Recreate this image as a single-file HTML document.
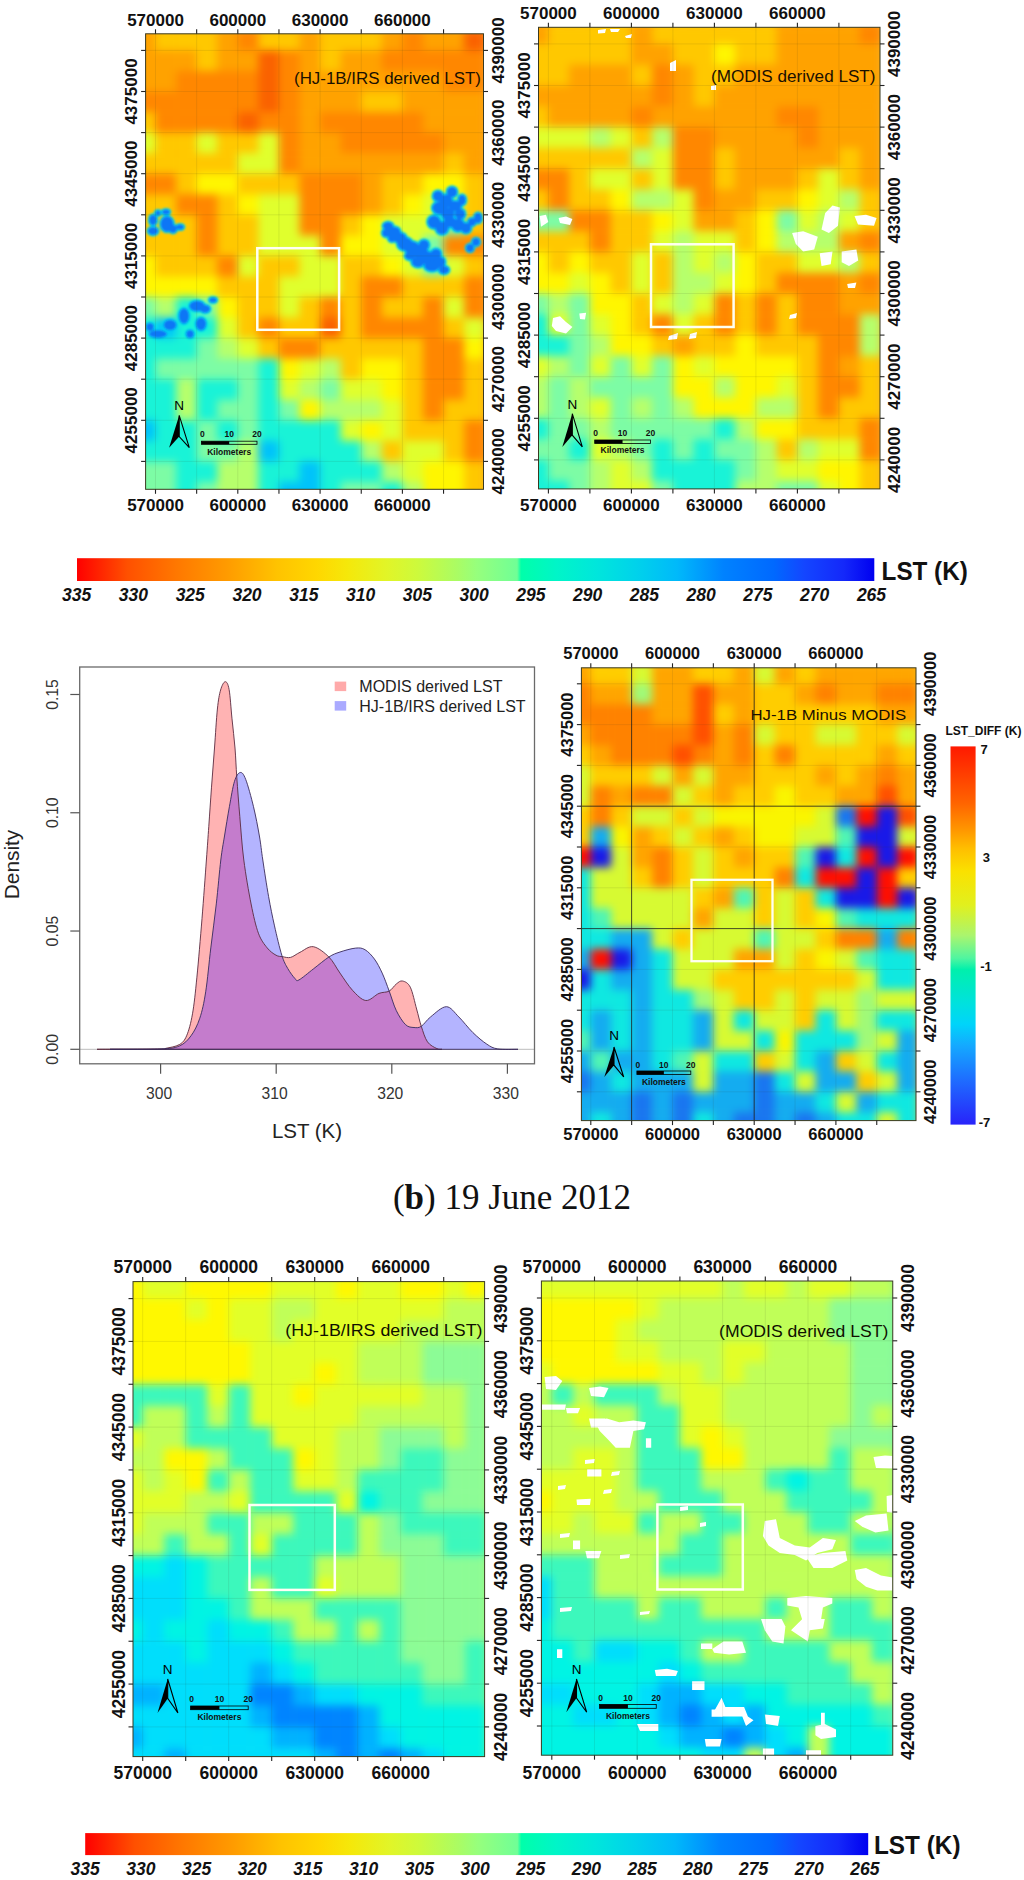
<!DOCTYPE html><html><head><meta charset="utf-8"><style>html,body{margin:0;padding:0;background:#fff;}svg{display:block;}</style></head><body>
<svg width="1024" height="1880" viewBox="0 0 1024 1880">
<rect width="1024" height="1880" fill="#fff"/>
<defs><filter id="blobblur" x="-10%" y="-10%" width="120%" height="120%"><feGaussianBlur stdDeviation="0.8"/></filter><filter id="blur_m1" x="-5%" y="-5%" width="110%" height="110%" color-interpolation-filters="sRGB"><feGaussianBlur stdDeviation="4.5" edgeMode="duplicate"/></filter><filter id="blur_m2" x="-5%" y="-5%" width="110%" height="110%" color-interpolation-filters="sRGB"><feGaussianBlur stdDeviation="4.5" edgeMode="duplicate"/></filter><filter id="blur_m3" x="-5%" y="-5%" width="110%" height="110%" color-interpolation-filters="sRGB"><feGaussianBlur stdDeviation="4.5" edgeMode="duplicate"/></filter><filter id="blur_m4" x="-5%" y="-5%" width="110%" height="110%" color-interpolation-filters="sRGB"><feGaussianBlur stdDeviation="4.5" edgeMode="duplicate"/></filter><filter id="blur_m5" x="-5%" y="-5%" width="110%" height="110%" color-interpolation-filters="sRGB"><feGaussianBlur stdDeviation="4.5" edgeMode="duplicate"/></filter></defs>
<clipPath id="clip_m1"><rect x="145.6" y="33.8" width="337.90" height="455.50"/></clipPath>
<g clip-path="url(#clip_m1)">
<rect x="145.6" y="33.8" width="337.9" height="455.5" fill="#f5a030"/>
<g filter="url(#blur_m1)"><rect x="134.9" y="29.8" width="21.2" height="21.2" fill="rgb(255, 162, 0)"/><rect x="155.5" y="29.8" width="21.2" height="21.2" fill="rgb(255, 200, 0)"/><rect x="176.1" y="29.8" width="21.2" height="21.2" fill="rgb(255, 200, 0)"/><rect x="196.7" y="29.8" width="21.2" height="21.2" fill="rgb(255, 200, 0)"/><rect x="217.2" y="29.8" width="21.2" height="21.2" fill="rgb(255, 162, 0)"/><rect x="237.8" y="29.8" width="21.2" height="21.2" fill="rgb(255, 135, 0)"/><rect x="258.4" y="29.8" width="21.2" height="21.2" fill="rgb(255, 200, 0)"/><rect x="278.9" y="29.8" width="21.2" height="21.2" fill="rgb(255, 200, 0)"/><rect x="299.5" y="29.8" width="21.2" height="21.2" fill="rgb(255, 162, 0)"/><rect x="320.1" y="29.8" width="21.2" height="21.2" fill="rgb(255, 200, 0)"/><rect x="340.7" y="29.8" width="21.2" height="21.2" fill="rgb(255, 200, 0)"/><rect x="361.2" y="29.8" width="21.2" height="21.2" fill="rgb(255, 200, 0)"/><rect x="381.8" y="29.8" width="21.2" height="21.2" fill="rgb(255, 162, 0)"/><rect x="402.4" y="29.8" width="21.2" height="21.2" fill="rgb(255, 135, 0)"/><rect x="423.0" y="29.8" width="21.2" height="21.2" fill="rgb(255, 162, 0)"/><rect x="443.6" y="29.8" width="21.2" height="21.2" fill="rgb(255, 162, 0)"/><rect x="464.1" y="29.8" width="21.2" height="21.2" fill="rgb(250, 98, 0)"/><rect x="134.9" y="50.4" width="21.2" height="21.2" fill="rgb(255, 162, 0)"/><rect x="155.5" y="50.4" width="21.2" height="21.2" fill="rgb(255, 162, 0)"/><rect x="176.1" y="50.4" width="21.2" height="21.2" fill="rgb(255, 162, 0)"/><rect x="196.7" y="50.4" width="21.2" height="21.2" fill="rgb(255, 200, 0)"/><rect x="217.2" y="50.4" width="21.2" height="21.2" fill="rgb(255, 162, 0)"/><rect x="237.8" y="50.4" width="21.2" height="21.2" fill="rgb(255, 162, 0)"/><rect x="258.4" y="50.4" width="21.2" height="21.2" fill="rgb(250, 98, 0)"/><rect x="278.9" y="50.4" width="21.2" height="21.2" fill="rgb(255, 135, 0)"/><rect x="299.5" y="50.4" width="21.2" height="21.2" fill="rgb(255, 162, 0)"/><rect x="320.1" y="50.4" width="21.2" height="21.2" fill="rgb(255, 200, 0)"/><rect x="340.7" y="50.4" width="21.2" height="21.2" fill="rgb(255, 162, 0)"/><rect x="361.2" y="50.4" width="21.2" height="21.2" fill="rgb(255, 162, 0)"/><rect x="381.8" y="50.4" width="21.2" height="21.2" fill="rgb(255, 135, 0)"/><rect x="402.4" y="50.4" width="21.2" height="21.2" fill="rgb(255, 135, 0)"/><rect x="423.0" y="50.4" width="21.2" height="21.2" fill="rgb(255, 135, 0)"/><rect x="443.6" y="50.4" width="21.2" height="21.2" fill="rgb(255, 135, 0)"/><rect x="464.1" y="50.4" width="21.2" height="21.2" fill="rgb(255, 135, 0)"/><rect x="134.9" y="71.0" width="21.2" height="21.2" fill="rgb(255, 162, 0)"/><rect x="155.5" y="71.0" width="21.2" height="21.2" fill="rgb(255, 162, 0)"/><rect x="176.1" y="71.0" width="21.2" height="21.2" fill="rgb(255, 135, 0)"/><rect x="196.7" y="71.0" width="21.2" height="21.2" fill="rgb(255, 135, 0)"/><rect x="217.2" y="71.0" width="21.2" height="21.2" fill="rgb(255, 135, 0)"/><rect x="237.8" y="71.0" width="21.2" height="21.2" fill="rgb(255, 135, 0)"/><rect x="258.4" y="71.0" width="21.2" height="21.2" fill="rgb(250, 98, 0)"/><rect x="278.9" y="71.0" width="21.2" height="21.2" fill="rgb(255, 135, 0)"/><rect x="299.5" y="71.0" width="21.2" height="21.2" fill="rgb(255, 162, 0)"/><rect x="320.1" y="71.0" width="21.2" height="21.2" fill="rgb(255, 162, 0)"/><rect x="340.7" y="71.0" width="21.2" height="21.2" fill="rgb(255, 162, 0)"/><rect x="361.2" y="71.0" width="21.2" height="21.2" fill="rgb(255, 162, 0)"/><rect x="381.8" y="71.0" width="21.2" height="21.2" fill="rgb(255, 162, 0)"/><rect x="402.4" y="71.0" width="21.2" height="21.2" fill="rgb(255, 162, 0)"/><rect x="423.0" y="71.0" width="21.2" height="21.2" fill="rgb(255, 162, 0)"/><rect x="443.6" y="71.0" width="21.2" height="21.2" fill="rgb(255, 135, 0)"/><rect x="464.1" y="71.0" width="21.2" height="21.2" fill="rgb(255, 135, 0)"/><rect x="134.9" y="91.5" width="21.2" height="21.2" fill="rgb(255, 135, 0)"/><rect x="155.5" y="91.5" width="21.2" height="21.2" fill="rgb(255, 135, 0)"/><rect x="176.1" y="91.5" width="21.2" height="21.2" fill="rgb(255, 135, 0)"/><rect x="196.7" y="91.5" width="21.2" height="21.2" fill="rgb(255, 135, 0)"/><rect x="217.2" y="91.5" width="21.2" height="21.2" fill="rgb(255, 135, 0)"/><rect x="237.8" y="91.5" width="21.2" height="21.2" fill="rgb(255, 135, 0)"/><rect x="258.4" y="91.5" width="21.2" height="21.2" fill="rgb(250, 98, 0)"/><rect x="278.9" y="91.5" width="21.2" height="21.2" fill="rgb(255, 135, 0)"/><rect x="299.5" y="91.5" width="21.2" height="21.2" fill="rgb(255, 162, 0)"/><rect x="320.1" y="91.5" width="21.2" height="21.2" fill="rgb(255, 162, 0)"/><rect x="340.7" y="91.5" width="21.2" height="21.2" fill="rgb(255, 162, 0)"/><rect x="361.2" y="91.5" width="21.2" height="21.2" fill="rgb(255, 200, 0)"/><rect x="381.8" y="91.5" width="21.2" height="21.2" fill="rgb(255, 200, 0)"/><rect x="402.4" y="91.5" width="21.2" height="21.2" fill="rgb(255, 162, 0)"/><rect x="423.0" y="91.5" width="21.2" height="21.2" fill="rgb(255, 162, 0)"/><rect x="443.6" y="91.5" width="21.2" height="21.2" fill="rgb(255, 162, 0)"/><rect x="464.1" y="91.5" width="21.2" height="21.2" fill="rgb(255, 162, 0)"/><rect x="134.9" y="112.1" width="21.2" height="21.2" fill="rgb(255, 200, 0)"/><rect x="155.5" y="112.1" width="21.2" height="21.2" fill="rgb(255, 135, 0)"/><rect x="176.1" y="112.1" width="21.2" height="21.2" fill="rgb(255, 135, 0)"/><rect x="196.7" y="112.1" width="21.2" height="21.2" fill="rgb(255, 135, 0)"/><rect x="217.2" y="112.1" width="21.2" height="21.2" fill="rgb(255, 135, 0)"/><rect x="237.8" y="112.1" width="21.2" height="21.2" fill="rgb(250, 98, 0)"/><rect x="258.4" y="112.1" width="21.2" height="21.2" fill="rgb(255, 135, 0)"/><rect x="278.9" y="112.1" width="21.2" height="21.2" fill="rgb(255, 135, 0)"/><rect x="299.5" y="112.1" width="21.2" height="21.2" fill="rgb(255, 162, 0)"/><rect x="320.1" y="112.1" width="21.2" height="21.2" fill="rgb(255, 135, 0)"/><rect x="340.7" y="112.1" width="21.2" height="21.2" fill="rgb(255, 135, 0)"/><rect x="361.2" y="112.1" width="21.2" height="21.2" fill="rgb(255, 135, 0)"/><rect x="381.8" y="112.1" width="21.2" height="21.2" fill="rgb(255, 135, 0)"/><rect x="402.4" y="112.1" width="21.2" height="21.2" fill="rgb(255, 135, 0)"/><rect x="423.0" y="112.1" width="21.2" height="21.2" fill="rgb(255, 162, 0)"/><rect x="443.6" y="112.1" width="21.2" height="21.2" fill="rgb(255, 162, 0)"/><rect x="464.1" y="112.1" width="21.2" height="21.2" fill="rgb(255, 162, 0)"/><rect x="134.9" y="132.6" width="21.2" height="21.2" fill="rgb(224, 255, 45)"/><rect x="155.5" y="132.6" width="21.2" height="21.2" fill="rgb(255, 200, 0)"/><rect x="176.1" y="132.6" width="21.2" height="21.2" fill="rgb(255, 200, 0)"/><rect x="196.7" y="132.6" width="21.2" height="21.2" fill="rgb(224, 255, 45)"/><rect x="217.2" y="132.6" width="21.2" height="21.2" fill="rgb(255, 200, 0)"/><rect x="237.8" y="132.6" width="21.2" height="21.2" fill="rgb(255, 200, 0)"/><rect x="258.4" y="132.6" width="21.2" height="21.2" fill="rgb(224, 255, 45)"/><rect x="278.9" y="132.6" width="21.2" height="21.2" fill="rgb(255, 135, 0)"/><rect x="299.5" y="132.6" width="21.2" height="21.2" fill="rgb(255, 162, 0)"/><rect x="320.1" y="132.6" width="21.2" height="21.2" fill="rgb(255, 162, 0)"/><rect x="340.7" y="132.6" width="21.2" height="21.2" fill="rgb(255, 135, 0)"/><rect x="361.2" y="132.6" width="21.2" height="21.2" fill="rgb(255, 135, 0)"/><rect x="381.8" y="132.6" width="21.2" height="21.2" fill="rgb(255, 135, 0)"/><rect x="402.4" y="132.6" width="21.2" height="21.2" fill="rgb(255, 135, 0)"/><rect x="423.0" y="132.6" width="21.2" height="21.2" fill="rgb(255, 135, 0)"/><rect x="443.6" y="132.6" width="21.2" height="21.2" fill="rgb(255, 162, 0)"/><rect x="464.1" y="132.6" width="21.2" height="21.2" fill="rgb(255, 162, 0)"/><rect x="134.9" y="153.2" width="21.2" height="21.2" fill="rgb(255, 200, 0)"/><rect x="155.5" y="153.2" width="21.2" height="21.2" fill="rgb(255, 200, 0)"/><rect x="176.1" y="153.2" width="21.2" height="21.2" fill="rgb(255, 200, 0)"/><rect x="196.7" y="153.2" width="21.2" height="21.2" fill="rgb(255, 200, 0)"/><rect x="217.2" y="153.2" width="21.2" height="21.2" fill="rgb(255, 200, 0)"/><rect x="237.8" y="153.2" width="21.2" height="21.2" fill="rgb(224, 255, 45)"/><rect x="258.4" y="153.2" width="21.2" height="21.2" fill="rgb(224, 255, 45)"/><rect x="278.9" y="153.2" width="21.2" height="21.2" fill="rgb(255, 135, 0)"/><rect x="299.5" y="153.2" width="21.2" height="21.2" fill="rgb(255, 162, 0)"/><rect x="320.1" y="153.2" width="21.2" height="21.2" fill="rgb(255, 162, 0)"/><rect x="340.7" y="153.2" width="21.2" height="21.2" fill="rgb(255, 162, 0)"/><rect x="361.2" y="153.2" width="21.2" height="21.2" fill="rgb(255, 162, 0)"/><rect x="381.8" y="153.2" width="21.2" height="21.2" fill="rgb(255, 162, 0)"/><rect x="402.4" y="153.2" width="21.2" height="21.2" fill="rgb(255, 162, 0)"/><rect x="423.0" y="153.2" width="21.2" height="21.2" fill="rgb(255, 162, 0)"/><rect x="443.6" y="153.2" width="21.2" height="21.2" fill="rgb(255, 200, 0)"/><rect x="464.1" y="153.2" width="21.2" height="21.2" fill="rgb(255, 162, 0)"/><rect x="134.9" y="173.7" width="21.2" height="21.2" fill="rgb(255, 135, 0)"/><rect x="155.5" y="173.7" width="21.2" height="21.2" fill="rgb(255, 135, 0)"/><rect x="176.1" y="173.7" width="21.2" height="21.2" fill="rgb(255, 200, 0)"/><rect x="196.7" y="173.7" width="21.2" height="21.2" fill="rgb(255, 246, 0)"/><rect x="217.2" y="173.7" width="21.2" height="21.2" fill="rgb(255, 246, 0)"/><rect x="237.8" y="173.7" width="21.2" height="21.2" fill="rgb(255, 200, 0)"/><rect x="258.4" y="173.7" width="21.2" height="21.2" fill="rgb(255, 200, 0)"/><rect x="278.9" y="173.7" width="21.2" height="21.2" fill="rgb(255, 200, 0)"/><rect x="299.5" y="173.7" width="21.2" height="21.2" fill="rgb(255, 135, 0)"/><rect x="320.1" y="173.7" width="21.2" height="21.2" fill="rgb(255, 135, 0)"/><rect x="340.7" y="173.7" width="21.2" height="21.2" fill="rgb(255, 135, 0)"/><rect x="361.2" y="173.7" width="21.2" height="21.2" fill="rgb(255, 162, 0)"/><rect x="381.8" y="173.7" width="21.2" height="21.2" fill="rgb(255, 200, 0)"/><rect x="402.4" y="173.7" width="21.2" height="21.2" fill="rgb(255, 200, 0)"/><rect x="423.0" y="173.7" width="21.2" height="21.2" fill="rgb(255, 246, 0)"/><rect x="443.6" y="173.7" width="21.2" height="21.2" fill="rgb(255, 246, 0)"/><rect x="464.1" y="173.7" width="21.2" height="21.2" fill="rgb(255, 200, 0)"/><rect x="134.9" y="194.2" width="21.2" height="21.2" fill="rgb(255, 200, 0)"/><rect x="155.5" y="194.2" width="21.2" height="21.2" fill="rgb(255, 200, 0)"/><rect x="176.1" y="194.2" width="21.2" height="21.2" fill="rgb(255, 135, 0)"/><rect x="196.7" y="194.2" width="21.2" height="21.2" fill="rgb(255, 135, 0)"/><rect x="217.2" y="194.2" width="21.2" height="21.2" fill="rgb(255, 200, 0)"/><rect x="237.8" y="194.2" width="21.2" height="21.2" fill="rgb(255, 246, 0)"/><rect x="258.4" y="194.2" width="21.2" height="21.2" fill="rgb(224, 255, 45)"/><rect x="278.9" y="194.2" width="21.2" height="21.2" fill="rgb(224, 255, 45)"/><rect x="299.5" y="194.2" width="21.2" height="21.2" fill="rgb(255, 135, 0)"/><rect x="320.1" y="194.2" width="21.2" height="21.2" fill="rgb(255, 135, 0)"/><rect x="340.7" y="194.2" width="21.2" height="21.2" fill="rgb(255, 135, 0)"/><rect x="361.2" y="194.2" width="21.2" height="21.2" fill="rgb(255, 162, 0)"/><rect x="381.8" y="194.2" width="21.2" height="21.2" fill="rgb(255, 200, 0)"/><rect x="402.4" y="194.2" width="21.2" height="21.2" fill="rgb(255, 246, 0)"/><rect x="423.0" y="194.2" width="21.2" height="21.2" fill="rgb(224, 255, 45)"/><rect x="443.6" y="194.2" width="21.2" height="21.2" fill="rgb(224, 255, 45)"/><rect x="464.1" y="194.2" width="21.2" height="21.2" fill="rgb(255, 200, 0)"/><rect x="134.9" y="214.8" width="21.2" height="21.2" fill="rgb(255, 200, 0)"/><rect x="155.5" y="214.8" width="21.2" height="21.2" fill="rgb(255, 200, 0)"/><rect x="176.1" y="214.8" width="21.2" height="21.2" fill="rgb(255, 200, 0)"/><rect x="196.7" y="214.8" width="21.2" height="21.2" fill="rgb(255, 135, 0)"/><rect x="217.2" y="214.8" width="21.2" height="21.2" fill="rgb(255, 200, 0)"/><rect x="237.8" y="214.8" width="21.2" height="21.2" fill="rgb(255, 200, 0)"/><rect x="258.4" y="214.8" width="21.2" height="21.2" fill="rgb(224, 255, 45)"/><rect x="278.9" y="214.8" width="21.2" height="21.2" fill="rgb(224, 255, 45)"/><rect x="299.5" y="214.8" width="21.2" height="21.2" fill="rgb(255, 135, 0)"/><rect x="320.1" y="214.8" width="21.2" height="21.2" fill="rgb(255, 135, 0)"/><rect x="340.7" y="214.8" width="21.2" height="21.2" fill="rgb(255, 200, 0)"/><rect x="361.2" y="214.8" width="21.2" height="21.2" fill="rgb(255, 246, 0)"/><rect x="381.8" y="214.8" width="21.2" height="21.2" fill="rgb(224, 255, 45)"/><rect x="402.4" y="214.8" width="21.2" height="21.2" fill="rgb(224, 255, 45)"/><rect x="423.0" y="214.8" width="21.2" height="21.2" fill="rgb(224, 255, 45)"/><rect x="443.6" y="214.8" width="21.2" height="21.2" fill="rgb(125, 252, 165)"/><rect x="464.1" y="214.8" width="21.2" height="21.2" fill="rgb(255, 200, 0)"/><rect x="134.9" y="235.4" width="21.2" height="21.2" fill="rgb(255, 200, 0)"/><rect x="155.5" y="235.4" width="21.2" height="21.2" fill="rgb(255, 200, 0)"/><rect x="176.1" y="235.4" width="21.2" height="21.2" fill="rgb(255, 200, 0)"/><rect x="196.7" y="235.4" width="21.2" height="21.2" fill="rgb(255, 135, 0)"/><rect x="217.2" y="235.4" width="21.2" height="21.2" fill="rgb(255, 200, 0)"/><rect x="237.8" y="235.4" width="21.2" height="21.2" fill="rgb(255, 200, 0)"/><rect x="258.4" y="235.4" width="21.2" height="21.2" fill="rgb(224, 255, 45)"/><rect x="278.9" y="235.4" width="21.2" height="21.2" fill="rgb(224, 255, 45)"/><rect x="299.5" y="235.4" width="21.2" height="21.2" fill="rgb(224, 255, 45)"/><rect x="320.1" y="235.4" width="21.2" height="21.2" fill="rgb(255, 135, 0)"/><rect x="340.7" y="235.4" width="21.2" height="21.2" fill="rgb(255, 246, 0)"/><rect x="361.2" y="235.4" width="21.2" height="21.2" fill="rgb(255, 246, 0)"/><rect x="381.8" y="235.4" width="21.2" height="21.2" fill="rgb(224, 255, 45)"/><rect x="402.4" y="235.4" width="21.2" height="21.2" fill="rgb(224, 255, 45)"/><rect x="423.0" y="235.4" width="21.2" height="21.2" fill="rgb(125, 252, 165)"/><rect x="443.6" y="235.4" width="21.2" height="21.2" fill="rgb(255, 135, 0)"/><rect x="464.1" y="235.4" width="21.2" height="21.2" fill="rgb(255, 135, 0)"/><rect x="134.9" y="255.9" width="21.2" height="21.2" fill="rgb(255, 246, 0)"/><rect x="155.5" y="255.9" width="21.2" height="21.2" fill="rgb(255, 200, 0)"/><rect x="176.1" y="255.9" width="21.2" height="21.2" fill="rgb(255, 200, 0)"/><rect x="196.7" y="255.9" width="21.2" height="21.2" fill="rgb(255, 200, 0)"/><rect x="217.2" y="255.9" width="21.2" height="21.2" fill="rgb(255, 135, 0)"/><rect x="237.8" y="255.9" width="21.2" height="21.2" fill="rgb(224, 255, 45)"/><rect x="258.4" y="255.9" width="21.2" height="21.2" fill="rgb(255, 200, 0)"/><rect x="278.9" y="255.9" width="21.2" height="21.2" fill="rgb(255, 200, 0)"/><rect x="299.5" y="255.9" width="21.2" height="21.2" fill="rgb(224, 255, 45)"/><rect x="320.1" y="255.9" width="21.2" height="21.2" fill="rgb(224, 255, 45)"/><rect x="340.7" y="255.9" width="21.2" height="21.2" fill="rgb(255, 200, 0)"/><rect x="361.2" y="255.9" width="21.2" height="21.2" fill="rgb(255, 200, 0)"/><rect x="381.8" y="255.9" width="21.2" height="21.2" fill="rgb(255, 246, 0)"/><rect x="402.4" y="255.9" width="21.2" height="21.2" fill="rgb(224, 255, 45)"/><rect x="423.0" y="255.9" width="21.2" height="21.2" fill="rgb(125, 252, 165)"/><rect x="443.6" y="255.9" width="21.2" height="21.2" fill="rgb(224, 255, 45)"/><rect x="464.1" y="255.9" width="21.2" height="21.2" fill="rgb(255, 200, 0)"/><rect x="134.9" y="276.4" width="21.2" height="21.2" fill="rgb(255, 246, 0)"/><rect x="155.5" y="276.4" width="21.2" height="21.2" fill="rgb(255, 246, 0)"/><rect x="176.1" y="276.4" width="21.2" height="21.2" fill="rgb(255, 246, 0)"/><rect x="196.7" y="276.4" width="21.2" height="21.2" fill="rgb(255, 246, 0)"/><rect x="217.2" y="276.4" width="21.2" height="21.2" fill="rgb(255, 200, 0)"/><rect x="237.8" y="276.4" width="21.2" height="21.2" fill="rgb(255, 200, 0)"/><rect x="258.4" y="276.4" width="21.2" height="21.2" fill="rgb(255, 200, 0)"/><rect x="278.9" y="276.4" width="21.2" height="21.2" fill="rgb(224, 255, 45)"/><rect x="299.5" y="276.4" width="21.2" height="21.2" fill="rgb(224, 255, 45)"/><rect x="320.1" y="276.4" width="21.2" height="21.2" fill="rgb(224, 255, 45)"/><rect x="340.7" y="276.4" width="21.2" height="21.2" fill="rgb(255, 200, 0)"/><rect x="361.2" y="276.4" width="21.2" height="21.2" fill="rgb(255, 135, 0)"/><rect x="381.8" y="276.4" width="21.2" height="21.2" fill="rgb(255, 135, 0)"/><rect x="402.4" y="276.4" width="21.2" height="21.2" fill="rgb(255, 200, 0)"/><rect x="423.0" y="276.4" width="21.2" height="21.2" fill="rgb(255, 200, 0)"/><rect x="443.6" y="276.4" width="21.2" height="21.2" fill="rgb(255, 200, 0)"/><rect x="464.1" y="276.4" width="21.2" height="21.2" fill="rgb(255, 135, 0)"/><rect x="134.9" y="297.0" width="21.2" height="21.2" fill="rgb(125, 252, 165)"/><rect x="155.5" y="297.0" width="21.2" height="21.2" fill="rgb(182, 255, 108)"/><rect x="176.1" y="297.0" width="21.2" height="21.2" fill="rgb(25, 243, 215)"/><rect x="196.7" y="297.0" width="21.2" height="21.2" fill="rgb(125, 252, 165)"/><rect x="217.2" y="297.0" width="21.2" height="21.2" fill="rgb(255, 246, 0)"/><rect x="237.8" y="297.0" width="21.2" height="21.2" fill="rgb(255, 200, 0)"/><rect x="258.4" y="297.0" width="21.2" height="21.2" fill="rgb(255, 200, 0)"/><rect x="278.9" y="297.0" width="21.2" height="21.2" fill="rgb(224, 255, 45)"/><rect x="299.5" y="297.0" width="21.2" height="21.2" fill="rgb(255, 200, 0)"/><rect x="320.1" y="297.0" width="21.2" height="21.2" fill="rgb(255, 135, 0)"/><rect x="340.7" y="297.0" width="21.2" height="21.2" fill="rgb(255, 200, 0)"/><rect x="361.2" y="297.0" width="21.2" height="21.2" fill="rgb(255, 135, 0)"/><rect x="381.8" y="297.0" width="21.2" height="21.2" fill="rgb(255, 200, 0)"/><rect x="402.4" y="297.0" width="21.2" height="21.2" fill="rgb(255, 200, 0)"/><rect x="423.0" y="297.0" width="21.2" height="21.2" fill="rgb(255, 135, 0)"/><rect x="443.6" y="297.0" width="21.2" height="21.2" fill="rgb(224, 255, 45)"/><rect x="464.1" y="297.0" width="21.2" height="21.2" fill="rgb(255, 135, 0)"/><rect x="134.9" y="317.6" width="21.2" height="21.2" fill="rgb(25, 243, 215)"/><rect x="155.5" y="317.6" width="21.2" height="21.2" fill="rgb(0, 195, 250)"/><rect x="176.1" y="317.6" width="21.2" height="21.2" fill="rgb(25, 243, 215)"/><rect x="196.7" y="317.6" width="21.2" height="21.2" fill="rgb(25, 243, 215)"/><rect x="217.2" y="317.6" width="21.2" height="21.2" fill="rgb(224, 255, 45)"/><rect x="237.8" y="317.6" width="21.2" height="21.2" fill="rgb(255, 200, 0)"/><rect x="258.4" y="317.6" width="21.2" height="21.2" fill="rgb(255, 135, 0)"/><rect x="278.9" y="317.6" width="21.2" height="21.2" fill="rgb(255, 200, 0)"/><rect x="299.5" y="317.6" width="21.2" height="21.2" fill="rgb(255, 200, 0)"/><rect x="320.1" y="317.6" width="21.2" height="21.2" fill="rgb(250, 98, 0)"/><rect x="340.7" y="317.6" width="21.2" height="21.2" fill="rgb(255, 200, 0)"/><rect x="361.2" y="317.6" width="21.2" height="21.2" fill="rgb(255, 135, 0)"/><rect x="381.8" y="317.6" width="21.2" height="21.2" fill="rgb(255, 135, 0)"/><rect x="402.4" y="317.6" width="21.2" height="21.2" fill="rgb(255, 135, 0)"/><rect x="423.0" y="317.6" width="21.2" height="21.2" fill="rgb(255, 135, 0)"/><rect x="443.6" y="317.6" width="21.2" height="21.2" fill="rgb(255, 200, 0)"/><rect x="464.1" y="317.6" width="21.2" height="21.2" fill="rgb(224, 255, 45)"/><rect x="134.9" y="338.1" width="21.2" height="21.2" fill="rgb(25, 243, 215)"/><rect x="155.5" y="338.1" width="21.2" height="21.2" fill="rgb(25, 243, 215)"/><rect x="176.1" y="338.1" width="21.2" height="21.2" fill="rgb(25, 243, 215)"/><rect x="196.7" y="338.1" width="21.2" height="21.2" fill="rgb(125, 252, 165)"/><rect x="217.2" y="338.1" width="21.2" height="21.2" fill="rgb(182, 255, 108)"/><rect x="237.8" y="338.1" width="21.2" height="21.2" fill="rgb(224, 255, 45)"/><rect x="258.4" y="338.1" width="21.2" height="21.2" fill="rgb(255, 200, 0)"/><rect x="278.9" y="338.1" width="21.2" height="21.2" fill="rgb(255, 135, 0)"/><rect x="299.5" y="338.1" width="21.2" height="21.2" fill="rgb(255, 135, 0)"/><rect x="320.1" y="338.1" width="21.2" height="21.2" fill="rgb(255, 200, 0)"/><rect x="340.7" y="338.1" width="21.2" height="21.2" fill="rgb(255, 200, 0)"/><rect x="361.2" y="338.1" width="21.2" height="21.2" fill="rgb(255, 200, 0)"/><rect x="381.8" y="338.1" width="21.2" height="21.2" fill="rgb(255, 200, 0)"/><rect x="402.4" y="338.1" width="21.2" height="21.2" fill="rgb(255, 200, 0)"/><rect x="423.0" y="338.1" width="21.2" height="21.2" fill="rgb(255, 135, 0)"/><rect x="443.6" y="338.1" width="21.2" height="21.2" fill="rgb(255, 135, 0)"/><rect x="464.1" y="338.1" width="21.2" height="21.2" fill="rgb(255, 246, 0)"/><rect x="134.9" y="358.6" width="21.2" height="21.2" fill="rgb(25, 243, 215)"/><rect x="155.5" y="358.6" width="21.2" height="21.2" fill="rgb(125, 252, 165)"/><rect x="176.1" y="358.6" width="21.2" height="21.2" fill="rgb(125, 252, 165)"/><rect x="196.7" y="358.6" width="21.2" height="21.2" fill="rgb(125, 252, 165)"/><rect x="217.2" y="358.6" width="21.2" height="21.2" fill="rgb(125, 252, 165)"/><rect x="237.8" y="358.6" width="21.2" height="21.2" fill="rgb(125, 252, 165)"/><rect x="258.4" y="358.6" width="21.2" height="21.2" fill="rgb(25, 243, 215)"/><rect x="278.9" y="358.6" width="21.2" height="21.2" fill="rgb(255, 246, 0)"/><rect x="299.5" y="358.6" width="21.2" height="21.2" fill="rgb(224, 255, 45)"/><rect x="320.1" y="358.6" width="21.2" height="21.2" fill="rgb(182, 255, 108)"/><rect x="340.7" y="358.6" width="21.2" height="21.2" fill="rgb(255, 200, 0)"/><rect x="361.2" y="358.6" width="21.2" height="21.2" fill="rgb(255, 246, 0)"/><rect x="381.8" y="358.6" width="21.2" height="21.2" fill="rgb(255, 246, 0)"/><rect x="402.4" y="358.6" width="21.2" height="21.2" fill="rgb(255, 200, 0)"/><rect x="423.0" y="358.6" width="21.2" height="21.2" fill="rgb(255, 135, 0)"/><rect x="443.6" y="358.6" width="21.2" height="21.2" fill="rgb(255, 135, 0)"/><rect x="464.1" y="358.6" width="21.2" height="21.2" fill="rgb(255, 200, 0)"/><rect x="134.9" y="379.2" width="21.2" height="21.2" fill="rgb(25, 243, 215)"/><rect x="155.5" y="379.2" width="21.2" height="21.2" fill="rgb(25, 243, 215)"/><rect x="176.1" y="379.2" width="21.2" height="21.2" fill="rgb(182, 255, 108)"/><rect x="196.7" y="379.2" width="21.2" height="21.2" fill="rgb(25, 243, 215)"/><rect x="217.2" y="379.2" width="21.2" height="21.2" fill="rgb(25, 243, 215)"/><rect x="237.8" y="379.2" width="21.2" height="21.2" fill="rgb(125, 252, 165)"/><rect x="258.4" y="379.2" width="21.2" height="21.2" fill="rgb(25, 243, 215)"/><rect x="278.9" y="379.2" width="21.2" height="21.2" fill="rgb(224, 255, 45)"/><rect x="299.5" y="379.2" width="21.2" height="21.2" fill="rgb(182, 255, 108)"/><rect x="320.1" y="379.2" width="21.2" height="21.2" fill="rgb(125, 252, 165)"/><rect x="340.7" y="379.2" width="21.2" height="21.2" fill="rgb(224, 255, 45)"/><rect x="361.2" y="379.2" width="21.2" height="21.2" fill="rgb(224, 255, 45)"/><rect x="381.8" y="379.2" width="21.2" height="21.2" fill="rgb(255, 246, 0)"/><rect x="402.4" y="379.2" width="21.2" height="21.2" fill="rgb(255, 200, 0)"/><rect x="423.0" y="379.2" width="21.2" height="21.2" fill="rgb(255, 135, 0)"/><rect x="443.6" y="379.2" width="21.2" height="21.2" fill="rgb(255, 135, 0)"/><rect x="464.1" y="379.2" width="21.2" height="21.2" fill="rgb(255, 200, 0)"/><rect x="134.9" y="399.8" width="21.2" height="21.2" fill="rgb(25, 243, 215)"/><rect x="155.5" y="399.8" width="21.2" height="21.2" fill="rgb(25, 243, 215)"/><rect x="176.1" y="399.8" width="21.2" height="21.2" fill="rgb(182, 255, 108)"/><rect x="196.7" y="399.8" width="21.2" height="21.2" fill="rgb(25, 243, 215)"/><rect x="217.2" y="399.8" width="21.2" height="21.2" fill="rgb(125, 252, 165)"/><rect x="237.8" y="399.8" width="21.2" height="21.2" fill="rgb(125, 252, 165)"/><rect x="258.4" y="399.8" width="21.2" height="21.2" fill="rgb(25, 243, 215)"/><rect x="278.9" y="399.8" width="21.2" height="21.2" fill="rgb(125, 252, 165)"/><rect x="299.5" y="399.8" width="21.2" height="21.2" fill="rgb(255, 246, 0)"/><rect x="320.1" y="399.8" width="21.2" height="21.2" fill="rgb(182, 255, 108)"/><rect x="340.7" y="399.8" width="21.2" height="21.2" fill="rgb(182, 255, 108)"/><rect x="361.2" y="399.8" width="21.2" height="21.2" fill="rgb(182, 255, 108)"/><rect x="381.8" y="399.8" width="21.2" height="21.2" fill="rgb(224, 255, 45)"/><rect x="402.4" y="399.8" width="21.2" height="21.2" fill="rgb(255, 200, 0)"/><rect x="423.0" y="399.8" width="21.2" height="21.2" fill="rgb(255, 135, 0)"/><rect x="443.6" y="399.8" width="21.2" height="21.2" fill="rgb(255, 200, 0)"/><rect x="464.1" y="399.8" width="21.2" height="21.2" fill="rgb(255, 200, 0)"/><rect x="134.9" y="420.3" width="21.2" height="21.2" fill="rgb(0, 195, 250)"/><rect x="155.5" y="420.3" width="21.2" height="21.2" fill="rgb(25, 243, 215)"/><rect x="176.1" y="420.3" width="21.2" height="21.2" fill="rgb(25, 243, 215)"/><rect x="196.7" y="420.3" width="21.2" height="21.2" fill="rgb(125, 252, 165)"/><rect x="217.2" y="420.3" width="21.2" height="21.2" fill="rgb(25, 243, 215)"/><rect x="237.8" y="420.3" width="21.2" height="21.2" fill="rgb(125, 252, 165)"/><rect x="258.4" y="420.3" width="21.2" height="21.2" fill="rgb(25, 243, 215)"/><rect x="278.9" y="420.3" width="21.2" height="21.2" fill="rgb(25, 243, 215)"/><rect x="299.5" y="420.3" width="21.2" height="21.2" fill="rgb(25, 243, 215)"/><rect x="320.1" y="420.3" width="21.2" height="21.2" fill="rgb(25, 243, 215)"/><rect x="340.7" y="420.3" width="21.2" height="21.2" fill="rgb(224, 255, 45)"/><rect x="361.2" y="420.3" width="21.2" height="21.2" fill="rgb(255, 246, 0)"/><rect x="381.8" y="420.3" width="21.2" height="21.2" fill="rgb(224, 255, 45)"/><rect x="402.4" y="420.3" width="21.2" height="21.2" fill="rgb(255, 200, 0)"/><rect x="423.0" y="420.3" width="21.2" height="21.2" fill="rgb(255, 200, 0)"/><rect x="443.6" y="420.3" width="21.2" height="21.2" fill="rgb(255, 200, 0)"/><rect x="464.1" y="420.3" width="21.2" height="21.2" fill="rgb(255, 135, 0)"/><rect x="134.9" y="440.8" width="21.2" height="21.2" fill="rgb(25, 243, 215)"/><rect x="155.5" y="440.8" width="21.2" height="21.2" fill="rgb(25, 243, 215)"/><rect x="176.1" y="440.8" width="21.2" height="21.2" fill="rgb(25, 243, 215)"/><rect x="196.7" y="440.8" width="21.2" height="21.2" fill="rgb(125, 252, 165)"/><rect x="217.2" y="440.8" width="21.2" height="21.2" fill="rgb(125, 252, 165)"/><rect x="237.8" y="440.8" width="21.2" height="21.2" fill="rgb(182, 255, 108)"/><rect x="258.4" y="440.8" width="21.2" height="21.2" fill="rgb(0, 195, 250)"/><rect x="278.9" y="440.8" width="21.2" height="21.2" fill="rgb(25, 243, 215)"/><rect x="299.5" y="440.8" width="21.2" height="21.2" fill="rgb(25, 243, 215)"/><rect x="320.1" y="440.8" width="21.2" height="21.2" fill="rgb(25, 243, 215)"/><rect x="340.7" y="440.8" width="21.2" height="21.2" fill="rgb(25, 243, 215)"/><rect x="361.2" y="440.8" width="21.2" height="21.2" fill="rgb(182, 255, 108)"/><rect x="381.8" y="440.8" width="21.2" height="21.2" fill="rgb(255, 200, 0)"/><rect x="402.4" y="440.8" width="21.2" height="21.2" fill="rgb(224, 255, 45)"/><rect x="423.0" y="440.8" width="21.2" height="21.2" fill="rgb(224, 255, 45)"/><rect x="443.6" y="440.8" width="21.2" height="21.2" fill="rgb(255, 200, 0)"/><rect x="464.1" y="440.8" width="21.2" height="21.2" fill="rgb(255, 135, 0)"/><rect x="134.9" y="461.4" width="21.2" height="21.2" fill="rgb(125, 252, 165)"/><rect x="155.5" y="461.4" width="21.2" height="21.2" fill="rgb(125, 252, 165)"/><rect x="176.1" y="461.4" width="21.2" height="21.2" fill="rgb(25, 243, 215)"/><rect x="196.7" y="461.4" width="21.2" height="21.2" fill="rgb(25, 243, 215)"/><rect x="217.2" y="461.4" width="21.2" height="21.2" fill="rgb(182, 255, 108)"/><rect x="237.8" y="461.4" width="21.2" height="21.2" fill="rgb(182, 255, 108)"/><rect x="258.4" y="461.4" width="21.2" height="21.2" fill="rgb(25, 243, 215)"/><rect x="278.9" y="461.4" width="21.2" height="21.2" fill="rgb(25, 243, 215)"/><rect x="299.5" y="461.4" width="21.2" height="21.2" fill="rgb(0, 195, 250)"/><rect x="320.1" y="461.4" width="21.2" height="21.2" fill="rgb(25, 243, 215)"/><rect x="340.7" y="461.4" width="21.2" height="21.2" fill="rgb(25, 243, 215)"/><rect x="361.2" y="461.4" width="21.2" height="21.2" fill="rgb(25, 243, 215)"/><rect x="381.8" y="461.4" width="21.2" height="21.2" fill="rgb(182, 255, 108)"/><rect x="402.4" y="461.4" width="21.2" height="21.2" fill="rgb(224, 255, 45)"/><rect x="423.0" y="461.4" width="21.2" height="21.2" fill="rgb(255, 246, 0)"/><rect x="443.6" y="461.4" width="21.2" height="21.2" fill="rgb(255, 246, 0)"/><rect x="464.1" y="461.4" width="21.2" height="21.2" fill="rgb(255, 200, 0)"/><rect x="134.9" y="481.9" width="21.2" height="21.2" fill="rgb(125, 252, 165)"/><rect x="155.5" y="481.9" width="21.2" height="21.2" fill="rgb(125, 252, 165)"/><rect x="176.1" y="481.9" width="21.2" height="21.2" fill="rgb(25, 243, 215)"/><rect x="196.7" y="481.9" width="21.2" height="21.2" fill="rgb(125, 252, 165)"/><rect x="217.2" y="481.9" width="21.2" height="21.2" fill="rgb(182, 255, 108)"/><rect x="237.8" y="481.9" width="21.2" height="21.2" fill="rgb(182, 255, 108)"/><rect x="258.4" y="481.9" width="21.2" height="21.2" fill="rgb(25, 243, 215)"/><rect x="278.9" y="481.9" width="21.2" height="21.2" fill="rgb(0, 195, 250)"/><rect x="299.5" y="481.9" width="21.2" height="21.2" fill="rgb(0, 195, 250)"/><rect x="320.1" y="481.9" width="21.2" height="21.2" fill="rgb(25, 243, 215)"/><rect x="340.7" y="481.9" width="21.2" height="21.2" fill="rgb(125, 252, 165)"/><rect x="361.2" y="481.9" width="21.2" height="21.2" fill="rgb(125, 252, 165)"/><rect x="381.8" y="481.9" width="21.2" height="21.2" fill="rgb(25, 243, 215)"/><rect x="402.4" y="481.9" width="21.2" height="21.2" fill="rgb(182, 255, 108)"/><rect x="423.0" y="481.9" width="21.2" height="21.2" fill="rgb(255, 246, 0)"/><rect x="443.6" y="481.9" width="21.2" height="21.2" fill="rgb(255, 246, 0)"/><rect x="464.1" y="481.9" width="21.2" height="21.2" fill="rgb(255, 200, 0)"/></g>
<g filter="url(#blobblur)">
<ellipse cx="388" cy="226" rx="6.7" ry="5.4" fill="rgb(0,215,240)"/>
<ellipse cx="394" cy="232" rx="8.0" ry="6.7" fill="rgb(0,215,240)"/>
<ellipse cx="400" cy="238" rx="8.0" ry="6.7" fill="rgb(0,215,240)"/>
<ellipse cx="392" cy="238" rx="5.4" ry="5.4" fill="rgb(0,215,240)"/>
<ellipse cx="386" cy="233" rx="5.4" ry="5.4" fill="rgb(0,215,240)"/>
<ellipse cx="405" cy="244" rx="9.3" ry="8.0" fill="rgb(0,215,240)"/>
<ellipse cx="412" cy="248" rx="9.3" ry="8.0" fill="rgb(0,215,240)"/>
<ellipse cx="420" cy="252" rx="9.3" ry="8.0" fill="rgb(0,215,240)"/>
<ellipse cx="428" cy="258" rx="10.6" ry="8.0" fill="rgb(0,215,240)"/>
<ellipse cx="418" cy="262" rx="8.0" ry="6.7" fill="rgb(0,215,240)"/>
<ellipse cx="432" cy="266" rx="9.3" ry="6.7" fill="rgb(0,215,240)"/>
<ellipse cx="440" cy="262" rx="6.7" ry="6.7" fill="rgb(0,215,240)"/>
<ellipse cx="410" cy="256" rx="6.7" ry="5.4" fill="rgb(0,215,240)"/>
<ellipse cx="424" cy="245" rx="6.7" ry="6.7" fill="rgb(0,215,240)"/>
<ellipse cx="436" cy="254" rx="6.7" ry="6.7" fill="rgb(0,215,240)"/>
<ellipse cx="444" cy="270" rx="6.7" ry="5.4" fill="rgb(0,215,240)"/>
<ellipse cx="438" cy="196" rx="6.7" ry="6.7" fill="rgb(0,215,240)"/>
<ellipse cx="446" cy="201" rx="8.0" ry="8.0" fill="rgb(0,215,240)"/>
<ellipse cx="452" cy="192" rx="6.7" ry="6.7" fill="rgb(0,215,240)"/>
<ellipse cx="440" cy="208" rx="9.3" ry="8.0" fill="rgb(0,215,240)"/>
<ellipse cx="448" cy="214" rx="8.0" ry="8.0" fill="rgb(0,215,240)"/>
<ellipse cx="455" cy="206" rx="8.0" ry="6.7" fill="rgb(0,215,240)"/>
<ellipse cx="462" cy="200" rx="5.4" ry="6.7" fill="rgb(0,215,240)"/>
<ellipse cx="460" cy="214" rx="6.7" ry="6.7" fill="rgb(0,215,240)"/>
<ellipse cx="434" cy="222" rx="8.0" ry="8.0" fill="rgb(0,215,240)"/>
<ellipse cx="442" cy="228" rx="8.0" ry="8.0" fill="rgb(0,215,240)"/>
<ellipse cx="450" cy="222" rx="8.0" ry="6.7" fill="rgb(0,215,240)"/>
<ellipse cx="458" cy="225" rx="8.0" ry="8.0" fill="rgb(0,215,240)"/>
<ellipse cx="466" cy="228" rx="6.7" ry="6.7" fill="rgb(0,215,240)"/>
<ellipse cx="472" cy="222" rx="5.4" ry="5.4" fill="rgb(0,215,240)"/>
<ellipse cx="478" cy="218" rx="5.4" ry="6.7" fill="rgb(0,215,240)"/>
<ellipse cx="470" cy="248" rx="5.4" ry="5.4" fill="rgb(0,215,240)"/>
<ellipse cx="476" cy="242" rx="5.4" ry="5.4" fill="rgb(0,215,240)"/>
<ellipse cx="153" cy="220" rx="5.4" ry="6.7" fill="rgb(0,215,240)"/>
<ellipse cx="158" cy="213" rx="4.1" ry="4.1" fill="rgb(0,215,240)"/>
<ellipse cx="166" cy="212" rx="5.4" ry="4.1" fill="rgb(0,215,240)"/>
<ellipse cx="167" cy="224" rx="8.0" ry="9.3" fill="rgb(0,215,240)"/>
<ellipse cx="173" cy="229" rx="5.4" ry="5.4" fill="rgb(0,215,240)"/>
<ellipse cx="153" cy="231" rx="6.7" ry="5.4" fill="rgb(0,215,240)"/>
<ellipse cx="180" cy="227" rx="5.4" ry="4.1" fill="rgb(0,215,240)"/>
<ellipse cx="197" cy="306" rx="9.3" ry="6.7" fill="rgb(0,215,240)"/>
<ellipse cx="205" cy="309" rx="6.7" ry="5.4" fill="rgb(0,215,240)"/>
<ellipse cx="184" cy="316" rx="6.7" ry="9.3" fill="rgb(0,215,240)"/>
<ellipse cx="170" cy="325" rx="8.0" ry="6.7" fill="rgb(0,215,240)"/>
<ellipse cx="158" cy="334" rx="10.6" ry="5.4" fill="rgb(0,215,240)"/>
<ellipse cx="201" cy="324" rx="6.7" ry="8.0" fill="rgb(0,215,240)"/>
<ellipse cx="190" cy="334" rx="5.4" ry="5.4" fill="rgb(0,215,240)"/>
<ellipse cx="213" cy="300" rx="5.4" ry="4.1" fill="rgb(0,215,240)"/>
<ellipse cx="150" cy="327" rx="5.4" ry="5.4" fill="rgb(0,215,240)"/>
<ellipse cx="388" cy="226" rx="5.2" ry="3.9000000000000004" fill="rgb(10,118,246)"/>
<ellipse cx="394" cy="232" rx="6.5" ry="5.2" fill="rgb(10,118,246)"/>
<ellipse cx="400" cy="238" rx="6.5" ry="5.2" fill="rgb(10,118,246)"/>
<ellipse cx="392" cy="238" rx="3.9000000000000004" ry="3.9000000000000004" fill="rgb(10,118,246)"/>
<ellipse cx="386" cy="233" rx="3.9000000000000004" ry="3.9000000000000004" fill="rgb(10,118,246)"/>
<ellipse cx="405" cy="244" rx="7.800000000000001" ry="6.5" fill="rgb(10,118,246)"/>
<ellipse cx="412" cy="248" rx="7.800000000000001" ry="6.5" fill="rgb(10,118,246)"/>
<ellipse cx="420" cy="252" rx="7.800000000000001" ry="6.5" fill="rgb(10,118,246)"/>
<ellipse cx="428" cy="258" rx="9.1" ry="6.5" fill="rgb(10,118,246)"/>
<ellipse cx="418" cy="262" rx="6.5" ry="5.2" fill="rgb(10,118,246)"/>
<ellipse cx="432" cy="266" rx="7.800000000000001" ry="5.2" fill="rgb(10,118,246)"/>
<ellipse cx="440" cy="262" rx="5.2" ry="5.2" fill="rgb(10,118,246)"/>
<ellipse cx="410" cy="256" rx="5.2" ry="3.9000000000000004" fill="rgb(10,118,246)"/>
<ellipse cx="424" cy="245" rx="5.2" ry="5.2" fill="rgb(10,118,246)"/>
<ellipse cx="436" cy="254" rx="5.2" ry="5.2" fill="rgb(10,118,246)"/>
<ellipse cx="444" cy="270" rx="5.2" ry="3.9000000000000004" fill="rgb(10,118,246)"/>
<ellipse cx="438" cy="196" rx="5.2" ry="5.2" fill="rgb(10,118,246)"/>
<ellipse cx="446" cy="201" rx="6.5" ry="6.5" fill="rgb(10,118,246)"/>
<ellipse cx="452" cy="192" rx="5.2" ry="5.2" fill="rgb(10,118,246)"/>
<ellipse cx="440" cy="208" rx="7.800000000000001" ry="6.5" fill="rgb(10,118,246)"/>
<ellipse cx="448" cy="214" rx="6.5" ry="6.5" fill="rgb(10,118,246)"/>
<ellipse cx="455" cy="206" rx="6.5" ry="5.2" fill="rgb(10,118,246)"/>
<ellipse cx="462" cy="200" rx="3.9000000000000004" ry="5.2" fill="rgb(10,118,246)"/>
<ellipse cx="460" cy="214" rx="5.2" ry="5.2" fill="rgb(10,118,246)"/>
<ellipse cx="434" cy="222" rx="6.5" ry="6.5" fill="rgb(10,118,246)"/>
<ellipse cx="442" cy="228" rx="6.5" ry="6.5" fill="rgb(10,118,246)"/>
<ellipse cx="450" cy="222" rx="6.5" ry="5.2" fill="rgb(10,118,246)"/>
<ellipse cx="458" cy="225" rx="6.5" ry="6.5" fill="rgb(10,118,246)"/>
<ellipse cx="466" cy="228" rx="5.2" ry="5.2" fill="rgb(10,118,246)"/>
<ellipse cx="472" cy="222" rx="3.9000000000000004" ry="3.9000000000000004" fill="rgb(10,118,246)"/>
<ellipse cx="478" cy="218" rx="3.9000000000000004" ry="5.2" fill="rgb(10,118,246)"/>
<ellipse cx="470" cy="248" rx="3.9000000000000004" ry="3.9000000000000004" fill="rgb(10,118,246)"/>
<ellipse cx="476" cy="242" rx="3.9000000000000004" ry="3.9000000000000004" fill="rgb(10,118,246)"/>
<ellipse cx="153" cy="220" rx="3.9000000000000004" ry="5.2" fill="rgb(10,118,246)"/>
<ellipse cx="158" cy="213" rx="2.6" ry="2.6" fill="rgb(10,118,246)"/>
<ellipse cx="166" cy="212" rx="3.9000000000000004" ry="2.6" fill="rgb(10,118,246)"/>
<ellipse cx="167" cy="224" rx="6.5" ry="7.800000000000001" fill="rgb(10,118,246)"/>
<ellipse cx="173" cy="229" rx="3.9000000000000004" ry="3.9000000000000004" fill="rgb(10,118,246)"/>
<ellipse cx="153" cy="231" rx="5.2" ry="3.9000000000000004" fill="rgb(10,118,246)"/>
<ellipse cx="180" cy="227" rx="3.9000000000000004" ry="2.6" fill="rgb(10,118,246)"/>
<ellipse cx="197" cy="306" rx="7.800000000000001" ry="5.2" fill="rgb(10,118,246)"/>
<ellipse cx="205" cy="309" rx="5.2" ry="3.9000000000000004" fill="rgb(10,118,246)"/>
<ellipse cx="184" cy="316" rx="5.2" ry="7.800000000000001" fill="rgb(10,118,246)"/>
<ellipse cx="170" cy="325" rx="6.5" ry="5.2" fill="rgb(10,118,246)"/>
<ellipse cx="158" cy="334" rx="9.1" ry="3.9000000000000004" fill="rgb(10,118,246)"/>
<ellipse cx="201" cy="324" rx="5.2" ry="6.5" fill="rgb(10,118,246)"/>
<ellipse cx="190" cy="334" rx="3.9000000000000004" ry="3.9000000000000004" fill="rgb(10,118,246)"/>
<ellipse cx="213" cy="300" rx="3.9000000000000004" ry="2.6" fill="rgb(10,118,246)"/>
<ellipse cx="150" cy="327" rx="3.9000000000000004" ry="3.9000000000000004" fill="rgb(10,118,246)"/>
</g>
<g stroke="rgba(50,60,30,0.10)" stroke-width="1"><line x1="155.50" y1="33.8" x2="155.50" y2="489.3"/><line x1="196.65" y1="33.8" x2="196.65" y2="489.3"/><line x1="237.80" y1="33.8" x2="237.80" y2="489.3"/><line x1="278.95" y1="33.8" x2="278.95" y2="489.3"/><line x1="320.10" y1="33.8" x2="320.10" y2="489.3"/><line x1="361.25" y1="33.8" x2="361.25" y2="489.3"/><line x1="402.40" y1="33.8" x2="402.40" y2="489.3"/><line x1="443.55" y1="33.8" x2="443.55" y2="489.3"/><line x1="145.6" y1="50.40" x2="483.5" y2="50.40"/><line x1="145.6" y1="91.50" x2="483.5" y2="91.50"/><line x1="145.6" y1="132.60" x2="483.5" y2="132.60"/><line x1="145.6" y1="173.70" x2="483.5" y2="173.70"/><line x1="145.6" y1="214.80" x2="483.5" y2="214.80"/><line x1="145.6" y1="255.90" x2="483.5" y2="255.90"/><line x1="145.6" y1="297.00" x2="483.5" y2="297.00"/><line x1="145.6" y1="338.10" x2="483.5" y2="338.10"/><line x1="145.6" y1="379.20" x2="483.5" y2="379.20"/><line x1="145.6" y1="420.30" x2="483.5" y2="420.30"/><line x1="145.6" y1="461.40" x2="483.5" y2="461.40"/></g>
<rect x="257.3" y="248.2" width="81.8" height="81.6" fill="none" stroke="#fffff4" stroke-width="2.5"/>
<text x="294" y="84.4" textLength="187" lengthAdjust="spacingAndGlyphs" font-family='"Liberation Sans", sans-serif' font-size="15.8" fill="#1a1000">(HJ-1B/IRS derived LST)</text>
<path d="M179.2,415.3 L169.1,447.7 L179.2,436.6 Z" fill="#000"/><path d="M179.2,415.3 L189.29999999999998,447.7 L179.2,436.6 Z" fill="none" stroke="#000" stroke-width="1.1" stroke-linejoin="miter"/><text x="179.2" y="410.1" text-anchor="middle" font-family='"Liberation Sans", sans-serif' font-size="13.5">N</text><rect x="201.4" y="441.2" width="55.599999999999994" height="3.1000000000000227" fill="none" stroke="#000" stroke-width="0.8"/><rect x="201.4" y="441.2" width="27.799999999999983" height="3.1000000000000227" fill="#000"/><g font-family='"Liberation Sans", sans-serif' font-weight="bold" font-size="8.5" text-anchor="middle" fill="#111"><text x="202.4" y="437.0">0</text><text x="229.2" y="437.0">10</text><text x="257.0" y="437.0">20</text><text x="229.2" y="454.6">Kilometers</text></g>
</g>
<rect x="145.6" y="33.8" width="337.90" height="455.50" fill="none" stroke="#3a3a20" stroke-width="1"/>
<g stroke="#222" stroke-width="1.1"><line x1="155.50" y1="29.30" x2="155.50" y2="33.80"/><line x1="155.50" y1="489.30" x2="155.50" y2="493.80"/><line x1="196.65" y1="29.30" x2="196.65" y2="33.80"/><line x1="196.65" y1="489.30" x2="196.65" y2="493.80"/><line x1="237.80" y1="29.30" x2="237.80" y2="33.80"/><line x1="237.80" y1="489.30" x2="237.80" y2="493.80"/><line x1="278.95" y1="29.30" x2="278.95" y2="33.80"/><line x1="278.95" y1="489.30" x2="278.95" y2="493.80"/><line x1="320.10" y1="29.30" x2="320.10" y2="33.80"/><line x1="320.10" y1="489.30" x2="320.10" y2="493.80"/><line x1="361.25" y1="29.30" x2="361.25" y2="33.80"/><line x1="361.25" y1="489.30" x2="361.25" y2="493.80"/><line x1="402.40" y1="29.30" x2="402.40" y2="33.80"/><line x1="402.40" y1="489.30" x2="402.40" y2="493.80"/><line x1="443.55" y1="29.30" x2="443.55" y2="33.80"/><line x1="443.55" y1="489.30" x2="443.55" y2="493.80"/><line x1="141.10" y1="50.40" x2="145.60" y2="50.40"/><line x1="483.50" y1="50.40" x2="488.00" y2="50.40"/><line x1="141.10" y1="91.50" x2="145.60" y2="91.50"/><line x1="483.50" y1="91.50" x2="488.00" y2="91.50"/><line x1="141.10" y1="132.60" x2="145.60" y2="132.60"/><line x1="483.50" y1="132.60" x2="488.00" y2="132.60"/><line x1="141.10" y1="173.70" x2="145.60" y2="173.70"/><line x1="483.50" y1="173.70" x2="488.00" y2="173.70"/><line x1="141.10" y1="214.80" x2="145.60" y2="214.80"/><line x1="483.50" y1="214.80" x2="488.00" y2="214.80"/><line x1="141.10" y1="255.90" x2="145.60" y2="255.90"/><line x1="483.50" y1="255.90" x2="488.00" y2="255.90"/><line x1="141.10" y1="297.00" x2="145.60" y2="297.00"/><line x1="483.50" y1="297.00" x2="488.00" y2="297.00"/><line x1="141.10" y1="338.10" x2="145.60" y2="338.10"/><line x1="483.50" y1="338.10" x2="488.00" y2="338.10"/><line x1="141.10" y1="379.20" x2="145.60" y2="379.20"/><line x1="483.50" y1="379.20" x2="488.00" y2="379.20"/><line x1="141.10" y1="420.30" x2="145.60" y2="420.30"/><line x1="483.50" y1="420.30" x2="488.00" y2="420.30"/><line x1="141.10" y1="461.40" x2="145.60" y2="461.40"/><line x1="483.50" y1="461.40" x2="488.00" y2="461.40"/></g><g font-family='"Liberation Sans", sans-serif' font-weight="bold" font-size="17" text-anchor="middle" fill="#111"><text x="155.50" y="25.50">570000</text><text x="155.50" y="511.07">570000</text><text x="237.80" y="25.50">600000</text><text x="237.80" y="511.07">600000</text><text x="320.10" y="25.50">630000</text><text x="320.10" y="511.07">630000</text><text x="402.40" y="25.50">660000</text><text x="402.40" y="511.07">660000</text><text transform="translate(503.97,50.40) rotate(-90)">4390000</text><text transform="translate(137.10,91.50) rotate(-90)">4375000</text><text transform="translate(503.97,132.60) rotate(-90)">4360000</text><text transform="translate(137.10,173.70) rotate(-90)">4345000</text><text transform="translate(503.97,214.80) rotate(-90)">4330000</text><text transform="translate(137.10,255.90) rotate(-90)">4315000</text><text transform="translate(503.97,297.00) rotate(-90)">4300000</text><text transform="translate(137.10,338.10) rotate(-90)">4285000</text><text transform="translate(503.97,379.20) rotate(-90)">4270000</text><text transform="translate(137.10,420.30) rotate(-90)">4255000</text><text transform="translate(503.97,461.40) rotate(-90)">4240000</text></g>
<clipPath id="clip_m2"><rect x="538.5" y="27.3" width="341.50" height="461.60"/></clipPath>
<g clip-path="url(#clip_m2)">
<rect x="538.5" y="27.3" width="341.5" height="461.59999999999997" fill="#f5b030"/>
<g filter="url(#blur_m2)"><rect x="527.6" y="23.1" width="21.4" height="21.4" fill="rgb(255, 162, 0)"/><rect x="548.4" y="23.1" width="21.4" height="21.4" fill="rgb(255, 200, 0)"/><rect x="569.1" y="23.1" width="21.4" height="21.4" fill="rgb(255, 200, 0)"/><rect x="589.9" y="23.1" width="21.4" height="21.4" fill="rgb(255, 200, 0)"/><rect x="610.6" y="23.1" width="21.4" height="21.4" fill="rgb(255, 200, 0)"/><rect x="631.4" y="23.1" width="21.4" height="21.4" fill="rgb(255, 162, 0)"/><rect x="652.1" y="23.1" width="21.4" height="21.4" fill="rgb(255, 200, 0)"/><rect x="672.9" y="23.1" width="21.4" height="21.4" fill="rgb(255, 200, 0)"/><rect x="693.6" y="23.1" width="21.4" height="21.4" fill="rgb(255, 200, 0)"/><rect x="714.4" y="23.1" width="21.4" height="21.4" fill="rgb(255, 200, 0)"/><rect x="735.1" y="23.1" width="21.4" height="21.4" fill="rgb(255, 200, 0)"/><rect x="755.9" y="23.1" width="21.4" height="21.4" fill="rgb(255, 200, 0)"/><rect x="776.6" y="23.1" width="21.4" height="21.4" fill="rgb(255, 162, 0)"/><rect x="797.4" y="23.1" width="21.4" height="21.4" fill="rgb(255, 162, 0)"/><rect x="818.1" y="23.1" width="21.4" height="21.4" fill="rgb(255, 162, 0)"/><rect x="838.9" y="23.1" width="21.4" height="21.4" fill="rgb(255, 162, 0)"/><rect x="859.6" y="23.1" width="21.4" height="21.4" fill="rgb(255, 135, 0)"/><rect x="527.6" y="43.9" width="21.4" height="21.4" fill="rgb(255, 200, 0)"/><rect x="548.4" y="43.9" width="21.4" height="21.4" fill="rgb(255, 200, 0)"/><rect x="569.1" y="43.9" width="21.4" height="21.4" fill="rgb(255, 200, 0)"/><rect x="589.9" y="43.9" width="21.4" height="21.4" fill="rgb(255, 200, 0)"/><rect x="610.6" y="43.9" width="21.4" height="21.4" fill="rgb(255, 200, 0)"/><rect x="631.4" y="43.9" width="21.4" height="21.4" fill="rgb(255, 162, 0)"/><rect x="652.1" y="43.9" width="21.4" height="21.4" fill="rgb(255, 162, 0)"/><rect x="672.9" y="43.9" width="21.4" height="21.4" fill="rgb(255, 200, 0)"/><rect x="693.6" y="43.9" width="21.4" height="21.4" fill="rgb(255, 200, 0)"/><rect x="714.4" y="43.9" width="21.4" height="21.4" fill="rgb(255, 246, 0)"/><rect x="735.1" y="43.9" width="21.4" height="21.4" fill="rgb(255, 200, 0)"/><rect x="755.9" y="43.9" width="21.4" height="21.4" fill="rgb(255, 200, 0)"/><rect x="776.6" y="43.9" width="21.4" height="21.4" fill="rgb(255, 162, 0)"/><rect x="797.4" y="43.9" width="21.4" height="21.4" fill="rgb(255, 162, 0)"/><rect x="818.1" y="43.9" width="21.4" height="21.4" fill="rgb(255, 162, 0)"/><rect x="838.9" y="43.9" width="21.4" height="21.4" fill="rgb(255, 162, 0)"/><rect x="859.6" y="43.9" width="21.4" height="21.4" fill="rgb(255, 162, 0)"/><rect x="527.6" y="64.7" width="21.4" height="21.4" fill="rgb(255, 200, 0)"/><rect x="548.4" y="64.7" width="21.4" height="21.4" fill="rgb(255, 200, 0)"/><rect x="569.1" y="64.7" width="21.4" height="21.4" fill="rgb(255, 162, 0)"/><rect x="589.9" y="64.7" width="21.4" height="21.4" fill="rgb(255, 162, 0)"/><rect x="610.6" y="64.7" width="21.4" height="21.4" fill="rgb(255, 162, 0)"/><rect x="631.4" y="64.7" width="21.4" height="21.4" fill="rgb(255, 200, 0)"/><rect x="652.1" y="64.7" width="21.4" height="21.4" fill="rgb(255, 135, 0)"/><rect x="672.9" y="64.7" width="21.4" height="21.4" fill="rgb(255, 162, 0)"/><rect x="693.6" y="64.7" width="21.4" height="21.4" fill="rgb(255, 200, 0)"/><rect x="714.4" y="64.7" width="21.4" height="21.4" fill="rgb(255, 200, 0)"/><rect x="735.1" y="64.7" width="21.4" height="21.4" fill="rgb(255, 162, 0)"/><rect x="755.9" y="64.7" width="21.4" height="21.4" fill="rgb(255, 162, 0)"/><rect x="776.6" y="64.7" width="21.4" height="21.4" fill="rgb(255, 162, 0)"/><rect x="797.4" y="64.7" width="21.4" height="21.4" fill="rgb(255, 162, 0)"/><rect x="818.1" y="64.7" width="21.4" height="21.4" fill="rgb(255, 162, 0)"/><rect x="838.9" y="64.7" width="21.4" height="21.4" fill="rgb(255, 162, 0)"/><rect x="859.6" y="64.7" width="21.4" height="21.4" fill="rgb(255, 162, 0)"/><rect x="527.6" y="85.5" width="21.4" height="21.4" fill="rgb(255, 162, 0)"/><rect x="548.4" y="85.5" width="21.4" height="21.4" fill="rgb(255, 162, 0)"/><rect x="569.1" y="85.5" width="21.4" height="21.4" fill="rgb(255, 162, 0)"/><rect x="589.9" y="85.5" width="21.4" height="21.4" fill="rgb(255, 162, 0)"/><rect x="610.6" y="85.5" width="21.4" height="21.4" fill="rgb(255, 162, 0)"/><rect x="631.4" y="85.5" width="21.4" height="21.4" fill="rgb(255, 162, 0)"/><rect x="652.1" y="85.5" width="21.4" height="21.4" fill="rgb(255, 135, 0)"/><rect x="672.9" y="85.5" width="21.4" height="21.4" fill="rgb(255, 162, 0)"/><rect x="693.6" y="85.5" width="21.4" height="21.4" fill="rgb(255, 200, 0)"/><rect x="714.4" y="85.5" width="21.4" height="21.4" fill="rgb(255, 162, 0)"/><rect x="735.1" y="85.5" width="21.4" height="21.4" fill="rgb(255, 162, 0)"/><rect x="755.9" y="85.5" width="21.4" height="21.4" fill="rgb(255, 162, 0)"/><rect x="776.6" y="85.5" width="21.4" height="21.4" fill="rgb(255, 162, 0)"/><rect x="797.4" y="85.5" width="21.4" height="21.4" fill="rgb(255, 162, 0)"/><rect x="818.1" y="85.5" width="21.4" height="21.4" fill="rgb(255, 162, 0)"/><rect x="838.9" y="85.5" width="21.4" height="21.4" fill="rgb(255, 162, 0)"/><rect x="859.6" y="85.5" width="21.4" height="21.4" fill="rgb(255, 162, 0)"/><rect x="527.6" y="106.3" width="21.4" height="21.4" fill="rgb(255, 200, 0)"/><rect x="548.4" y="106.3" width="21.4" height="21.4" fill="rgb(255, 162, 0)"/><rect x="569.1" y="106.3" width="21.4" height="21.4" fill="rgb(255, 162, 0)"/><rect x="589.9" y="106.3" width="21.4" height="21.4" fill="rgb(255, 162, 0)"/><rect x="610.6" y="106.3" width="21.4" height="21.4" fill="rgb(255, 162, 0)"/><rect x="631.4" y="106.3" width="21.4" height="21.4" fill="rgb(255, 135, 0)"/><rect x="652.1" y="106.3" width="21.4" height="21.4" fill="rgb(255, 162, 0)"/><rect x="672.9" y="106.3" width="21.4" height="21.4" fill="rgb(255, 162, 0)"/><rect x="693.6" y="106.3" width="21.4" height="21.4" fill="rgb(255, 162, 0)"/><rect x="714.4" y="106.3" width="21.4" height="21.4" fill="rgb(255, 162, 0)"/><rect x="735.1" y="106.3" width="21.4" height="21.4" fill="rgb(255, 162, 0)"/><rect x="755.9" y="106.3" width="21.4" height="21.4" fill="rgb(255, 162, 0)"/><rect x="776.6" y="106.3" width="21.4" height="21.4" fill="rgb(255, 135, 0)"/><rect x="797.4" y="106.3" width="21.4" height="21.4" fill="rgb(255, 135, 0)"/><rect x="818.1" y="106.3" width="21.4" height="21.4" fill="rgb(255, 162, 0)"/><rect x="838.9" y="106.3" width="21.4" height="21.4" fill="rgb(255, 162, 0)"/><rect x="859.6" y="106.3" width="21.4" height="21.4" fill="rgb(255, 162, 0)"/><rect x="527.6" y="127.1" width="21.4" height="21.4" fill="rgb(224, 255, 45)"/><rect x="548.4" y="127.1" width="21.4" height="21.4" fill="rgb(224, 255, 45)"/><rect x="569.1" y="127.1" width="21.4" height="21.4" fill="rgb(224, 255, 45)"/><rect x="589.9" y="127.1" width="21.4" height="21.4" fill="rgb(182, 255, 108)"/><rect x="610.6" y="127.1" width="21.4" height="21.4" fill="rgb(224, 255, 45)"/><rect x="631.4" y="127.1" width="21.4" height="21.4" fill="rgb(255, 200, 0)"/><rect x="652.1" y="127.1" width="21.4" height="21.4" fill="rgb(182, 255, 108)"/><rect x="672.9" y="127.1" width="21.4" height="21.4" fill="rgb(255, 135, 0)"/><rect x="693.6" y="127.1" width="21.4" height="21.4" fill="rgb(255, 135, 0)"/><rect x="714.4" y="127.1" width="21.4" height="21.4" fill="rgb(255, 162, 0)"/><rect x="735.1" y="127.1" width="21.4" height="21.4" fill="rgb(255, 162, 0)"/><rect x="755.9" y="127.1" width="21.4" height="21.4" fill="rgb(255, 162, 0)"/><rect x="776.6" y="127.1" width="21.4" height="21.4" fill="rgb(255, 162, 0)"/><rect x="797.4" y="127.1" width="21.4" height="21.4" fill="rgb(255, 135, 0)"/><rect x="818.1" y="127.1" width="21.4" height="21.4" fill="rgb(255, 162, 0)"/><rect x="838.9" y="127.1" width="21.4" height="21.4" fill="rgb(255, 162, 0)"/><rect x="859.6" y="127.1" width="21.4" height="21.4" fill="rgb(255, 162, 0)"/><rect x="527.6" y="147.9" width="21.4" height="21.4" fill="rgb(255, 200, 0)"/><rect x="548.4" y="147.9" width="21.4" height="21.4" fill="rgb(255, 200, 0)"/><rect x="569.1" y="147.9" width="21.4" height="21.4" fill="rgb(255, 200, 0)"/><rect x="589.9" y="147.9" width="21.4" height="21.4" fill="rgb(255, 200, 0)"/><rect x="610.6" y="147.9" width="21.4" height="21.4" fill="rgb(255, 200, 0)"/><rect x="631.4" y="147.9" width="21.4" height="21.4" fill="rgb(182, 255, 108)"/><rect x="652.1" y="147.9" width="21.4" height="21.4" fill="rgb(224, 255, 45)"/><rect x="672.9" y="147.9" width="21.4" height="21.4" fill="rgb(255, 135, 0)"/><rect x="693.6" y="147.9" width="21.4" height="21.4" fill="rgb(255, 135, 0)"/><rect x="714.4" y="147.9" width="21.4" height="21.4" fill="rgb(255, 200, 0)"/><rect x="735.1" y="147.9" width="21.4" height="21.4" fill="rgb(255, 162, 0)"/><rect x="755.9" y="147.9" width="21.4" height="21.4" fill="rgb(255, 162, 0)"/><rect x="776.6" y="147.9" width="21.4" height="21.4" fill="rgb(255, 162, 0)"/><rect x="797.4" y="147.9" width="21.4" height="21.4" fill="rgb(255, 162, 0)"/><rect x="818.1" y="147.9" width="21.4" height="21.4" fill="rgb(255, 162, 0)"/><rect x="838.9" y="147.9" width="21.4" height="21.4" fill="rgb(255, 200, 0)"/><rect x="859.6" y="147.9" width="21.4" height="21.4" fill="rgb(255, 162, 0)"/><rect x="527.6" y="168.7" width="21.4" height="21.4" fill="rgb(255, 135, 0)"/><rect x="548.4" y="168.7" width="21.4" height="21.4" fill="rgb(255, 135, 0)"/><rect x="569.1" y="168.7" width="21.4" height="21.4" fill="rgb(255, 200, 0)"/><rect x="589.9" y="168.7" width="21.4" height="21.4" fill="rgb(224, 255, 45)"/><rect x="610.6" y="168.7" width="21.4" height="21.4" fill="rgb(224, 255, 45)"/><rect x="631.4" y="168.7" width="21.4" height="21.4" fill="rgb(255, 200, 0)"/><rect x="652.1" y="168.7" width="21.4" height="21.4" fill="rgb(224, 255, 45)"/><rect x="672.9" y="168.7" width="21.4" height="21.4" fill="rgb(255, 135, 0)"/><rect x="693.6" y="168.7" width="21.4" height="21.4" fill="rgb(255, 135, 0)"/><rect x="714.4" y="168.7" width="21.4" height="21.4" fill="rgb(255, 200, 0)"/><rect x="735.1" y="168.7" width="21.4" height="21.4" fill="rgb(255, 162, 0)"/><rect x="755.9" y="168.7" width="21.4" height="21.4" fill="rgb(255, 162, 0)"/><rect x="776.6" y="168.7" width="21.4" height="21.4" fill="rgb(255, 162, 0)"/><rect x="797.4" y="168.7" width="21.4" height="21.4" fill="rgb(255, 200, 0)"/><rect x="818.1" y="168.7" width="21.4" height="21.4" fill="rgb(224, 255, 45)"/><rect x="838.9" y="168.7" width="21.4" height="21.4" fill="rgb(255, 200, 0)"/><rect x="859.6" y="168.7" width="21.4" height="21.4" fill="rgb(255, 162, 0)"/><rect x="527.6" y="189.5" width="21.4" height="21.4" fill="rgb(255, 200, 0)"/><rect x="548.4" y="189.5" width="21.4" height="21.4" fill="rgb(255, 135, 0)"/><rect x="569.1" y="189.5" width="21.4" height="21.4" fill="rgb(255, 200, 0)"/><rect x="589.9" y="189.5" width="21.4" height="21.4" fill="rgb(255, 200, 0)"/><rect x="610.6" y="189.5" width="21.4" height="21.4" fill="rgb(255, 246, 0)"/><rect x="631.4" y="189.5" width="21.4" height="21.4" fill="rgb(182, 255, 108)"/><rect x="652.1" y="189.5" width="21.4" height="21.4" fill="rgb(182, 255, 108)"/><rect x="672.9" y="189.5" width="21.4" height="21.4" fill="rgb(224, 255, 45)"/><rect x="693.6" y="189.5" width="21.4" height="21.4" fill="rgb(255, 135, 0)"/><rect x="714.4" y="189.5" width="21.4" height="21.4" fill="rgb(255, 162, 0)"/><rect x="735.1" y="189.5" width="21.4" height="21.4" fill="rgb(255, 162, 0)"/><rect x="755.9" y="189.5" width="21.4" height="21.4" fill="rgb(255, 200, 0)"/><rect x="776.6" y="189.5" width="21.4" height="21.4" fill="rgb(255, 200, 0)"/><rect x="797.4" y="189.5" width="21.4" height="21.4" fill="rgb(255, 246, 0)"/><rect x="818.1" y="189.5" width="21.4" height="21.4" fill="rgb(224, 255, 45)"/><rect x="838.9" y="189.5" width="21.4" height="21.4" fill="rgb(182, 255, 108)"/><rect x="859.6" y="189.5" width="21.4" height="21.4" fill="rgb(255, 200, 0)"/><rect x="527.6" y="210.3" width="21.4" height="21.4" fill="rgb(125, 252, 165)"/><rect x="548.4" y="210.3" width="21.4" height="21.4" fill="rgb(125, 252, 165)"/><rect x="569.1" y="210.3" width="21.4" height="21.4" fill="rgb(255, 135, 0)"/><rect x="589.9" y="210.3" width="21.4" height="21.4" fill="rgb(255, 135, 0)"/><rect x="610.6" y="210.3" width="21.4" height="21.4" fill="rgb(255, 200, 0)"/><rect x="631.4" y="210.3" width="21.4" height="21.4" fill="rgb(255, 200, 0)"/><rect x="652.1" y="210.3" width="21.4" height="21.4" fill="rgb(255, 246, 0)"/><rect x="672.9" y="210.3" width="21.4" height="21.4" fill="rgb(224, 255, 45)"/><rect x="693.6" y="210.3" width="21.4" height="21.4" fill="rgb(255, 162, 0)"/><rect x="714.4" y="210.3" width="21.4" height="21.4" fill="rgb(255, 162, 0)"/><rect x="735.1" y="210.3" width="21.4" height="21.4" fill="rgb(255, 200, 0)"/><rect x="755.9" y="210.3" width="21.4" height="21.4" fill="rgb(255, 246, 0)"/><rect x="776.6" y="210.3" width="21.4" height="21.4" fill="rgb(125, 252, 165)"/><rect x="797.4" y="210.3" width="21.4" height="21.4" fill="rgb(224, 255, 45)"/><rect x="818.1" y="210.3" width="21.4" height="21.4" fill="rgb(182, 255, 108)"/><rect x="838.9" y="210.3" width="21.4" height="21.4" fill="rgb(224, 255, 45)"/><rect x="859.6" y="210.3" width="21.4" height="21.4" fill="rgb(255, 200, 0)"/><rect x="527.6" y="231.1" width="21.4" height="21.4" fill="rgb(255, 200, 0)"/><rect x="548.4" y="231.1" width="21.4" height="21.4" fill="rgb(255, 200, 0)"/><rect x="569.1" y="231.1" width="21.4" height="21.4" fill="rgb(255, 200, 0)"/><rect x="589.9" y="231.1" width="21.4" height="21.4" fill="rgb(255, 135, 0)"/><rect x="610.6" y="231.1" width="21.4" height="21.4" fill="rgb(255, 200, 0)"/><rect x="631.4" y="231.1" width="21.4" height="21.4" fill="rgb(255, 200, 0)"/><rect x="652.1" y="231.1" width="21.4" height="21.4" fill="rgb(224, 255, 45)"/><rect x="672.9" y="231.1" width="21.4" height="21.4" fill="rgb(182, 255, 108)"/><rect x="693.6" y="231.1" width="21.4" height="21.4" fill="rgb(224, 255, 45)"/><rect x="714.4" y="231.1" width="21.4" height="21.4" fill="rgb(224, 255, 45)"/><rect x="735.1" y="231.1" width="21.4" height="21.4" fill="rgb(255, 200, 0)"/><rect x="755.9" y="231.1" width="21.4" height="21.4" fill="rgb(255, 246, 0)"/><rect x="776.6" y="231.1" width="21.4" height="21.4" fill="rgb(182, 255, 108)"/><rect x="797.4" y="231.1" width="21.4" height="21.4" fill="rgb(182, 255, 108)"/><rect x="818.1" y="231.1" width="21.4" height="21.4" fill="rgb(182, 255, 108)"/><rect x="838.9" y="231.1" width="21.4" height="21.4" fill="rgb(255, 162, 0)"/><rect x="859.6" y="231.1" width="21.4" height="21.4" fill="rgb(255, 135, 0)"/><rect x="527.6" y="251.9" width="21.4" height="21.4" fill="rgb(255, 246, 0)"/><rect x="548.4" y="251.9" width="21.4" height="21.4" fill="rgb(255, 200, 0)"/><rect x="569.1" y="251.9" width="21.4" height="21.4" fill="rgb(255, 246, 0)"/><rect x="589.9" y="251.9" width="21.4" height="21.4" fill="rgb(255, 200, 0)"/><rect x="610.6" y="251.9" width="21.4" height="21.4" fill="rgb(255, 200, 0)"/><rect x="631.4" y="251.9" width="21.4" height="21.4" fill="rgb(224, 255, 45)"/><rect x="652.1" y="251.9" width="21.4" height="21.4" fill="rgb(255, 200, 0)"/><rect x="672.9" y="251.9" width="21.4" height="21.4" fill="rgb(182, 255, 108)"/><rect x="693.6" y="251.9" width="21.4" height="21.4" fill="rgb(224, 255, 45)"/><rect x="714.4" y="251.9" width="21.4" height="21.4" fill="rgb(182, 255, 108)"/><rect x="735.1" y="251.9" width="21.4" height="21.4" fill="rgb(255, 246, 0)"/><rect x="755.9" y="251.9" width="21.4" height="21.4" fill="rgb(255, 200, 0)"/><rect x="776.6" y="251.9" width="21.4" height="21.4" fill="rgb(255, 200, 0)"/><rect x="797.4" y="251.9" width="21.4" height="21.4" fill="rgb(224, 255, 45)"/><rect x="818.1" y="251.9" width="21.4" height="21.4" fill="rgb(224, 255, 45)"/><rect x="838.9" y="251.9" width="21.4" height="21.4" fill="rgb(182, 255, 108)"/><rect x="859.6" y="251.9" width="21.4" height="21.4" fill="rgb(255, 200, 0)"/><rect x="527.6" y="272.7" width="21.4" height="21.4" fill="rgb(255, 246, 0)"/><rect x="548.4" y="272.7" width="21.4" height="21.4" fill="rgb(255, 246, 0)"/><rect x="569.1" y="272.7" width="21.4" height="21.4" fill="rgb(224, 255, 45)"/><rect x="589.9" y="272.7" width="21.4" height="21.4" fill="rgb(255, 246, 0)"/><rect x="610.6" y="272.7" width="21.4" height="21.4" fill="rgb(255, 200, 0)"/><rect x="631.4" y="272.7" width="21.4" height="21.4" fill="rgb(224, 255, 45)"/><rect x="652.1" y="272.7" width="21.4" height="21.4" fill="rgb(255, 200, 0)"/><rect x="672.9" y="272.7" width="21.4" height="21.4" fill="rgb(182, 255, 108)"/><rect x="693.6" y="272.7" width="21.4" height="21.4" fill="rgb(182, 255, 108)"/><rect x="714.4" y="272.7" width="21.4" height="21.4" fill="rgb(224, 255, 45)"/><rect x="735.1" y="272.7" width="21.4" height="21.4" fill="rgb(255, 246, 0)"/><rect x="755.9" y="272.7" width="21.4" height="21.4" fill="rgb(255, 200, 0)"/><rect x="776.6" y="272.7" width="21.4" height="21.4" fill="rgb(255, 135, 0)"/><rect x="797.4" y="272.7" width="21.4" height="21.4" fill="rgb(255, 135, 0)"/><rect x="818.1" y="272.7" width="21.4" height="21.4" fill="rgb(255, 135, 0)"/><rect x="838.9" y="272.7" width="21.4" height="21.4" fill="rgb(255, 162, 0)"/><rect x="859.6" y="272.7" width="21.4" height="21.4" fill="rgb(255, 135, 0)"/><rect x="527.6" y="293.5" width="21.4" height="21.4" fill="rgb(125, 252, 165)"/><rect x="548.4" y="293.5" width="21.4" height="21.4" fill="rgb(182, 255, 108)"/><rect x="569.1" y="293.5" width="21.4" height="21.4" fill="rgb(125, 252, 165)"/><rect x="589.9" y="293.5" width="21.4" height="21.4" fill="rgb(255, 246, 0)"/><rect x="610.6" y="293.5" width="21.4" height="21.4" fill="rgb(255, 246, 0)"/><rect x="631.4" y="293.5" width="21.4" height="21.4" fill="rgb(255, 200, 0)"/><rect x="652.1" y="293.5" width="21.4" height="21.4" fill="rgb(224, 255, 45)"/><rect x="672.9" y="293.5" width="21.4" height="21.4" fill="rgb(182, 255, 108)"/><rect x="693.6" y="293.5" width="21.4" height="21.4" fill="rgb(224, 255, 45)"/><rect x="714.4" y="293.5" width="21.4" height="21.4" fill="rgb(255, 135, 0)"/><rect x="735.1" y="293.5" width="21.4" height="21.4" fill="rgb(255, 200, 0)"/><rect x="755.9" y="293.5" width="21.4" height="21.4" fill="rgb(255, 135, 0)"/><rect x="776.6" y="293.5" width="21.4" height="21.4" fill="rgb(255, 200, 0)"/><rect x="797.4" y="293.5" width="21.4" height="21.4" fill="rgb(255, 135, 0)"/><rect x="818.1" y="293.5" width="21.4" height="21.4" fill="rgb(255, 135, 0)"/><rect x="838.9" y="293.5" width="21.4" height="21.4" fill="rgb(255, 162, 0)"/><rect x="859.6" y="293.5" width="21.4" height="21.4" fill="rgb(255, 162, 0)"/><rect x="527.6" y="314.3" width="21.4" height="21.4" fill="rgb(25, 243, 215)"/><rect x="548.4" y="314.3" width="21.4" height="21.4" fill="rgb(224, 255, 45)"/><rect x="569.1" y="314.3" width="21.4" height="21.4" fill="rgb(125, 252, 165)"/><rect x="589.9" y="314.3" width="21.4" height="21.4" fill="rgb(224, 255, 45)"/><rect x="610.6" y="314.3" width="21.4" height="21.4" fill="rgb(255, 246, 0)"/><rect x="631.4" y="314.3" width="21.4" height="21.4" fill="rgb(255, 200, 0)"/><rect x="652.1" y="314.3" width="21.4" height="21.4" fill="rgb(255, 135, 0)"/><rect x="672.9" y="314.3" width="21.4" height="21.4" fill="rgb(224, 255, 45)"/><rect x="693.6" y="314.3" width="21.4" height="21.4" fill="rgb(255, 200, 0)"/><rect x="714.4" y="314.3" width="21.4" height="21.4" fill="rgb(255, 135, 0)"/><rect x="735.1" y="314.3" width="21.4" height="21.4" fill="rgb(255, 200, 0)"/><rect x="755.9" y="314.3" width="21.4" height="21.4" fill="rgb(255, 135, 0)"/><rect x="776.6" y="314.3" width="21.4" height="21.4" fill="rgb(255, 200, 0)"/><rect x="797.4" y="314.3" width="21.4" height="21.4" fill="rgb(255, 135, 0)"/><rect x="818.1" y="314.3" width="21.4" height="21.4" fill="rgb(255, 135, 0)"/><rect x="838.9" y="314.3" width="21.4" height="21.4" fill="rgb(255, 135, 0)"/><rect x="859.6" y="314.3" width="21.4" height="21.4" fill="rgb(182, 255, 108)"/><rect x="527.6" y="335.1" width="21.4" height="21.4" fill="rgb(25, 243, 215)"/><rect x="548.4" y="335.1" width="21.4" height="21.4" fill="rgb(25, 243, 215)"/><rect x="569.1" y="335.1" width="21.4" height="21.4" fill="rgb(125, 252, 165)"/><rect x="589.9" y="335.1" width="21.4" height="21.4" fill="rgb(182, 255, 108)"/><rect x="610.6" y="335.1" width="21.4" height="21.4" fill="rgb(255, 246, 0)"/><rect x="631.4" y="335.1" width="21.4" height="21.4" fill="rgb(255, 246, 0)"/><rect x="652.1" y="335.1" width="21.4" height="21.4" fill="rgb(255, 200, 0)"/><rect x="672.9" y="335.1" width="21.4" height="21.4" fill="rgb(255, 162, 0)"/><rect x="693.6" y="335.1" width="21.4" height="21.4" fill="rgb(255, 200, 0)"/><rect x="714.4" y="335.1" width="21.4" height="21.4" fill="rgb(255, 200, 0)"/><rect x="735.1" y="335.1" width="21.4" height="21.4" fill="rgb(255, 246, 0)"/><rect x="755.9" y="335.1" width="21.4" height="21.4" fill="rgb(255, 200, 0)"/><rect x="776.6" y="335.1" width="21.4" height="21.4" fill="rgb(255, 200, 0)"/><rect x="797.4" y="335.1" width="21.4" height="21.4" fill="rgb(255, 200, 0)"/><rect x="818.1" y="335.1" width="21.4" height="21.4" fill="rgb(255, 135, 0)"/><rect x="838.9" y="335.1" width="21.4" height="21.4" fill="rgb(255, 135, 0)"/><rect x="859.6" y="335.1" width="21.4" height="21.4" fill="rgb(182, 255, 108)"/><rect x="527.6" y="355.9" width="21.4" height="21.4" fill="rgb(224, 255, 45)"/><rect x="548.4" y="355.9" width="21.4" height="21.4" fill="rgb(182, 255, 108)"/><rect x="569.1" y="355.9" width="21.4" height="21.4" fill="rgb(125, 252, 165)"/><rect x="589.9" y="355.9" width="21.4" height="21.4" fill="rgb(224, 255, 45)"/><rect x="610.6" y="355.9" width="21.4" height="21.4" fill="rgb(125, 252, 165)"/><rect x="631.4" y="355.9" width="21.4" height="21.4" fill="rgb(224, 255, 45)"/><rect x="652.1" y="355.9" width="21.4" height="21.4" fill="rgb(125, 252, 165)"/><rect x="672.9" y="355.9" width="21.4" height="21.4" fill="rgb(255, 246, 0)"/><rect x="693.6" y="355.9" width="21.4" height="21.4" fill="rgb(224, 255, 45)"/><rect x="714.4" y="355.9" width="21.4" height="21.4" fill="rgb(255, 246, 0)"/><rect x="735.1" y="355.9" width="21.4" height="21.4" fill="rgb(255, 246, 0)"/><rect x="755.9" y="355.9" width="21.4" height="21.4" fill="rgb(255, 246, 0)"/><rect x="776.6" y="355.9" width="21.4" height="21.4" fill="rgb(255, 246, 0)"/><rect x="797.4" y="355.9" width="21.4" height="21.4" fill="rgb(255, 200, 0)"/><rect x="818.1" y="355.9" width="21.4" height="21.4" fill="rgb(255, 135, 0)"/><rect x="838.9" y="355.9" width="21.4" height="21.4" fill="rgb(255, 162, 0)"/><rect x="859.6" y="355.9" width="21.4" height="21.4" fill="rgb(255, 200, 0)"/><rect x="527.6" y="376.7" width="21.4" height="21.4" fill="rgb(182, 255, 108)"/><rect x="548.4" y="376.7" width="21.4" height="21.4" fill="rgb(125, 252, 165)"/><rect x="569.1" y="376.7" width="21.4" height="21.4" fill="rgb(182, 255, 108)"/><rect x="589.9" y="376.7" width="21.4" height="21.4" fill="rgb(125, 252, 165)"/><rect x="610.6" y="376.7" width="21.4" height="21.4" fill="rgb(125, 252, 165)"/><rect x="631.4" y="376.7" width="21.4" height="21.4" fill="rgb(125, 252, 165)"/><rect x="652.1" y="376.7" width="21.4" height="21.4" fill="rgb(125, 252, 165)"/><rect x="672.9" y="376.7" width="21.4" height="21.4" fill="rgb(255, 246, 0)"/><rect x="693.6" y="376.7" width="21.4" height="21.4" fill="rgb(255, 246, 0)"/><rect x="714.4" y="376.7" width="21.4" height="21.4" fill="rgb(182, 255, 108)"/><rect x="735.1" y="376.7" width="21.4" height="21.4" fill="rgb(255, 246, 0)"/><rect x="755.9" y="376.7" width="21.4" height="21.4" fill="rgb(255, 246, 0)"/><rect x="776.6" y="376.7" width="21.4" height="21.4" fill="rgb(224, 255, 45)"/><rect x="797.4" y="376.7" width="21.4" height="21.4" fill="rgb(255, 200, 0)"/><rect x="818.1" y="376.7" width="21.4" height="21.4" fill="rgb(255, 135, 0)"/><rect x="838.9" y="376.7" width="21.4" height="21.4" fill="rgb(255, 135, 0)"/><rect x="859.6" y="376.7" width="21.4" height="21.4" fill="rgb(255, 200, 0)"/><rect x="527.6" y="397.5" width="21.4" height="21.4" fill="rgb(182, 255, 108)"/><rect x="548.4" y="397.5" width="21.4" height="21.4" fill="rgb(125, 252, 165)"/><rect x="569.1" y="397.5" width="21.4" height="21.4" fill="rgb(182, 255, 108)"/><rect x="589.9" y="397.5" width="21.4" height="21.4" fill="rgb(224, 255, 45)"/><rect x="610.6" y="397.5" width="21.4" height="21.4" fill="rgb(125, 252, 165)"/><rect x="631.4" y="397.5" width="21.4" height="21.4" fill="rgb(182, 255, 108)"/><rect x="652.1" y="397.5" width="21.4" height="21.4" fill="rgb(125, 252, 165)"/><rect x="672.9" y="397.5" width="21.4" height="21.4" fill="rgb(182, 255, 108)"/><rect x="693.6" y="397.5" width="21.4" height="21.4" fill="rgb(255, 246, 0)"/><rect x="714.4" y="397.5" width="21.4" height="21.4" fill="rgb(255, 246, 0)"/><rect x="735.1" y="397.5" width="21.4" height="21.4" fill="rgb(255, 246, 0)"/><rect x="755.9" y="397.5" width="21.4" height="21.4" fill="rgb(182, 255, 108)"/><rect x="776.6" y="397.5" width="21.4" height="21.4" fill="rgb(182, 255, 108)"/><rect x="797.4" y="397.5" width="21.4" height="21.4" fill="rgb(255, 200, 0)"/><rect x="818.1" y="397.5" width="21.4" height="21.4" fill="rgb(255, 135, 0)"/><rect x="838.9" y="397.5" width="21.4" height="21.4" fill="rgb(255, 200, 0)"/><rect x="859.6" y="397.5" width="21.4" height="21.4" fill="rgb(255, 200, 0)"/><rect x="527.6" y="418.3" width="21.4" height="21.4" fill="rgb(25, 243, 215)"/><rect x="548.4" y="418.3" width="21.4" height="21.4" fill="rgb(125, 252, 165)"/><rect x="569.1" y="418.3" width="21.4" height="21.4" fill="rgb(125, 252, 165)"/><rect x="589.9" y="418.3" width="21.4" height="21.4" fill="rgb(182, 255, 108)"/><rect x="610.6" y="418.3" width="21.4" height="21.4" fill="rgb(125, 252, 165)"/><rect x="631.4" y="418.3" width="21.4" height="21.4" fill="rgb(125, 252, 165)"/><rect x="652.1" y="418.3" width="21.4" height="21.4" fill="rgb(125, 252, 165)"/><rect x="672.9" y="418.3" width="21.4" height="21.4" fill="rgb(125, 252, 165)"/><rect x="693.6" y="418.3" width="21.4" height="21.4" fill="rgb(125, 252, 165)"/><rect x="714.4" y="418.3" width="21.4" height="21.4" fill="rgb(25, 243, 215)"/><rect x="735.1" y="418.3" width="21.4" height="21.4" fill="rgb(182, 255, 108)"/><rect x="755.9" y="418.3" width="21.4" height="21.4" fill="rgb(255, 246, 0)"/><rect x="776.6" y="418.3" width="21.4" height="21.4" fill="rgb(255, 246, 0)"/><rect x="797.4" y="418.3" width="21.4" height="21.4" fill="rgb(255, 200, 0)"/><rect x="818.1" y="418.3" width="21.4" height="21.4" fill="rgb(255, 200, 0)"/><rect x="838.9" y="418.3" width="21.4" height="21.4" fill="rgb(255, 200, 0)"/><rect x="859.6" y="418.3" width="21.4" height="21.4" fill="rgb(255, 135, 0)"/><rect x="527.6" y="439.1" width="21.4" height="21.4" fill="rgb(125, 252, 165)"/><rect x="548.4" y="439.1" width="21.4" height="21.4" fill="rgb(125, 252, 165)"/><rect x="569.1" y="439.1" width="21.4" height="21.4" fill="rgb(25, 243, 215)"/><rect x="589.9" y="439.1" width="21.4" height="21.4" fill="rgb(224, 255, 45)"/><rect x="610.6" y="439.1" width="21.4" height="21.4" fill="rgb(182, 255, 108)"/><rect x="631.4" y="439.1" width="21.4" height="21.4" fill="rgb(125, 252, 165)"/><rect x="652.1" y="439.1" width="21.4" height="21.4" fill="rgb(25, 243, 215)"/><rect x="672.9" y="439.1" width="21.4" height="21.4" fill="rgb(125, 252, 165)"/><rect x="693.6" y="439.1" width="21.4" height="21.4" fill="rgb(25, 243, 215)"/><rect x="714.4" y="439.1" width="21.4" height="21.4" fill="rgb(125, 252, 165)"/><rect x="735.1" y="439.1" width="21.4" height="21.4" fill="rgb(125, 252, 165)"/><rect x="755.9" y="439.1" width="21.4" height="21.4" fill="rgb(182, 255, 108)"/><rect x="776.6" y="439.1" width="21.4" height="21.4" fill="rgb(255, 200, 0)"/><rect x="797.4" y="439.1" width="21.4" height="21.4" fill="rgb(182, 255, 108)"/><rect x="818.1" y="439.1" width="21.4" height="21.4" fill="rgb(224, 255, 45)"/><rect x="838.9" y="439.1" width="21.4" height="21.4" fill="rgb(224, 255, 45)"/><rect x="859.6" y="439.1" width="21.4" height="21.4" fill="rgb(255, 135, 0)"/><rect x="527.6" y="459.9" width="21.4" height="21.4" fill="rgb(25, 243, 215)"/><rect x="548.4" y="459.9" width="21.4" height="21.4" fill="rgb(125, 252, 165)"/><rect x="569.1" y="459.9" width="21.4" height="21.4" fill="rgb(125, 252, 165)"/><rect x="589.9" y="459.9" width="21.4" height="21.4" fill="rgb(182, 255, 108)"/><rect x="610.6" y="459.9" width="21.4" height="21.4" fill="rgb(224, 255, 45)"/><rect x="631.4" y="459.9" width="21.4" height="21.4" fill="rgb(182, 255, 108)"/><rect x="652.1" y="459.9" width="21.4" height="21.4" fill="rgb(25, 243, 215)"/><rect x="672.9" y="459.9" width="21.4" height="21.4" fill="rgb(25, 243, 215)"/><rect x="693.6" y="459.9" width="21.4" height="21.4" fill="rgb(25, 243, 215)"/><rect x="714.4" y="459.9" width="21.4" height="21.4" fill="rgb(25, 243, 215)"/><rect x="735.1" y="459.9" width="21.4" height="21.4" fill="rgb(125, 252, 165)"/><rect x="755.9" y="459.9" width="21.4" height="21.4" fill="rgb(182, 255, 108)"/><rect x="776.6" y="459.9" width="21.4" height="21.4" fill="rgb(224, 255, 45)"/><rect x="797.4" y="459.9" width="21.4" height="21.4" fill="rgb(224, 255, 45)"/><rect x="818.1" y="459.9" width="21.4" height="21.4" fill="rgb(255, 246, 0)"/><rect x="838.9" y="459.9" width="21.4" height="21.4" fill="rgb(255, 246, 0)"/><rect x="859.6" y="459.9" width="21.4" height="21.4" fill="rgb(255, 200, 0)"/><rect x="527.6" y="480.7" width="21.4" height="21.4" fill="rgb(25, 243, 215)"/><rect x="548.4" y="480.7" width="21.4" height="21.4" fill="rgb(25, 243, 215)"/><rect x="569.1" y="480.7" width="21.4" height="21.4" fill="rgb(125, 252, 165)"/><rect x="589.9" y="480.7" width="21.4" height="21.4" fill="rgb(182, 255, 108)"/><rect x="610.6" y="480.7" width="21.4" height="21.4" fill="rgb(224, 255, 45)"/><rect x="631.4" y="480.7" width="21.4" height="21.4" fill="rgb(224, 255, 45)"/><rect x="652.1" y="480.7" width="21.4" height="21.4" fill="rgb(125, 252, 165)"/><rect x="672.9" y="480.7" width="21.4" height="21.4" fill="rgb(25, 243, 215)"/><rect x="693.6" y="480.7" width="21.4" height="21.4" fill="rgb(25, 243, 215)"/><rect x="714.4" y="480.7" width="21.4" height="21.4" fill="rgb(25, 243, 215)"/><rect x="735.1" y="480.7" width="21.4" height="21.4" fill="rgb(182, 255, 108)"/><rect x="755.9" y="480.7" width="21.4" height="21.4" fill="rgb(182, 255, 108)"/><rect x="776.6" y="480.7" width="21.4" height="21.4" fill="rgb(125, 252, 165)"/><rect x="797.4" y="480.7" width="21.4" height="21.4" fill="rgb(125, 252, 165)"/><rect x="818.1" y="480.7" width="21.4" height="21.4" fill="rgb(224, 255, 45)"/><rect x="838.9" y="480.7" width="21.4" height="21.4" fill="rgb(255, 246, 0)"/><rect x="859.6" y="480.7" width="21.4" height="21.4" fill="rgb(255, 200, 0)"/></g>
<polygon points="825.2,212.9 832.5,205.5 839.9,207.4 838.0,225.7 828.9,233.1 821.5,229.4" fill="#fff"/>
<polygon points="792.1,233.1 803.2,231.2 817.8,236.7 814.2,249.6 803.2,251.4 795.8,244.1" fill="#fff"/>
<polygon points="841.7,251.4 856.4,249.6 858.2,260.4 849.0,266.0 841.7,262.3" fill="#fff"/>
<polygon points="819.7,253.3 832.5,251.4 830.7,264.3 821.5,266.1" fill="#fff"/>
<polygon points="854.5,216.0 866.0,214.7 876.6,218.0 874.0,225.7 858.0,224.5" fill="#fff"/>
<polygon points="847.2,284.0 856.4,282.6 855.0,288.1 848.0,288.1" fill="#fff"/>
<polygon points="539.7,216.0 546.0,214.8 548.3,222.0 541.0,226.8" fill="#fff"/>
<polygon points="558.6,218.0 566.0,216.5 572.4,219.0 570.0,225.1 560.0,223.0" fill="#fff"/>
<polygon points="553.0,318.0 560.0,316.2 566.0,322.0 572.4,327.0 566.0,333.4 556.0,331.0 551.8,326.0" fill="#fff"/>
<polygon points="579.3,313.5 586.1,312.8 585.0,319.6 580.0,319.0" fill="#fff"/>
<polygon points="598.0,30.0 606.0,29.0 605.0,33.0 598.0,33.5" fill="#fff"/>
<polygon points="610.0,29.0 620.0,29.0 618.0,32.0 611.0,32.0" fill="#fff"/>
<polygon points="670.0,63.0 676.0,60.0 676.0,71.0 670.0,71.0" fill="#fff"/>
<polygon points="625.0,36.0 632.0,34.0 631.0,38.0 626.0,38.0" fill="#fff"/>
<polygon points="669.0,336.0 678.0,333.0 677.0,339.0 668.0,340.0" fill="#fff"/>
<polygon points="690.0,334.0 697.0,332.0 696.0,338.0 689.0,339.0" fill="#fff"/>
<polygon points="790.0,315.0 797.0,313.0 796.0,318.0 789.0,319.0" fill="#fff"/>
<polygon points="711.0,86.0 716.0,85.0 716.0,90.0 711.0,90.0" fill="#fff"/>
<g stroke="rgba(50,60,30,0.10)" stroke-width="1"><line x1="548.40" y1="27.3" x2="548.40" y2="488.9"/><line x1="589.90" y1="27.3" x2="589.90" y2="488.9"/><line x1="631.40" y1="27.3" x2="631.40" y2="488.9"/><line x1="672.90" y1="27.3" x2="672.90" y2="488.9"/><line x1="714.40" y1="27.3" x2="714.40" y2="488.9"/><line x1="755.90" y1="27.3" x2="755.90" y2="488.9"/><line x1="797.40" y1="27.3" x2="797.40" y2="488.9"/><line x1="838.90" y1="27.3" x2="838.90" y2="488.9"/><line x1="538.5" y1="43.90" x2="880.0" y2="43.90"/><line x1="538.5" y1="85.50" x2="880.0" y2="85.50"/><line x1="538.5" y1="127.10" x2="880.0" y2="127.10"/><line x1="538.5" y1="168.70" x2="880.0" y2="168.70"/><line x1="538.5" y1="210.30" x2="880.0" y2="210.30"/><line x1="538.5" y1="251.90" x2="880.0" y2="251.90"/><line x1="538.5" y1="293.50" x2="880.0" y2="293.50"/><line x1="538.5" y1="335.10" x2="880.0" y2="335.10"/><line x1="538.5" y1="376.70" x2="880.0" y2="376.70"/><line x1="538.5" y1="418.30" x2="880.0" y2="418.30"/><line x1="538.5" y1="459.90" x2="880.0" y2="459.90"/></g>
<rect x="651" y="244.3" width="82.6" height="82.7" fill="none" stroke="#fffff0" stroke-width="2.5"/>
<text x="711" y="82.2" textLength="164.5" lengthAdjust="spacingAndGlyphs" font-family='"Liberation Sans", sans-serif' font-size="15.8" fill="#1a1000">(MODIS derived LST)</text>
<path d="M572.3,413.7 L562.3,446.9 L572.3,435.2 Z" fill="#000"/><path d="M572.3,413.7 L582.3,446.9 L572.3,435.2 Z" fill="none" stroke="#000" stroke-width="1.1" stroke-linejoin="miter"/><text x="572.3" y="408.8" text-anchor="middle" font-family='"Liberation Sans", sans-serif' font-size="13.5">N</text><rect x="594.7" y="440.0" width="55.69999999999993" height="3.3999999999999773" fill="none" stroke="#000" stroke-width="0.8"/><rect x="594.7" y="440.0" width="27.84999999999991" height="3.3999999999999773" fill="#000"/><g font-family='"Liberation Sans", sans-serif' font-weight="bold" font-size="8.5" text-anchor="middle" fill="#111"><text x="595.7" y="435.7">0</text><text x="622.55" y="435.7">10</text><text x="650.4" y="435.7">20</text><text x="622.55" y="453.1">Kilometers</text></g>
</g>
<rect x="538.5" y="27.3" width="341.50" height="461.60" fill="none" stroke="#3a3a20" stroke-width="1"/>
<g stroke="#222" stroke-width="1.1"><line x1="548.40" y1="22.80" x2="548.40" y2="27.30"/><line x1="548.40" y1="488.90" x2="548.40" y2="493.40"/><line x1="589.90" y1="22.80" x2="589.90" y2="27.30"/><line x1="589.90" y1="488.90" x2="589.90" y2="493.40"/><line x1="631.40" y1="22.80" x2="631.40" y2="27.30"/><line x1="631.40" y1="488.90" x2="631.40" y2="493.40"/><line x1="672.90" y1="22.80" x2="672.90" y2="27.30"/><line x1="672.90" y1="488.90" x2="672.90" y2="493.40"/><line x1="714.40" y1="22.80" x2="714.40" y2="27.30"/><line x1="714.40" y1="488.90" x2="714.40" y2="493.40"/><line x1="755.90" y1="22.80" x2="755.90" y2="27.30"/><line x1="755.90" y1="488.90" x2="755.90" y2="493.40"/><line x1="797.40" y1="22.80" x2="797.40" y2="27.30"/><line x1="797.40" y1="488.90" x2="797.40" y2="493.40"/><line x1="838.90" y1="22.80" x2="838.90" y2="27.30"/><line x1="838.90" y1="488.90" x2="838.90" y2="493.40"/><line x1="534.00" y1="43.90" x2="538.50" y2="43.90"/><line x1="880.00" y1="43.90" x2="884.50" y2="43.90"/><line x1="534.00" y1="85.50" x2="538.50" y2="85.50"/><line x1="880.00" y1="85.50" x2="884.50" y2="85.50"/><line x1="534.00" y1="127.10" x2="538.50" y2="127.10"/><line x1="880.00" y1="127.10" x2="884.50" y2="127.10"/><line x1="534.00" y1="168.70" x2="538.50" y2="168.70"/><line x1="880.00" y1="168.70" x2="884.50" y2="168.70"/><line x1="534.00" y1="210.30" x2="538.50" y2="210.30"/><line x1="880.00" y1="210.30" x2="884.50" y2="210.30"/><line x1="534.00" y1="251.90" x2="538.50" y2="251.90"/><line x1="880.00" y1="251.90" x2="884.50" y2="251.90"/><line x1="534.00" y1="293.50" x2="538.50" y2="293.50"/><line x1="880.00" y1="293.50" x2="884.50" y2="293.50"/><line x1="534.00" y1="335.10" x2="538.50" y2="335.10"/><line x1="880.00" y1="335.10" x2="884.50" y2="335.10"/><line x1="534.00" y1="376.70" x2="538.50" y2="376.70"/><line x1="880.00" y1="376.70" x2="884.50" y2="376.70"/><line x1="534.00" y1="418.30" x2="538.50" y2="418.30"/><line x1="880.00" y1="418.30" x2="884.50" y2="418.30"/><line x1="534.00" y1="459.90" x2="538.50" y2="459.90"/><line x1="880.00" y1="459.90" x2="884.50" y2="459.90"/></g><g font-family='"Liberation Sans", sans-serif' font-weight="bold" font-size="17" text-anchor="middle" fill="#111"><text x="548.40" y="19.00">570000</text><text x="548.40" y="510.67">570000</text><text x="631.40" y="19.00">600000</text><text x="631.40" y="510.67">600000</text><text x="714.40" y="19.00">630000</text><text x="714.40" y="510.67">630000</text><text x="797.40" y="19.00">660000</text><text x="797.40" y="510.67">660000</text><text transform="translate(900.47,43.90) rotate(-90)">4390000</text><text transform="translate(530.00,85.50) rotate(-90)">4375000</text><text transform="translate(900.47,127.10) rotate(-90)">4360000</text><text transform="translate(530.00,168.70) rotate(-90)">4345000</text><text transform="translate(900.47,210.30) rotate(-90)">4330000</text><text transform="translate(530.00,251.90) rotate(-90)">4315000</text><text transform="translate(900.47,293.50) rotate(-90)">4300000</text><text transform="translate(530.00,335.10) rotate(-90)">4285000</text><text transform="translate(900.47,376.70) rotate(-90)">4270000</text><text transform="translate(530.00,418.30) rotate(-90)">4255000</text><text transform="translate(900.47,459.90) rotate(-90)">4240000</text></g>
<clipPath id="clip_m3"><rect x="581.4" y="667.8" width="334.60" height="452.80"/></clipPath>
<g clip-path="url(#clip_m3)">
<rect x="581.4" y="667.8" width="334.6" height="452.79999999999995" fill="#f0c030"/>
<g filter="url(#blur_m3)"><rect x="570.4" y="663.4" width="21.0" height="21.0" fill="rgb(255, 165, 0)"/><rect x="590.8" y="663.4" width="21.0" height="21.0" fill="rgb(255, 205, 0)"/><rect x="611.2" y="663.4" width="21.0" height="21.0" fill="rgb(255, 205, 0)"/><rect x="631.6" y="663.4" width="21.0" height="21.0" fill="rgb(215, 250, 50)"/><rect x="652.1" y="663.4" width="21.0" height="21.0" fill="rgb(255, 165, 0)"/><rect x="672.5" y="663.4" width="21.0" height="21.0" fill="rgb(255, 165, 0)"/><rect x="692.9" y="663.4" width="21.0" height="21.0" fill="rgb(255, 205, 0)"/><rect x="713.3" y="663.4" width="21.0" height="21.0" fill="rgb(255, 205, 0)"/><rect x="733.8" y="663.4" width="21.0" height="21.0" fill="rgb(255, 165, 0)"/><rect x="754.2" y="663.4" width="21.0" height="21.0" fill="rgb(215, 250, 50)"/><rect x="774.6" y="663.4" width="21.0" height="21.0" fill="rgb(255, 165, 0)"/><rect x="795.0" y="663.4" width="21.0" height="21.0" fill="rgb(255, 205, 0)"/><rect x="815.5" y="663.4" width="21.0" height="21.0" fill="rgb(255, 165, 0)"/><rect x="835.9" y="663.4" width="21.0" height="21.0" fill="rgb(255, 165, 0)"/><rect x="856.3" y="663.4" width="21.0" height="21.0" fill="rgb(255, 165, 0)"/><rect x="876.8" y="663.4" width="21.0" height="21.0" fill="rgb(255, 165, 0)"/><rect x="897.2" y="663.4" width="21.0" height="21.0" fill="rgb(255, 165, 0)"/><rect x="570.4" y="683.8" width="21.0" height="21.0" fill="rgb(255, 130, 0)"/><rect x="590.8" y="683.8" width="21.0" height="21.0" fill="rgb(255, 165, 0)"/><rect x="611.2" y="683.8" width="21.0" height="21.0" fill="rgb(255, 165, 0)"/><rect x="631.6" y="683.8" width="21.0" height="21.0" fill="rgb(160, 250, 120)"/><rect x="652.1" y="683.8" width="21.0" height="21.0" fill="rgb(255, 165, 0)"/><rect x="672.5" y="683.8" width="21.0" height="21.0" fill="rgb(255, 165, 0)"/><rect x="692.9" y="683.8" width="21.0" height="21.0" fill="rgb(255, 80, 0)"/><rect x="713.3" y="683.8" width="21.0" height="21.0" fill="rgb(255, 165, 0)"/><rect x="733.8" y="683.8" width="21.0" height="21.0" fill="rgb(255, 165, 0)"/><rect x="754.2" y="683.8" width="21.0" height="21.0" fill="rgb(255, 205, 0)"/><rect x="774.6" y="683.8" width="21.0" height="21.0" fill="rgb(255, 205, 0)"/><rect x="795.0" y="683.8" width="21.0" height="21.0" fill="rgb(255, 165, 0)"/><rect x="815.5" y="683.8" width="21.0" height="21.0" fill="rgb(255, 130, 0)"/><rect x="835.9" y="683.8" width="21.0" height="21.0" fill="rgb(255, 165, 0)"/><rect x="856.3" y="683.8" width="21.0" height="21.0" fill="rgb(255, 165, 0)"/><rect x="876.8" y="683.8" width="21.0" height="21.0" fill="rgb(255, 130, 0)"/><rect x="897.2" y="683.8" width="21.0" height="21.0" fill="rgb(255, 130, 0)"/><rect x="570.4" y="704.2" width="21.0" height="21.0" fill="rgb(255, 130, 0)"/><rect x="590.8" y="704.2" width="21.0" height="21.0" fill="rgb(255, 130, 0)"/><rect x="611.2" y="704.2" width="21.0" height="21.0" fill="rgb(255, 130, 0)"/><rect x="631.6" y="704.2" width="21.0" height="21.0" fill="rgb(255, 130, 0)"/><rect x="652.1" y="704.2" width="21.0" height="21.0" fill="rgb(255, 165, 0)"/><rect x="672.5" y="704.2" width="21.0" height="21.0" fill="rgb(255, 165, 0)"/><rect x="692.9" y="704.2" width="21.0" height="21.0" fill="rgb(255, 80, 0)"/><rect x="713.3" y="704.2" width="21.0" height="21.0" fill="rgb(255, 205, 0)"/><rect x="733.8" y="704.2" width="21.0" height="21.0" fill="rgb(255, 165, 0)"/><rect x="754.2" y="704.2" width="21.0" height="21.0" fill="rgb(255, 205, 0)"/><rect x="774.6" y="704.2" width="21.0" height="21.0" fill="rgb(255, 205, 0)"/><rect x="795.0" y="704.2" width="21.0" height="21.0" fill="rgb(255, 205, 0)"/><rect x="815.5" y="704.2" width="21.0" height="21.0" fill="rgb(255, 205, 0)"/><rect x="835.9" y="704.2" width="21.0" height="21.0" fill="rgb(255, 205, 0)"/><rect x="856.3" y="704.2" width="21.0" height="21.0" fill="rgb(255, 205, 0)"/><rect x="876.8" y="704.2" width="21.0" height="21.0" fill="rgb(255, 165, 0)"/><rect x="897.2" y="704.2" width="21.0" height="21.0" fill="rgb(255, 165, 0)"/><rect x="570.4" y="724.6" width="21.0" height="21.0" fill="rgb(255, 165, 0)"/><rect x="590.8" y="724.6" width="21.0" height="21.0" fill="rgb(255, 130, 0)"/><rect x="611.2" y="724.6" width="21.0" height="21.0" fill="rgb(255, 130, 0)"/><rect x="631.6" y="724.6" width="21.0" height="21.0" fill="rgb(255, 130, 0)"/><rect x="652.1" y="724.6" width="21.0" height="21.0" fill="rgb(255, 130, 0)"/><rect x="672.5" y="724.6" width="21.0" height="21.0" fill="rgb(255, 130, 0)"/><rect x="692.9" y="724.6" width="21.0" height="21.0" fill="rgb(255, 80, 0)"/><rect x="713.3" y="724.6" width="21.0" height="21.0" fill="rgb(255, 165, 0)"/><rect x="733.8" y="724.6" width="21.0" height="21.0" fill="rgb(255, 130, 0)"/><rect x="754.2" y="724.6" width="21.0" height="21.0" fill="rgb(215, 250, 50)"/><rect x="774.6" y="724.6" width="21.0" height="21.0" fill="rgb(255, 205, 0)"/><rect x="795.0" y="724.6" width="21.0" height="21.0" fill="rgb(255, 205, 0)"/><rect x="815.5" y="724.6" width="21.0" height="21.0" fill="rgb(215, 250, 50)"/><rect x="835.9" y="724.6" width="21.0" height="21.0" fill="rgb(215, 250, 50)"/><rect x="856.3" y="724.6" width="21.0" height="21.0" fill="rgb(255, 205, 0)"/><rect x="876.8" y="724.6" width="21.0" height="21.0" fill="rgb(255, 205, 0)"/><rect x="897.2" y="724.6" width="21.0" height="21.0" fill="rgb(215, 250, 50)"/><rect x="570.4" y="745.0" width="21.0" height="21.0" fill="rgb(255, 205, 0)"/><rect x="590.8" y="745.0" width="21.0" height="21.0" fill="rgb(255, 165, 0)"/><rect x="611.2" y="745.0" width="21.0" height="21.0" fill="rgb(255, 130, 0)"/><rect x="631.6" y="745.0" width="21.0" height="21.0" fill="rgb(255, 130, 0)"/><rect x="652.1" y="745.0" width="21.0" height="21.0" fill="rgb(255, 130, 0)"/><rect x="672.5" y="745.0" width="21.0" height="21.0" fill="rgb(255, 80, 0)"/><rect x="692.9" y="745.0" width="21.0" height="21.0" fill="rgb(255, 130, 0)"/><rect x="713.3" y="745.0" width="21.0" height="21.0" fill="rgb(255, 165, 0)"/><rect x="733.8" y="745.0" width="21.0" height="21.0" fill="rgb(255, 130, 0)"/><rect x="754.2" y="745.0" width="21.0" height="21.0" fill="rgb(255, 205, 0)"/><rect x="774.6" y="745.0" width="21.0" height="21.0" fill="rgb(255, 130, 0)"/><rect x="795.0" y="745.0" width="21.0" height="21.0" fill="rgb(255, 205, 0)"/><rect x="815.5" y="745.0" width="21.0" height="21.0" fill="rgb(255, 205, 0)"/><rect x="835.9" y="745.0" width="21.0" height="21.0" fill="rgb(255, 205, 0)"/><rect x="856.3" y="745.0" width="21.0" height="21.0" fill="rgb(255, 205, 0)"/><rect x="876.8" y="745.0" width="21.0" height="21.0" fill="rgb(255, 165, 0)"/><rect x="897.2" y="745.0" width="21.0" height="21.0" fill="rgb(255, 205, 0)"/><rect x="570.4" y="765.4" width="21.0" height="21.0" fill="rgb(215, 250, 50)"/><rect x="590.8" y="765.4" width="21.0" height="21.0" fill="rgb(255, 205, 0)"/><rect x="611.2" y="765.4" width="21.0" height="21.0" fill="rgb(255, 205, 0)"/><rect x="631.6" y="765.4" width="21.0" height="21.0" fill="rgb(255, 205, 0)"/><rect x="652.1" y="765.4" width="21.0" height="21.0" fill="rgb(215, 250, 50)"/><rect x="672.5" y="765.4" width="21.0" height="21.0" fill="rgb(255, 165, 0)"/><rect x="692.9" y="765.4" width="21.0" height="21.0" fill="rgb(215, 250, 50)"/><rect x="713.3" y="765.4" width="21.0" height="21.0" fill="rgb(255, 165, 0)"/><rect x="733.8" y="765.4" width="21.0" height="21.0" fill="rgb(255, 165, 0)"/><rect x="754.2" y="765.4" width="21.0" height="21.0" fill="rgb(255, 205, 0)"/><rect x="774.6" y="765.4" width="21.0" height="21.0" fill="rgb(255, 205, 0)"/><rect x="795.0" y="765.4" width="21.0" height="21.0" fill="rgb(255, 205, 0)"/><rect x="815.5" y="765.4" width="21.0" height="21.0" fill="rgb(255, 165, 0)"/><rect x="835.9" y="765.4" width="21.0" height="21.0" fill="rgb(255, 205, 0)"/><rect x="856.3" y="765.4" width="21.0" height="21.0" fill="rgb(255, 165, 0)"/><rect x="876.8" y="765.4" width="21.0" height="21.0" fill="rgb(255, 130, 0)"/><rect x="897.2" y="765.4" width="21.0" height="21.0" fill="rgb(255, 165, 0)"/><rect x="570.4" y="785.8" width="21.0" height="21.0" fill="rgb(215, 250, 50)"/><rect x="590.8" y="785.8" width="21.0" height="21.0" fill="rgb(255, 130, 0)"/><rect x="611.2" y="785.8" width="21.0" height="21.0" fill="rgb(255, 165, 0)"/><rect x="631.6" y="785.8" width="21.0" height="21.0" fill="rgb(255, 130, 0)"/><rect x="652.1" y="785.8" width="21.0" height="21.0" fill="rgb(255, 130, 0)"/><rect x="672.5" y="785.8" width="21.0" height="21.0" fill="rgb(215, 250, 50)"/><rect x="692.9" y="785.8" width="21.0" height="21.0" fill="rgb(255, 205, 0)"/><rect x="713.3" y="785.8" width="21.0" height="21.0" fill="rgb(255, 165, 0)"/><rect x="733.8" y="785.8" width="21.0" height="21.0" fill="rgb(255, 205, 0)"/><rect x="754.2" y="785.8" width="21.0" height="21.0" fill="rgb(255, 205, 0)"/><rect x="774.6" y="785.8" width="21.0" height="21.0" fill="rgb(250, 245, 0)"/><rect x="795.0" y="785.8" width="21.0" height="21.0" fill="rgb(255, 205, 0)"/><rect x="815.5" y="785.8" width="21.0" height="21.0" fill="rgb(255, 205, 0)"/><rect x="835.9" y="785.8" width="21.0" height="21.0" fill="rgb(255, 165, 0)"/><rect x="856.3" y="785.8" width="21.0" height="21.0" fill="rgb(255, 165, 0)"/><rect x="876.8" y="785.8" width="21.0" height="21.0" fill="rgb(255, 80, 0)"/><rect x="897.2" y="785.8" width="21.0" height="21.0" fill="rgb(255, 165, 0)"/><rect x="570.4" y="806.2" width="21.0" height="21.0" fill="rgb(255, 205, 0)"/><rect x="590.8" y="806.2" width="21.0" height="21.0" fill="rgb(255, 130, 0)"/><rect x="611.2" y="806.2" width="21.0" height="21.0" fill="rgb(255, 205, 0)"/><rect x="631.6" y="806.2" width="21.0" height="21.0" fill="rgb(215, 250, 50)"/><rect x="652.1" y="806.2" width="21.0" height="21.0" fill="rgb(215, 250, 50)"/><rect x="672.5" y="806.2" width="21.0" height="21.0" fill="rgb(255, 205, 0)"/><rect x="692.9" y="806.2" width="21.0" height="21.0" fill="rgb(215, 250, 50)"/><rect x="713.3" y="806.2" width="21.0" height="21.0" fill="rgb(250, 245, 0)"/><rect x="733.8" y="806.2" width="21.0" height="21.0" fill="rgb(250, 245, 0)"/><rect x="754.2" y="806.2" width="21.0" height="21.0" fill="rgb(250, 245, 0)"/><rect x="774.6" y="806.2" width="21.0" height="21.0" fill="rgb(250, 245, 0)"/><rect x="795.0" y="806.2" width="21.0" height="21.0" fill="rgb(250, 245, 0)"/><rect x="815.5" y="806.2" width="21.0" height="21.0" fill="rgb(215, 250, 50)"/><rect x="835.9" y="806.2" width="21.0" height="21.0" fill="rgb(25, 118, 240)"/><rect x="856.3" y="806.2" width="21.0" height="21.0" fill="rgb(255, 15, 0)"/><rect x="876.8" y="806.2" width="21.0" height="21.0" fill="rgb(25, 25, 232)"/><rect x="897.2" y="806.2" width="21.0" height="21.0" fill="rgb(255, 80, 0)"/><rect x="570.4" y="826.6" width="21.0" height="21.0" fill="rgb(255, 205, 0)"/><rect x="590.8" y="826.6" width="21.0" height="21.0" fill="rgb(20, 172, 240)"/><rect x="611.2" y="826.6" width="21.0" height="21.0" fill="rgb(250, 245, 0)"/><rect x="631.6" y="826.6" width="21.0" height="21.0" fill="rgb(255, 165, 0)"/><rect x="652.1" y="826.6" width="21.0" height="21.0" fill="rgb(255, 205, 0)"/><rect x="672.5" y="826.6" width="21.0" height="21.0" fill="rgb(215, 250, 50)"/><rect x="692.9" y="826.6" width="21.0" height="21.0" fill="rgb(255, 205, 0)"/><rect x="713.3" y="826.6" width="21.0" height="21.0" fill="rgb(255, 165, 0)"/><rect x="733.8" y="826.6" width="21.0" height="21.0" fill="rgb(255, 205, 0)"/><rect x="754.2" y="826.6" width="21.0" height="21.0" fill="rgb(250, 245, 0)"/><rect x="774.6" y="826.6" width="21.0" height="21.0" fill="rgb(250, 245, 0)"/><rect x="795.0" y="826.6" width="21.0" height="21.0" fill="rgb(215, 250, 50)"/><rect x="815.5" y="826.6" width="21.0" height="21.0" fill="rgb(215, 250, 50)"/><rect x="835.9" y="826.6" width="21.0" height="21.0" fill="rgb(80, 245, 180)"/><rect x="856.3" y="826.6" width="21.0" height="21.0" fill="rgb(25, 25, 232)"/><rect x="876.8" y="826.6" width="21.0" height="21.0" fill="rgb(25, 25, 232)"/><rect x="897.2" y="826.6" width="21.0" height="21.0" fill="rgb(215, 250, 50)"/><rect x="570.4" y="847.0" width="21.0" height="21.0" fill="rgb(255, 15, 0)"/><rect x="590.8" y="847.0" width="21.0" height="21.0" fill="rgb(25, 25, 232)"/><rect x="611.2" y="847.0" width="21.0" height="21.0" fill="rgb(215, 250, 50)"/><rect x="631.6" y="847.0" width="21.0" height="21.0" fill="rgb(255, 165, 0)"/><rect x="652.1" y="847.0" width="21.0" height="21.0" fill="rgb(255, 130, 0)"/><rect x="672.5" y="847.0" width="21.0" height="21.0" fill="rgb(255, 205, 0)"/><rect x="692.9" y="847.0" width="21.0" height="21.0" fill="rgb(215, 250, 50)"/><rect x="713.3" y="847.0" width="21.0" height="21.0" fill="rgb(255, 205, 0)"/><rect x="733.8" y="847.0" width="21.0" height="21.0" fill="rgb(255, 165, 0)"/><rect x="754.2" y="847.0" width="21.0" height="21.0" fill="rgb(255, 205, 0)"/><rect x="774.6" y="847.0" width="21.0" height="21.0" fill="rgb(255, 205, 0)"/><rect x="795.0" y="847.0" width="21.0" height="21.0" fill="rgb(80, 245, 180)"/><rect x="815.5" y="847.0" width="21.0" height="21.0" fill="rgb(25, 25, 232)"/><rect x="835.9" y="847.0" width="21.0" height="21.0" fill="rgb(15, 232, 225)"/><rect x="856.3" y="847.0" width="21.0" height="21.0" fill="rgb(255, 15, 0)"/><rect x="876.8" y="847.0" width="21.0" height="21.0" fill="rgb(25, 25, 232)"/><rect x="897.2" y="847.0" width="21.0" height="21.0" fill="rgb(255, 15, 0)"/><rect x="570.4" y="867.4" width="21.0" height="21.0" fill="rgb(15, 232, 225)"/><rect x="590.8" y="867.4" width="21.0" height="21.0" fill="rgb(215, 250, 50)"/><rect x="611.2" y="867.4" width="21.0" height="21.0" fill="rgb(215, 250, 50)"/><rect x="631.6" y="867.4" width="21.0" height="21.0" fill="rgb(255, 205, 0)"/><rect x="652.1" y="867.4" width="21.0" height="21.0" fill="rgb(255, 130, 0)"/><rect x="672.5" y="867.4" width="21.0" height="21.0" fill="rgb(255, 205, 0)"/><rect x="692.9" y="867.4" width="21.0" height="21.0" fill="rgb(215, 250, 50)"/><rect x="713.3" y="867.4" width="21.0" height="21.0" fill="rgb(255, 205, 0)"/><rect x="733.8" y="867.4" width="21.0" height="21.0" fill="rgb(255, 205, 0)"/><rect x="754.2" y="867.4" width="21.0" height="21.0" fill="rgb(255, 205, 0)"/><rect x="774.6" y="867.4" width="21.0" height="21.0" fill="rgb(255, 130, 0)"/><rect x="795.0" y="867.4" width="21.0" height="21.0" fill="rgb(15, 232, 225)"/><rect x="815.5" y="867.4" width="21.0" height="21.0" fill="rgb(255, 15, 0)"/><rect x="835.9" y="867.4" width="21.0" height="21.0" fill="rgb(255, 15, 0)"/><rect x="856.3" y="867.4" width="21.0" height="21.0" fill="rgb(25, 25, 232)"/><rect x="876.8" y="867.4" width="21.0" height="21.0" fill="rgb(255, 15, 0)"/><rect x="897.2" y="867.4" width="21.0" height="21.0" fill="rgb(255, 205, 0)"/><rect x="570.4" y="887.8" width="21.0" height="21.0" fill="rgb(15, 232, 225)"/><rect x="590.8" y="887.8" width="21.0" height="21.0" fill="rgb(215, 250, 50)"/><rect x="611.2" y="887.8" width="21.0" height="21.0" fill="rgb(215, 250, 50)"/><rect x="631.6" y="887.8" width="21.0" height="21.0" fill="rgb(215, 250, 50)"/><rect x="652.1" y="887.8" width="21.0" height="21.0" fill="rgb(215, 250, 50)"/><rect x="672.5" y="887.8" width="21.0" height="21.0" fill="rgb(215, 250, 50)"/><rect x="692.9" y="887.8" width="21.0" height="21.0" fill="rgb(255, 205, 0)"/><rect x="713.3" y="887.8" width="21.0" height="21.0" fill="rgb(255, 165, 0)"/><rect x="733.8" y="887.8" width="21.0" height="21.0" fill="rgb(80, 245, 180)"/><rect x="754.2" y="887.8" width="21.0" height="21.0" fill="rgb(255, 205, 0)"/><rect x="774.6" y="887.8" width="21.0" height="21.0" fill="rgb(215, 250, 50)"/><rect x="795.0" y="887.8" width="21.0" height="21.0" fill="rgb(255, 205, 0)"/><rect x="815.5" y="887.8" width="21.0" height="21.0" fill="rgb(15, 232, 225)"/><rect x="835.9" y="887.8" width="21.0" height="21.0" fill="rgb(25, 25, 232)"/><rect x="856.3" y="887.8" width="21.0" height="21.0" fill="rgb(25, 25, 232)"/><rect x="876.8" y="887.8" width="21.0" height="21.0" fill="rgb(255, 15, 0)"/><rect x="897.2" y="887.8" width="21.0" height="21.0" fill="rgb(25, 25, 232)"/><rect x="570.4" y="908.2" width="21.0" height="21.0" fill="rgb(15, 232, 225)"/><rect x="590.8" y="908.2" width="21.0" height="21.0" fill="rgb(80, 245, 180)"/><rect x="611.2" y="908.2" width="21.0" height="21.0" fill="rgb(215, 250, 50)"/><rect x="631.6" y="908.2" width="21.0" height="21.0" fill="rgb(215, 250, 50)"/><rect x="652.1" y="908.2" width="21.0" height="21.0" fill="rgb(215, 250, 50)"/><rect x="672.5" y="908.2" width="21.0" height="21.0" fill="rgb(215, 250, 50)"/><rect x="692.9" y="908.2" width="21.0" height="21.0" fill="rgb(255, 165, 0)"/><rect x="713.3" y="908.2" width="21.0" height="21.0" fill="rgb(215, 250, 50)"/><rect x="733.8" y="908.2" width="21.0" height="21.0" fill="rgb(215, 250, 50)"/><rect x="754.2" y="908.2" width="21.0" height="21.0" fill="rgb(255, 205, 0)"/><rect x="774.6" y="908.2" width="21.0" height="21.0" fill="rgb(215, 250, 50)"/><rect x="795.0" y="908.2" width="21.0" height="21.0" fill="rgb(255, 205, 0)"/><rect x="815.5" y="908.2" width="21.0" height="21.0" fill="rgb(250, 245, 0)"/><rect x="835.9" y="908.2" width="21.0" height="21.0" fill="rgb(80, 245, 180)"/><rect x="856.3" y="908.2" width="21.0" height="21.0" fill="rgb(15, 232, 225)"/><rect x="876.8" y="908.2" width="21.0" height="21.0" fill="rgb(15, 232, 225)"/><rect x="897.2" y="908.2" width="21.0" height="21.0" fill="rgb(15, 232, 225)"/><rect x="570.4" y="928.6" width="21.0" height="21.0" fill="rgb(15, 232, 225)"/><rect x="590.8" y="928.6" width="21.0" height="21.0" fill="rgb(15, 232, 225)"/><rect x="611.2" y="928.6" width="21.0" height="21.0" fill="rgb(20, 172, 240)"/><rect x="631.6" y="928.6" width="21.0" height="21.0" fill="rgb(20, 172, 240)"/><rect x="652.1" y="928.6" width="21.0" height="21.0" fill="rgb(215, 250, 50)"/><rect x="672.5" y="928.6" width="21.0" height="21.0" fill="rgb(255, 205, 0)"/><rect x="692.9" y="928.6" width="21.0" height="21.0" fill="rgb(215, 250, 50)"/><rect x="713.3" y="928.6" width="21.0" height="21.0" fill="rgb(215, 250, 50)"/><rect x="733.8" y="928.6" width="21.0" height="21.0" fill="rgb(215, 250, 50)"/><rect x="754.2" y="928.6" width="21.0" height="21.0" fill="rgb(80, 245, 180)"/><rect x="774.6" y="928.6" width="21.0" height="21.0" fill="rgb(215, 250, 50)"/><rect x="795.0" y="928.6" width="21.0" height="21.0" fill="rgb(215, 250, 50)"/><rect x="815.5" y="928.6" width="21.0" height="21.0" fill="rgb(255, 205, 0)"/><rect x="835.9" y="928.6" width="21.0" height="21.0" fill="rgb(255, 130, 0)"/><rect x="856.3" y="928.6" width="21.0" height="21.0" fill="rgb(255, 130, 0)"/><rect x="876.8" y="928.6" width="21.0" height="21.0" fill="rgb(20, 172, 240)"/><rect x="897.2" y="928.6" width="21.0" height="21.0" fill="rgb(255, 130, 0)"/><rect x="570.4" y="949.0" width="21.0" height="21.0" fill="rgb(20, 172, 240)"/><rect x="590.8" y="949.0" width="21.0" height="21.0" fill="rgb(255, 15, 0)"/><rect x="611.2" y="949.0" width="21.0" height="21.0" fill="rgb(25, 25, 232)"/><rect x="631.6" y="949.0" width="21.0" height="21.0" fill="rgb(20, 172, 240)"/><rect x="652.1" y="949.0" width="21.0" height="21.0" fill="rgb(15, 232, 225)"/><rect x="672.5" y="949.0" width="21.0" height="21.0" fill="rgb(215, 250, 50)"/><rect x="692.9" y="949.0" width="21.0" height="21.0" fill="rgb(215, 250, 50)"/><rect x="713.3" y="949.0" width="21.0" height="21.0" fill="rgb(215, 250, 50)"/><rect x="733.8" y="949.0" width="21.0" height="21.0" fill="rgb(255, 165, 0)"/><rect x="754.2" y="949.0" width="21.0" height="21.0" fill="rgb(255, 165, 0)"/><rect x="774.6" y="949.0" width="21.0" height="21.0" fill="rgb(215, 250, 50)"/><rect x="795.0" y="949.0" width="21.0" height="21.0" fill="rgb(255, 205, 0)"/><rect x="815.5" y="949.0" width="21.0" height="21.0" fill="rgb(250, 245, 0)"/><rect x="835.9" y="949.0" width="21.0" height="21.0" fill="rgb(215, 250, 50)"/><rect x="856.3" y="949.0" width="21.0" height="21.0" fill="rgb(80, 245, 180)"/><rect x="876.8" y="949.0" width="21.0" height="21.0" fill="rgb(15, 232, 225)"/><rect x="897.2" y="949.0" width="21.0" height="21.0" fill="rgb(15, 232, 225)"/><rect x="570.4" y="969.4" width="21.0" height="21.0" fill="rgb(25, 25, 232)"/><rect x="590.8" y="969.4" width="21.0" height="21.0" fill="rgb(15, 232, 225)"/><rect x="611.2" y="969.4" width="21.0" height="21.0" fill="rgb(20, 172, 240)"/><rect x="631.6" y="969.4" width="21.0" height="21.0" fill="rgb(20, 172, 240)"/><rect x="652.1" y="969.4" width="21.0" height="21.0" fill="rgb(15, 232, 225)"/><rect x="672.5" y="969.4" width="21.0" height="21.0" fill="rgb(215, 250, 50)"/><rect x="692.9" y="969.4" width="21.0" height="21.0" fill="rgb(215, 250, 50)"/><rect x="713.3" y="969.4" width="21.0" height="21.0" fill="rgb(255, 205, 0)"/><rect x="733.8" y="969.4" width="21.0" height="21.0" fill="rgb(255, 205, 0)"/><rect x="754.2" y="969.4" width="21.0" height="21.0" fill="rgb(255, 205, 0)"/><rect x="774.6" y="969.4" width="21.0" height="21.0" fill="rgb(255, 205, 0)"/><rect x="795.0" y="969.4" width="21.0" height="21.0" fill="rgb(255, 205, 0)"/><rect x="815.5" y="969.4" width="21.0" height="21.0" fill="rgb(255, 205, 0)"/><rect x="835.9" y="969.4" width="21.0" height="21.0" fill="rgb(255, 205, 0)"/><rect x="856.3" y="969.4" width="21.0" height="21.0" fill="rgb(215, 250, 50)"/><rect x="876.8" y="969.4" width="21.0" height="21.0" fill="rgb(15, 232, 225)"/><rect x="897.2" y="969.4" width="21.0" height="21.0" fill="rgb(15, 232, 225)"/><rect x="570.4" y="989.8" width="21.0" height="21.0" fill="rgb(15, 232, 225)"/><rect x="590.8" y="989.8" width="21.0" height="21.0" fill="rgb(15, 232, 225)"/><rect x="611.2" y="989.8" width="21.0" height="21.0" fill="rgb(15, 232, 225)"/><rect x="631.6" y="989.8" width="21.0" height="21.0" fill="rgb(20, 172, 240)"/><rect x="652.1" y="989.8" width="21.0" height="21.0" fill="rgb(15, 232, 225)"/><rect x="672.5" y="989.8" width="21.0" height="21.0" fill="rgb(15, 232, 225)"/><rect x="692.9" y="989.8" width="21.0" height="21.0" fill="rgb(160, 250, 120)"/><rect x="713.3" y="989.8" width="21.0" height="21.0" fill="rgb(215, 250, 50)"/><rect x="733.8" y="989.8" width="21.0" height="21.0" fill="rgb(255, 205, 0)"/><rect x="754.2" y="989.8" width="21.0" height="21.0" fill="rgb(255, 205, 0)"/><rect x="774.6" y="989.8" width="21.0" height="21.0" fill="rgb(215, 250, 50)"/><rect x="795.0" y="989.8" width="21.0" height="21.0" fill="rgb(255, 205, 0)"/><rect x="815.5" y="989.8" width="21.0" height="21.0" fill="rgb(215, 250, 50)"/><rect x="835.9" y="989.8" width="21.0" height="21.0" fill="rgb(215, 250, 50)"/><rect x="856.3" y="989.8" width="21.0" height="21.0" fill="rgb(160, 250, 120)"/><rect x="876.8" y="989.8" width="21.0" height="21.0" fill="rgb(215, 250, 50)"/><rect x="897.2" y="989.8" width="21.0" height="21.0" fill="rgb(215, 250, 50)"/><rect x="570.4" y="1010.2" width="21.0" height="21.0" fill="rgb(15, 232, 225)"/><rect x="590.8" y="1010.2" width="21.0" height="21.0" fill="rgb(20, 172, 240)"/><rect x="611.2" y="1010.2" width="21.0" height="21.0" fill="rgb(15, 232, 225)"/><rect x="631.6" y="1010.2" width="21.0" height="21.0" fill="rgb(20, 172, 240)"/><rect x="652.1" y="1010.2" width="21.0" height="21.0" fill="rgb(15, 232, 225)"/><rect x="672.5" y="1010.2" width="21.0" height="21.0" fill="rgb(15, 232, 225)"/><rect x="692.9" y="1010.2" width="21.0" height="21.0" fill="rgb(20, 172, 240)"/><rect x="713.3" y="1010.2" width="21.0" height="21.0" fill="rgb(215, 250, 50)"/><rect x="733.8" y="1010.2" width="21.0" height="21.0" fill="rgb(15, 232, 225)"/><rect x="754.2" y="1010.2" width="21.0" height="21.0" fill="rgb(215, 250, 50)"/><rect x="774.6" y="1010.2" width="21.0" height="21.0" fill="rgb(215, 250, 50)"/><rect x="795.0" y="1010.2" width="21.0" height="21.0" fill="rgb(255, 205, 0)"/><rect x="815.5" y="1010.2" width="21.0" height="21.0" fill="rgb(15, 232, 225)"/><rect x="835.9" y="1010.2" width="21.0" height="21.0" fill="rgb(215, 250, 50)"/><rect x="856.3" y="1010.2" width="21.0" height="21.0" fill="rgb(160, 250, 120)"/><rect x="876.8" y="1010.2" width="21.0" height="21.0" fill="rgb(15, 232, 225)"/><rect x="897.2" y="1010.2" width="21.0" height="21.0" fill="rgb(15, 232, 225)"/><rect x="570.4" y="1030.6" width="21.0" height="21.0" fill="rgb(80, 245, 180)"/><rect x="590.8" y="1030.6" width="21.0" height="21.0" fill="rgb(20, 172, 240)"/><rect x="611.2" y="1030.6" width="21.0" height="21.0" fill="rgb(15, 232, 225)"/><rect x="631.6" y="1030.6" width="21.0" height="21.0" fill="rgb(20, 172, 240)"/><rect x="652.1" y="1030.6" width="21.0" height="21.0" fill="rgb(15, 232, 225)"/><rect x="672.5" y="1030.6" width="21.0" height="21.0" fill="rgb(15, 232, 225)"/><rect x="692.9" y="1030.6" width="21.0" height="21.0" fill="rgb(20, 172, 240)"/><rect x="713.3" y="1030.6" width="21.0" height="21.0" fill="rgb(215, 250, 50)"/><rect x="733.8" y="1030.6" width="21.0" height="21.0" fill="rgb(215, 250, 50)"/><rect x="754.2" y="1030.6" width="21.0" height="21.0" fill="rgb(15, 232, 225)"/><rect x="774.6" y="1030.6" width="21.0" height="21.0" fill="rgb(250, 245, 0)"/><rect x="795.0" y="1030.6" width="21.0" height="21.0" fill="rgb(15, 232, 225)"/><rect x="815.5" y="1030.6" width="21.0" height="21.0" fill="rgb(15, 232, 225)"/><rect x="835.9" y="1030.6" width="21.0" height="21.0" fill="rgb(15, 232, 225)"/><rect x="856.3" y="1030.6" width="21.0" height="21.0" fill="rgb(160, 250, 120)"/><rect x="876.8" y="1030.6" width="21.0" height="21.0" fill="rgb(215, 250, 50)"/><rect x="897.2" y="1030.6" width="21.0" height="21.0" fill="rgb(20, 172, 240)"/><rect x="570.4" y="1051.0" width="21.0" height="21.0" fill="rgb(20, 172, 240)"/><rect x="590.8" y="1051.0" width="21.0" height="21.0" fill="rgb(80, 245, 180)"/><rect x="611.2" y="1051.0" width="21.0" height="21.0" fill="rgb(20, 172, 240)"/><rect x="631.6" y="1051.0" width="21.0" height="21.0" fill="rgb(20, 172, 240)"/><rect x="652.1" y="1051.0" width="21.0" height="21.0" fill="rgb(15, 232, 225)"/><rect x="672.5" y="1051.0" width="21.0" height="21.0" fill="rgb(80, 245, 180)"/><rect x="692.9" y="1051.0" width="21.0" height="21.0" fill="rgb(215, 250, 50)"/><rect x="713.3" y="1051.0" width="21.0" height="21.0" fill="rgb(15, 232, 225)"/><rect x="733.8" y="1051.0" width="21.0" height="21.0" fill="rgb(15, 232, 225)"/><rect x="754.2" y="1051.0" width="21.0" height="21.0" fill="rgb(255, 205, 0)"/><rect x="774.6" y="1051.0" width="21.0" height="21.0" fill="rgb(215, 250, 50)"/><rect x="795.0" y="1051.0" width="21.0" height="21.0" fill="rgb(15, 232, 225)"/><rect x="815.5" y="1051.0" width="21.0" height="21.0" fill="rgb(20, 172, 240)"/><rect x="835.9" y="1051.0" width="21.0" height="21.0" fill="rgb(255, 205, 0)"/><rect x="856.3" y="1051.0" width="21.0" height="21.0" fill="rgb(215, 250, 50)"/><rect x="876.8" y="1051.0" width="21.0" height="21.0" fill="rgb(15, 232, 225)"/><rect x="897.2" y="1051.0" width="21.0" height="21.0" fill="rgb(20, 172, 240)"/><rect x="570.4" y="1071.4" width="21.0" height="21.0" fill="rgb(25, 118, 240)"/><rect x="590.8" y="1071.4" width="21.0" height="21.0" fill="rgb(20, 172, 240)"/><rect x="611.2" y="1071.4" width="21.0" height="21.0" fill="rgb(15, 232, 225)"/><rect x="631.6" y="1071.4" width="21.0" height="21.0" fill="rgb(20, 172, 240)"/><rect x="652.1" y="1071.4" width="21.0" height="21.0" fill="rgb(20, 172, 240)"/><rect x="672.5" y="1071.4" width="21.0" height="21.0" fill="rgb(20, 172, 240)"/><rect x="692.9" y="1071.4" width="21.0" height="21.0" fill="rgb(215, 250, 50)"/><rect x="713.3" y="1071.4" width="21.0" height="21.0" fill="rgb(20, 172, 240)"/><rect x="733.8" y="1071.4" width="21.0" height="21.0" fill="rgb(20, 172, 240)"/><rect x="754.2" y="1071.4" width="21.0" height="21.0" fill="rgb(25, 118, 240)"/><rect x="774.6" y="1071.4" width="21.0" height="21.0" fill="rgb(15, 232, 225)"/><rect x="795.0" y="1071.4" width="21.0" height="21.0" fill="rgb(215, 250, 50)"/><rect x="815.5" y="1071.4" width="21.0" height="21.0" fill="rgb(20, 172, 240)"/><rect x="835.9" y="1071.4" width="21.0" height="21.0" fill="rgb(20, 172, 240)"/><rect x="856.3" y="1071.4" width="21.0" height="21.0" fill="rgb(255, 205, 0)"/><rect x="876.8" y="1071.4" width="21.0" height="21.0" fill="rgb(215, 250, 50)"/><rect x="897.2" y="1071.4" width="21.0" height="21.0" fill="rgb(20, 172, 240)"/><rect x="570.4" y="1091.8" width="21.0" height="21.0" fill="rgb(20, 172, 240)"/><rect x="590.8" y="1091.8" width="21.0" height="21.0" fill="rgb(20, 172, 240)"/><rect x="611.2" y="1091.8" width="21.0" height="21.0" fill="rgb(20, 172, 240)"/><rect x="631.6" y="1091.8" width="21.0" height="21.0" fill="rgb(25, 118, 240)"/><rect x="652.1" y="1091.8" width="21.0" height="21.0" fill="rgb(20, 172, 240)"/><rect x="672.5" y="1091.8" width="21.0" height="21.0" fill="rgb(25, 118, 240)"/><rect x="692.9" y="1091.8" width="21.0" height="21.0" fill="rgb(20, 172, 240)"/><rect x="713.3" y="1091.8" width="21.0" height="21.0" fill="rgb(20, 172, 240)"/><rect x="733.8" y="1091.8" width="21.0" height="21.0" fill="rgb(20, 172, 240)"/><rect x="754.2" y="1091.8" width="21.0" height="21.0" fill="rgb(25, 118, 240)"/><rect x="774.6" y="1091.8" width="21.0" height="21.0" fill="rgb(20, 172, 240)"/><rect x="795.0" y="1091.8" width="21.0" height="21.0" fill="rgb(20, 172, 240)"/><rect x="815.5" y="1091.8" width="21.0" height="21.0" fill="rgb(15, 232, 225)"/><rect x="835.9" y="1091.8" width="21.0" height="21.0" fill="rgb(215, 250, 50)"/><rect x="856.3" y="1091.8" width="21.0" height="21.0" fill="rgb(20, 172, 240)"/><rect x="876.8" y="1091.8" width="21.0" height="21.0" fill="rgb(15, 232, 225)"/><rect x="897.2" y="1091.8" width="21.0" height="21.0" fill="rgb(15, 232, 225)"/><rect x="570.4" y="1112.2" width="21.0" height="21.0" fill="rgb(20, 172, 240)"/><rect x="590.8" y="1112.2" width="21.0" height="21.0" fill="rgb(15, 232, 225)"/><rect x="611.2" y="1112.2" width="21.0" height="21.0" fill="rgb(20, 172, 240)"/><rect x="631.6" y="1112.2" width="21.0" height="21.0" fill="rgb(25, 118, 240)"/><rect x="652.1" y="1112.2" width="21.0" height="21.0" fill="rgb(20, 172, 240)"/><rect x="672.5" y="1112.2" width="21.0" height="21.0" fill="rgb(25, 118, 240)"/><rect x="692.9" y="1112.2" width="21.0" height="21.0" fill="rgb(15, 232, 225)"/><rect x="713.3" y="1112.2" width="21.0" height="21.0" fill="rgb(20, 172, 240)"/><rect x="733.8" y="1112.2" width="21.0" height="21.0" fill="rgb(25, 118, 240)"/><rect x="754.2" y="1112.2" width="21.0" height="21.0" fill="rgb(25, 118, 240)"/><rect x="774.6" y="1112.2" width="21.0" height="21.0" fill="rgb(20, 172, 240)"/><rect x="795.0" y="1112.2" width="21.0" height="21.0" fill="rgb(25, 118, 240)"/><rect x="815.5" y="1112.2" width="21.0" height="21.0" fill="rgb(20, 172, 240)"/><rect x="835.9" y="1112.2" width="21.0" height="21.0" fill="rgb(15, 232, 225)"/><rect x="856.3" y="1112.2" width="21.0" height="21.0" fill="rgb(15, 232, 225)"/><rect x="876.8" y="1112.2" width="21.0" height="21.0" fill="rgb(215, 250, 50)"/><rect x="897.2" y="1112.2" width="21.0" height="21.0" fill="rgb(15, 232, 225)"/></g>
<g stroke="rgba(60,60,40,0.10)" stroke-width="1"><line x1="590.80" y1="667.8" x2="590.80" y2="1120.6"/><line x1="631.65" y1="667.8" x2="631.65" y2="1120.6"/><line x1="672.50" y1="667.8" x2="672.50" y2="1120.6"/><line x1="713.35" y1="667.8" x2="713.35" y2="1120.6"/><line x1="754.20" y1="667.8" x2="754.20" y2="1120.6"/><line x1="795.05" y1="667.8" x2="795.05" y2="1120.6"/><line x1="835.90" y1="667.8" x2="835.90" y2="1120.6"/><line x1="876.75" y1="667.8" x2="876.75" y2="1120.6"/><line x1="581.4" y1="683.80" x2="916.0" y2="683.80"/><line x1="581.4" y1="724.60" x2="916.0" y2="724.60"/><line x1="581.4" y1="765.40" x2="916.0" y2="765.40"/><line x1="581.4" y1="806.20" x2="916.0" y2="806.20"/><line x1="581.4" y1="847.00" x2="916.0" y2="847.00"/><line x1="581.4" y1="887.80" x2="916.0" y2="887.80"/><line x1="581.4" y1="928.60" x2="916.0" y2="928.60"/><line x1="581.4" y1="969.40" x2="916.0" y2="969.40"/><line x1="581.4" y1="1010.20" x2="916.0" y2="1010.20"/><line x1="581.4" y1="1051.00" x2="916.0" y2="1051.00"/><line x1="581.4" y1="1091.80" x2="916.0" y2="1091.80"/></g>
<g stroke="rgba(30,30,30,0.75)" stroke-width="1"><line x1="631.6" y1="667.8" x2="631.6" y2="1120.6"/><line x1="754.2" y1="667.8" x2="754.2" y2="1120.6"/><line x1="581.4" y1="806.2" x2="916" y2="806.2"/><line x1="581.4" y1="928.6" x2="916" y2="928.6"/></g>
<rect x="691.5" y="879.8" width="81" height="81.4" fill="none" stroke="#fffff0" stroke-width="2.3"/>
<text x="750.5" y="720" textLength="155.7" lengthAdjust="spacingAndGlyphs" font-family='"Liberation Sans", sans-serif' font-size="14.8" fill="#1a1000">HJ-1B Minus MODIS</text>
<path d="M614.0,1047 L604.3,1077 L614.0,1065.2 Z" fill="#000"/><path d="M614.0,1047 L623.7,1077 L614.0,1065.2 Z" fill="none" stroke="#000" stroke-width="1.1" stroke-linejoin="miter"/><text x="614.0" y="1040" text-anchor="middle" font-family='"Liberation Sans", sans-serif' font-size="13.5">N</text><rect x="636.9" y="1071.0" width="53.89999999999998" height="3.5" fill="none" stroke="#000" stroke-width="0.8"/><rect x="636.9" y="1071.0" width="26.949999999999932" height="3.5" fill="#000"/><g font-family='"Liberation Sans", sans-serif' font-weight="bold" font-size="8.5" text-anchor="middle" fill="#111"><text x="637.9" y="1067.5">0</text><text x="663.8499999999999" y="1067.5">10</text><text x="690.8" y="1067.5">20</text><text x="663.8499999999999" y="1084.5">Kilometers</text></g>
</g>
<rect x="581.4" y="667.8" width="334.60" height="452.80" fill="none" stroke="#3a3a20" stroke-width="1"/>
<g stroke="#222" stroke-width="1.1"><line x1="590.80" y1="663.30" x2="590.80" y2="667.80"/><line x1="590.80" y1="1120.60" x2="590.80" y2="1125.10"/><line x1="631.65" y1="663.30" x2="631.65" y2="667.80"/><line x1="631.65" y1="1120.60" x2="631.65" y2="1125.10"/><line x1="672.50" y1="663.30" x2="672.50" y2="667.80"/><line x1="672.50" y1="1120.60" x2="672.50" y2="1125.10"/><line x1="713.35" y1="663.30" x2="713.35" y2="667.80"/><line x1="713.35" y1="1120.60" x2="713.35" y2="1125.10"/><line x1="754.20" y1="663.30" x2="754.20" y2="667.80"/><line x1="754.20" y1="1120.60" x2="754.20" y2="1125.10"/><line x1="795.05" y1="663.30" x2="795.05" y2="667.80"/><line x1="795.05" y1="1120.60" x2="795.05" y2="1125.10"/><line x1="835.90" y1="663.30" x2="835.90" y2="667.80"/><line x1="835.90" y1="1120.60" x2="835.90" y2="1125.10"/><line x1="876.75" y1="663.30" x2="876.75" y2="667.80"/><line x1="876.75" y1="1120.60" x2="876.75" y2="1125.10"/><line x1="576.90" y1="683.80" x2="581.40" y2="683.80"/><line x1="916.00" y1="683.80" x2="920.50" y2="683.80"/><line x1="576.90" y1="724.60" x2="581.40" y2="724.60"/><line x1="916.00" y1="724.60" x2="920.50" y2="724.60"/><line x1="576.90" y1="765.40" x2="581.40" y2="765.40"/><line x1="916.00" y1="765.40" x2="920.50" y2="765.40"/><line x1="576.90" y1="806.20" x2="581.40" y2="806.20"/><line x1="916.00" y1="806.20" x2="920.50" y2="806.20"/><line x1="576.90" y1="847.00" x2="581.40" y2="847.00"/><line x1="916.00" y1="847.00" x2="920.50" y2="847.00"/><line x1="576.90" y1="887.80" x2="581.40" y2="887.80"/><line x1="916.00" y1="887.80" x2="920.50" y2="887.80"/><line x1="576.90" y1="928.60" x2="581.40" y2="928.60"/><line x1="916.00" y1="928.60" x2="920.50" y2="928.60"/><line x1="576.90" y1="969.40" x2="581.40" y2="969.40"/><line x1="916.00" y1="969.40" x2="920.50" y2="969.40"/><line x1="576.90" y1="1010.20" x2="581.40" y2="1010.20"/><line x1="916.00" y1="1010.20" x2="920.50" y2="1010.20"/><line x1="576.90" y1="1051.00" x2="581.40" y2="1051.00"/><line x1="916.00" y1="1051.00" x2="920.50" y2="1051.00"/><line x1="576.90" y1="1091.80" x2="581.40" y2="1091.80"/><line x1="916.00" y1="1091.80" x2="920.50" y2="1091.80"/></g><g font-family='"Liberation Sans", sans-serif' font-weight="bold" font-size="16.5" text-anchor="middle" fill="#111"><text x="590.80" y="658.80">570000</text><text x="590.80" y="1139.91">570000</text><text x="672.50" y="658.80">600000</text><text x="672.50" y="1139.91">600000</text><text x="754.20" y="658.80">630000</text><text x="754.20" y="1139.91">630000</text><text x="835.90" y="658.80">660000</text><text x="835.90" y="1139.91">660000</text><text transform="translate(936.12,683.80) rotate(-90)">4390000</text><text transform="translate(572.90,724.60) rotate(-90)">4375000</text><text transform="translate(936.12,765.40) rotate(-90)">4360000</text><text transform="translate(572.90,806.20) rotate(-90)">4345000</text><text transform="translate(936.12,847.00) rotate(-90)">4330000</text><text transform="translate(572.90,887.80) rotate(-90)">4315000</text><text transform="translate(936.12,928.60) rotate(-90)">4300000</text><text transform="translate(572.90,969.40) rotate(-90)">4285000</text><text transform="translate(936.12,1010.20) rotate(-90)">4270000</text><text transform="translate(572.90,1051.00) rotate(-90)">4255000</text><text transform="translate(936.12,1091.80) rotate(-90)">4240000</text></g>
<clipPath id="clip_m4"><rect x="133.0" y="1281.6" width="351.60" height="475.00"/></clipPath>
<g clip-path="url(#clip_m4)">
<rect x="133.0" y="1281.6" width="351.6" height="475.0" fill="#b0f060"/>
<g filter="url(#blur_m4)"><rect x="121.2" y="1277.2" width="22.1" height="22.0" fill="rgb(255, 248, 0)"/><rect x="142.7" y="1277.2" width="22.1" height="22.0" fill="rgb(226, 255, 40)"/><rect x="164.2" y="1277.2" width="22.1" height="22.0" fill="rgb(226, 255, 40)"/><rect x="185.7" y="1277.2" width="22.1" height="22.0" fill="rgb(255, 248, 0)"/><rect x="207.2" y="1277.2" width="22.1" height="22.0" fill="rgb(255, 248, 0)"/><rect x="228.7" y="1277.2" width="22.1" height="22.0" fill="rgb(255, 248, 0)"/><rect x="250.2" y="1277.2" width="22.1" height="22.0" fill="rgb(255, 248, 0)"/><rect x="271.7" y="1277.2" width="22.1" height="22.0" fill="rgb(226, 255, 40)"/><rect x="293.2" y="1277.2" width="22.1" height="22.0" fill="rgb(226, 255, 40)"/><rect x="314.7" y="1277.2" width="22.1" height="22.0" fill="rgb(226, 255, 40)"/><rect x="336.2" y="1277.2" width="22.1" height="22.0" fill="rgb(255, 248, 0)"/><rect x="357.7" y="1277.2" width="22.1" height="22.0" fill="rgb(226, 255, 40)"/><rect x="379.2" y="1277.2" width="22.1" height="22.0" fill="rgb(226, 255, 40)"/><rect x="400.7" y="1277.2" width="22.1" height="22.0" fill="rgb(255, 248, 0)"/><rect x="422.2" y="1277.2" width="22.1" height="22.0" fill="rgb(255, 248, 0)"/><rect x="443.7" y="1277.2" width="22.1" height="22.0" fill="rgb(226, 255, 40)"/><rect x="465.2" y="1277.2" width="22.1" height="22.0" fill="rgb(255, 248, 0)"/><rect x="121.2" y="1298.6" width="22.1" height="22.0" fill="rgb(255, 248, 0)"/><rect x="142.7" y="1298.6" width="22.1" height="22.0" fill="rgb(255, 248, 0)"/><rect x="164.2" y="1298.6" width="22.1" height="22.0" fill="rgb(255, 248, 0)"/><rect x="185.7" y="1298.6" width="22.1" height="22.0" fill="rgb(226, 255, 40)"/><rect x="207.2" y="1298.6" width="22.1" height="22.0" fill="rgb(255, 248, 0)"/><rect x="228.7" y="1298.6" width="22.1" height="22.0" fill="rgb(226, 255, 40)"/><rect x="250.2" y="1298.6" width="22.1" height="22.0" fill="rgb(226, 255, 40)"/><rect x="271.7" y="1298.6" width="22.1" height="22.0" fill="rgb(192, 255, 88)"/><rect x="293.2" y="1298.6" width="22.1" height="22.0" fill="rgb(192, 255, 88)"/><rect x="314.7" y="1298.6" width="22.1" height="22.0" fill="rgb(226, 255, 40)"/><rect x="336.2" y="1298.6" width="22.1" height="22.0" fill="rgb(226, 255, 40)"/><rect x="357.7" y="1298.6" width="22.1" height="22.0" fill="rgb(226, 255, 40)"/><rect x="379.2" y="1298.6" width="22.1" height="22.0" fill="rgb(226, 255, 40)"/><rect x="400.7" y="1298.6" width="22.1" height="22.0" fill="rgb(226, 255, 40)"/><rect x="422.2" y="1298.6" width="22.1" height="22.0" fill="rgb(226, 255, 40)"/><rect x="443.7" y="1298.6" width="22.1" height="22.0" fill="rgb(192, 255, 88)"/><rect x="465.2" y="1298.6" width="22.1" height="22.0" fill="rgb(192, 255, 88)"/><rect x="121.2" y="1320.0" width="22.1" height="22.0" fill="rgb(255, 248, 0)"/><rect x="142.7" y="1320.0" width="22.1" height="22.0" fill="rgb(255, 248, 0)"/><rect x="164.2" y="1320.0" width="22.1" height="22.0" fill="rgb(255, 248, 0)"/><rect x="185.7" y="1320.0" width="22.1" height="22.0" fill="rgb(255, 248, 0)"/><rect x="207.2" y="1320.0" width="22.1" height="22.0" fill="rgb(255, 248, 0)"/><rect x="228.7" y="1320.0" width="22.1" height="22.0" fill="rgb(226, 255, 40)"/><rect x="250.2" y="1320.0" width="22.1" height="22.0" fill="rgb(226, 255, 40)"/><rect x="271.7" y="1320.0" width="22.1" height="22.0" fill="rgb(192, 255, 88)"/><rect x="293.2" y="1320.0" width="22.1" height="22.0" fill="rgb(226, 255, 40)"/><rect x="314.7" y="1320.0" width="22.1" height="22.0" fill="rgb(226, 255, 40)"/><rect x="336.2" y="1320.0" width="22.1" height="22.0" fill="rgb(226, 255, 40)"/><rect x="357.7" y="1320.0" width="22.1" height="22.0" fill="rgb(226, 255, 40)"/><rect x="379.2" y="1320.0" width="22.1" height="22.0" fill="rgb(226, 255, 40)"/><rect x="400.7" y="1320.0" width="22.1" height="22.0" fill="rgb(192, 255, 88)"/><rect x="422.2" y="1320.0" width="22.1" height="22.0" fill="rgb(192, 255, 88)"/><rect x="443.7" y="1320.0" width="22.1" height="22.0" fill="rgb(192, 255, 88)"/><rect x="465.2" y="1320.0" width="22.1" height="22.0" fill="rgb(192, 255, 88)"/><rect x="121.2" y="1341.4" width="22.1" height="22.0" fill="rgb(255, 248, 0)"/><rect x="142.7" y="1341.4" width="22.1" height="22.0" fill="rgb(255, 248, 0)"/><rect x="164.2" y="1341.4" width="22.1" height="22.0" fill="rgb(255, 248, 0)"/><rect x="185.7" y="1341.4" width="22.1" height="22.0" fill="rgb(255, 248, 0)"/><rect x="207.2" y="1341.4" width="22.1" height="22.0" fill="rgb(255, 248, 0)"/><rect x="228.7" y="1341.4" width="22.1" height="22.0" fill="rgb(255, 248, 0)"/><rect x="250.2" y="1341.4" width="22.1" height="22.0" fill="rgb(226, 255, 40)"/><rect x="271.7" y="1341.4" width="22.1" height="22.0" fill="rgb(226, 255, 40)"/><rect x="293.2" y="1341.4" width="22.1" height="22.0" fill="rgb(226, 255, 40)"/><rect x="314.7" y="1341.4" width="22.1" height="22.0" fill="rgb(226, 255, 40)"/><rect x="336.2" y="1341.4" width="22.1" height="22.0" fill="rgb(226, 255, 40)"/><rect x="357.7" y="1341.4" width="22.1" height="22.0" fill="rgb(192, 255, 88)"/><rect x="379.2" y="1341.4" width="22.1" height="22.0" fill="rgb(192, 255, 88)"/><rect x="400.7" y="1341.4" width="22.1" height="22.0" fill="rgb(192, 255, 88)"/><rect x="422.2" y="1341.4" width="22.1" height="22.0" fill="rgb(140, 252, 150)"/><rect x="443.7" y="1341.4" width="22.1" height="22.0" fill="rgb(140, 252, 150)"/><rect x="465.2" y="1341.4" width="22.1" height="22.0" fill="rgb(140, 252, 150)"/><rect x="121.2" y="1362.8" width="22.1" height="22.0" fill="rgb(255, 248, 0)"/><rect x="142.7" y="1362.8" width="22.1" height="22.0" fill="rgb(255, 248, 0)"/><rect x="164.2" y="1362.8" width="22.1" height="22.0" fill="rgb(255, 248, 0)"/><rect x="185.7" y="1362.8" width="22.1" height="22.0" fill="rgb(255, 248, 0)"/><rect x="207.2" y="1362.8" width="22.1" height="22.0" fill="rgb(255, 248, 0)"/><rect x="228.7" y="1362.8" width="22.1" height="22.0" fill="rgb(255, 248, 0)"/><rect x="250.2" y="1362.8" width="22.1" height="22.0" fill="rgb(226, 255, 40)"/><rect x="271.7" y="1362.8" width="22.1" height="22.0" fill="rgb(226, 255, 40)"/><rect x="293.2" y="1362.8" width="22.1" height="22.0" fill="rgb(226, 255, 40)"/><rect x="314.7" y="1362.8" width="22.1" height="22.0" fill="rgb(255, 248, 0)"/><rect x="336.2" y="1362.8" width="22.1" height="22.0" fill="rgb(226, 255, 40)"/><rect x="357.7" y="1362.8" width="22.1" height="22.0" fill="rgb(192, 255, 88)"/><rect x="379.2" y="1362.8" width="22.1" height="22.0" fill="rgb(192, 255, 88)"/><rect x="400.7" y="1362.8" width="22.1" height="22.0" fill="rgb(192, 255, 88)"/><rect x="422.2" y="1362.8" width="22.1" height="22.0" fill="rgb(140, 252, 150)"/><rect x="443.7" y="1362.8" width="22.1" height="22.0" fill="rgb(140, 252, 150)"/><rect x="465.2" y="1362.8" width="22.1" height="22.0" fill="rgb(140, 252, 150)"/><rect x="121.2" y="1384.3" width="22.1" height="22.0" fill="rgb(60, 248, 188)"/><rect x="142.7" y="1384.3" width="22.1" height="22.0" fill="rgb(60, 248, 188)"/><rect x="164.2" y="1384.3" width="22.1" height="22.0" fill="rgb(60, 248, 188)"/><rect x="185.7" y="1384.3" width="22.1" height="22.0" fill="rgb(60, 248, 188)"/><rect x="207.2" y="1384.3" width="22.1" height="22.0" fill="rgb(226, 255, 40)"/><rect x="228.7" y="1384.3" width="22.1" height="22.0" fill="rgb(60, 248, 188)"/><rect x="250.2" y="1384.3" width="22.1" height="22.0" fill="rgb(226, 255, 40)"/><rect x="271.7" y="1384.3" width="22.1" height="22.0" fill="rgb(226, 255, 40)"/><rect x="293.2" y="1384.3" width="22.1" height="22.0" fill="rgb(255, 248, 0)"/><rect x="314.7" y="1384.3" width="22.1" height="22.0" fill="rgb(226, 255, 40)"/><rect x="336.2" y="1384.3" width="22.1" height="22.0" fill="rgb(226, 255, 40)"/><rect x="357.7" y="1384.3" width="22.1" height="22.0" fill="rgb(226, 255, 40)"/><rect x="379.2" y="1384.3" width="22.1" height="22.0" fill="rgb(226, 255, 40)"/><rect x="400.7" y="1384.3" width="22.1" height="22.0" fill="rgb(226, 255, 40)"/><rect x="422.2" y="1384.3" width="22.1" height="22.0" fill="rgb(192, 255, 88)"/><rect x="443.7" y="1384.3" width="22.1" height="22.0" fill="rgb(192, 255, 88)"/><rect x="465.2" y="1384.3" width="22.1" height="22.0" fill="rgb(140, 252, 150)"/><rect x="121.2" y="1405.7" width="22.1" height="22.0" fill="rgb(60, 248, 188)"/><rect x="142.7" y="1405.7" width="22.1" height="22.0" fill="rgb(192, 255, 88)"/><rect x="164.2" y="1405.7" width="22.1" height="22.0" fill="rgb(192, 255, 88)"/><rect x="185.7" y="1405.7" width="22.1" height="22.0" fill="rgb(60, 248, 188)"/><rect x="207.2" y="1405.7" width="22.1" height="22.0" fill="rgb(192, 255, 88)"/><rect x="228.7" y="1405.7" width="22.1" height="22.0" fill="rgb(60, 248, 188)"/><rect x="250.2" y="1405.7" width="22.1" height="22.0" fill="rgb(226, 255, 40)"/><rect x="271.7" y="1405.7" width="22.1" height="22.0" fill="rgb(226, 255, 40)"/><rect x="293.2" y="1405.7" width="22.1" height="22.0" fill="rgb(226, 255, 40)"/><rect x="314.7" y="1405.7" width="22.1" height="22.0" fill="rgb(226, 255, 40)"/><rect x="336.2" y="1405.7" width="22.1" height="22.0" fill="rgb(226, 255, 40)"/><rect x="357.7" y="1405.7" width="22.1" height="22.0" fill="rgb(192, 255, 88)"/><rect x="379.2" y="1405.7" width="22.1" height="22.0" fill="rgb(192, 255, 88)"/><rect x="400.7" y="1405.7" width="22.1" height="22.0" fill="rgb(192, 255, 88)"/><rect x="422.2" y="1405.7" width="22.1" height="22.0" fill="rgb(192, 255, 88)"/><rect x="443.7" y="1405.7" width="22.1" height="22.0" fill="rgb(192, 255, 88)"/><rect x="465.2" y="1405.7" width="22.1" height="22.0" fill="rgb(140, 252, 150)"/><rect x="121.2" y="1427.1" width="22.1" height="22.0" fill="rgb(226, 255, 40)"/><rect x="142.7" y="1427.1" width="22.1" height="22.0" fill="rgb(192, 255, 88)"/><rect x="164.2" y="1427.1" width="22.1" height="22.0" fill="rgb(192, 255, 88)"/><rect x="185.7" y="1427.1" width="22.1" height="22.0" fill="rgb(60, 248, 188)"/><rect x="207.2" y="1427.1" width="22.1" height="22.0" fill="rgb(60, 248, 188)"/><rect x="228.7" y="1427.1" width="22.1" height="22.0" fill="rgb(60, 248, 188)"/><rect x="250.2" y="1427.1" width="22.1" height="22.0" fill="rgb(60, 248, 188)"/><rect x="271.7" y="1427.1" width="22.1" height="22.0" fill="rgb(226, 255, 40)"/><rect x="293.2" y="1427.1" width="22.1" height="22.0" fill="rgb(226, 255, 40)"/><rect x="314.7" y="1427.1" width="22.1" height="22.0" fill="rgb(226, 255, 40)"/><rect x="336.2" y="1427.1" width="22.1" height="22.0" fill="rgb(192, 255, 88)"/><rect x="357.7" y="1427.1" width="22.1" height="22.0" fill="rgb(192, 255, 88)"/><rect x="379.2" y="1427.1" width="22.1" height="22.0" fill="rgb(140, 252, 150)"/><rect x="400.7" y="1427.1" width="22.1" height="22.0" fill="rgb(140, 252, 150)"/><rect x="422.2" y="1427.1" width="22.1" height="22.0" fill="rgb(140, 252, 150)"/><rect x="443.7" y="1427.1" width="22.1" height="22.0" fill="rgb(192, 255, 88)"/><rect x="465.2" y="1427.1" width="22.1" height="22.0" fill="rgb(140, 252, 150)"/><rect x="121.2" y="1448.5" width="22.1" height="22.0" fill="rgb(192, 255, 88)"/><rect x="142.7" y="1448.5" width="22.1" height="22.0" fill="rgb(192, 255, 88)"/><rect x="164.2" y="1448.5" width="22.1" height="22.0" fill="rgb(255, 248, 0)"/><rect x="185.7" y="1448.5" width="22.1" height="22.0" fill="rgb(255, 248, 0)"/><rect x="207.2" y="1448.5" width="22.1" height="22.0" fill="rgb(192, 255, 88)"/><rect x="228.7" y="1448.5" width="22.1" height="22.0" fill="rgb(60, 248, 188)"/><rect x="250.2" y="1448.5" width="22.1" height="22.0" fill="rgb(60, 248, 188)"/><rect x="271.7" y="1448.5" width="22.1" height="22.0" fill="rgb(60, 248, 188)"/><rect x="293.2" y="1448.5" width="22.1" height="22.0" fill="rgb(255, 248, 0)"/><rect x="314.7" y="1448.5" width="22.1" height="22.0" fill="rgb(226, 255, 40)"/><rect x="336.2" y="1448.5" width="22.1" height="22.0" fill="rgb(192, 255, 88)"/><rect x="357.7" y="1448.5" width="22.1" height="22.0" fill="rgb(192, 255, 88)"/><rect x="379.2" y="1448.5" width="22.1" height="22.0" fill="rgb(140, 252, 150)"/><rect x="400.7" y="1448.5" width="22.1" height="22.0" fill="rgb(60, 248, 188)"/><rect x="422.2" y="1448.5" width="22.1" height="22.0" fill="rgb(60, 248, 188)"/><rect x="443.7" y="1448.5" width="22.1" height="22.0" fill="rgb(140, 252, 150)"/><rect x="465.2" y="1448.5" width="22.1" height="22.0" fill="rgb(140, 252, 150)"/><rect x="121.2" y="1469.9" width="22.1" height="22.0" fill="rgb(226, 255, 40)"/><rect x="142.7" y="1469.9" width="22.1" height="22.0" fill="rgb(192, 255, 88)"/><rect x="164.2" y="1469.9" width="22.1" height="22.0" fill="rgb(226, 255, 40)"/><rect x="185.7" y="1469.9" width="22.1" height="22.0" fill="rgb(255, 248, 0)"/><rect x="207.2" y="1469.9" width="22.1" height="22.0" fill="rgb(60, 248, 188)"/><rect x="228.7" y="1469.9" width="22.1" height="22.0" fill="rgb(192, 255, 88)"/><rect x="250.2" y="1469.9" width="22.1" height="22.0" fill="rgb(60, 248, 188)"/><rect x="271.7" y="1469.9" width="22.1" height="22.0" fill="rgb(60, 248, 188)"/><rect x="293.2" y="1469.9" width="22.1" height="22.0" fill="rgb(226, 255, 40)"/><rect x="314.7" y="1469.9" width="22.1" height="22.0" fill="rgb(226, 255, 40)"/><rect x="336.2" y="1469.9" width="22.1" height="22.0" fill="rgb(192, 255, 88)"/><rect x="357.7" y="1469.9" width="22.1" height="22.0" fill="rgb(60, 248, 188)"/><rect x="379.2" y="1469.9" width="22.1" height="22.0" fill="rgb(60, 248, 188)"/><rect x="400.7" y="1469.9" width="22.1" height="22.0" fill="rgb(60, 248, 188)"/><rect x="422.2" y="1469.9" width="22.1" height="22.0" fill="rgb(60, 248, 188)"/><rect x="443.7" y="1469.9" width="22.1" height="22.0" fill="rgb(140, 252, 150)"/><rect x="465.2" y="1469.9" width="22.1" height="22.0" fill="rgb(140, 252, 150)"/><rect x="121.2" y="1491.3" width="22.1" height="22.0" fill="rgb(226, 255, 40)"/><rect x="142.7" y="1491.3" width="22.1" height="22.0" fill="rgb(226, 255, 40)"/><rect x="164.2" y="1491.3" width="22.1" height="22.0" fill="rgb(226, 255, 40)"/><rect x="185.7" y="1491.3" width="22.1" height="22.0" fill="rgb(192, 255, 88)"/><rect x="207.2" y="1491.3" width="22.1" height="22.0" fill="rgb(192, 255, 88)"/><rect x="228.7" y="1491.3" width="22.1" height="22.0" fill="rgb(226, 255, 40)"/><rect x="250.2" y="1491.3" width="22.1" height="22.0" fill="rgb(60, 248, 188)"/><rect x="271.7" y="1491.3" width="22.1" height="22.0" fill="rgb(60, 248, 188)"/><rect x="293.2" y="1491.3" width="22.1" height="22.0" fill="rgb(60, 248, 188)"/><rect x="314.7" y="1491.3" width="22.1" height="22.0" fill="rgb(60, 248, 188)"/><rect x="336.2" y="1491.3" width="22.1" height="22.0" fill="rgb(226, 255, 40)"/><rect x="357.7" y="1491.3" width="22.1" height="22.0" fill="rgb(0, 244, 228)"/><rect x="379.2" y="1491.3" width="22.1" height="22.0" fill="rgb(60, 248, 188)"/><rect x="400.7" y="1491.3" width="22.1" height="22.0" fill="rgb(60, 248, 188)"/><rect x="422.2" y="1491.3" width="22.1" height="22.0" fill="rgb(140, 252, 150)"/><rect x="443.7" y="1491.3" width="22.1" height="22.0" fill="rgb(140, 252, 150)"/><rect x="465.2" y="1491.3" width="22.1" height="22.0" fill="rgb(140, 252, 150)"/><rect x="121.2" y="1512.8" width="22.1" height="22.0" fill="rgb(226, 255, 40)"/><rect x="142.7" y="1512.8" width="22.1" height="22.0" fill="rgb(192, 255, 88)"/><rect x="164.2" y="1512.8" width="22.1" height="22.0" fill="rgb(192, 255, 88)"/><rect x="185.7" y="1512.8" width="22.1" height="22.0" fill="rgb(192, 255, 88)"/><rect x="207.2" y="1512.8" width="22.1" height="22.0" fill="rgb(60, 248, 188)"/><rect x="228.7" y="1512.8" width="22.1" height="22.0" fill="rgb(60, 248, 188)"/><rect x="250.2" y="1512.8" width="22.1" height="22.0" fill="rgb(192, 255, 88)"/><rect x="271.7" y="1512.8" width="22.1" height="22.0" fill="rgb(192, 255, 88)"/><rect x="293.2" y="1512.8" width="22.1" height="22.0" fill="rgb(60, 248, 188)"/><rect x="314.7" y="1512.8" width="22.1" height="22.0" fill="rgb(60, 248, 188)"/><rect x="336.2" y="1512.8" width="22.1" height="22.0" fill="rgb(60, 248, 188)"/><rect x="357.7" y="1512.8" width="22.1" height="22.0" fill="rgb(192, 255, 88)"/><rect x="379.2" y="1512.8" width="22.1" height="22.0" fill="rgb(140, 252, 150)"/><rect x="400.7" y="1512.8" width="22.1" height="22.0" fill="rgb(60, 248, 188)"/><rect x="422.2" y="1512.8" width="22.1" height="22.0" fill="rgb(60, 248, 188)"/><rect x="443.7" y="1512.8" width="22.1" height="22.0" fill="rgb(60, 248, 188)"/><rect x="465.2" y="1512.8" width="22.1" height="22.0" fill="rgb(60, 248, 188)"/><rect x="121.2" y="1534.2" width="22.1" height="22.0" fill="rgb(192, 255, 88)"/><rect x="142.7" y="1534.2" width="22.1" height="22.0" fill="rgb(192, 255, 88)"/><rect x="164.2" y="1534.2" width="22.1" height="22.0" fill="rgb(60, 248, 188)"/><rect x="185.7" y="1534.2" width="22.1" height="22.0" fill="rgb(192, 255, 88)"/><rect x="207.2" y="1534.2" width="22.1" height="22.0" fill="rgb(192, 255, 88)"/><rect x="228.7" y="1534.2" width="22.1" height="22.0" fill="rgb(60, 248, 188)"/><rect x="250.2" y="1534.2" width="22.1" height="22.0" fill="rgb(226, 255, 40)"/><rect x="271.7" y="1534.2" width="22.1" height="22.0" fill="rgb(60, 248, 188)"/><rect x="293.2" y="1534.2" width="22.1" height="22.0" fill="rgb(60, 248, 188)"/><rect x="314.7" y="1534.2" width="22.1" height="22.0" fill="rgb(60, 248, 188)"/><rect x="336.2" y="1534.2" width="22.1" height="22.0" fill="rgb(60, 248, 188)"/><rect x="357.7" y="1534.2" width="22.1" height="22.0" fill="rgb(192, 255, 88)"/><rect x="379.2" y="1534.2" width="22.1" height="22.0" fill="rgb(140, 252, 150)"/><rect x="400.7" y="1534.2" width="22.1" height="22.0" fill="rgb(140, 252, 150)"/><rect x="422.2" y="1534.2" width="22.1" height="22.0" fill="rgb(140, 252, 150)"/><rect x="443.7" y="1534.2" width="22.1" height="22.0" fill="rgb(60, 248, 188)"/><rect x="465.2" y="1534.2" width="22.1" height="22.0" fill="rgb(60, 248, 188)"/><rect x="121.2" y="1555.6" width="22.1" height="22.0" fill="rgb(0, 244, 228)"/><rect x="142.7" y="1555.6" width="22.1" height="22.0" fill="rgb(0, 244, 228)"/><rect x="164.2" y="1555.6" width="22.1" height="22.0" fill="rgb(0, 222, 252)"/><rect x="185.7" y="1555.6" width="22.1" height="22.0" fill="rgb(0, 244, 228)"/><rect x="207.2" y="1555.6" width="22.1" height="22.0" fill="rgb(60, 248, 188)"/><rect x="228.7" y="1555.6" width="22.1" height="22.0" fill="rgb(60, 248, 188)"/><rect x="250.2" y="1555.6" width="22.1" height="22.0" fill="rgb(60, 248, 188)"/><rect x="271.7" y="1555.6" width="22.1" height="22.0" fill="rgb(60, 248, 188)"/><rect x="293.2" y="1555.6" width="22.1" height="22.0" fill="rgb(60, 248, 188)"/><rect x="314.7" y="1555.6" width="22.1" height="22.0" fill="rgb(192, 255, 88)"/><rect x="336.2" y="1555.6" width="22.1" height="22.0" fill="rgb(192, 255, 88)"/><rect x="357.7" y="1555.6" width="22.1" height="22.0" fill="rgb(192, 255, 88)"/><rect x="379.2" y="1555.6" width="22.1" height="22.0" fill="rgb(192, 255, 88)"/><rect x="400.7" y="1555.6" width="22.1" height="22.0" fill="rgb(140, 252, 150)"/><rect x="422.2" y="1555.6" width="22.1" height="22.0" fill="rgb(140, 252, 150)"/><rect x="443.7" y="1555.6" width="22.1" height="22.0" fill="rgb(140, 252, 150)"/><rect x="465.2" y="1555.6" width="22.1" height="22.0" fill="rgb(140, 252, 150)"/><rect x="121.2" y="1577.0" width="22.1" height="22.0" fill="rgb(0, 222, 252)"/><rect x="142.7" y="1577.0" width="22.1" height="22.0" fill="rgb(0, 222, 252)"/><rect x="164.2" y="1577.0" width="22.1" height="22.0" fill="rgb(0, 222, 252)"/><rect x="185.7" y="1577.0" width="22.1" height="22.0" fill="rgb(0, 244, 228)"/><rect x="207.2" y="1577.0" width="22.1" height="22.0" fill="rgb(60, 248, 188)"/><rect x="228.7" y="1577.0" width="22.1" height="22.0" fill="rgb(60, 248, 188)"/><rect x="250.2" y="1577.0" width="22.1" height="22.0" fill="rgb(192, 255, 88)"/><rect x="271.7" y="1577.0" width="22.1" height="22.0" fill="rgb(60, 248, 188)"/><rect x="293.2" y="1577.0" width="22.1" height="22.0" fill="rgb(60, 248, 188)"/><rect x="314.7" y="1577.0" width="22.1" height="22.0" fill="rgb(226, 255, 40)"/><rect x="336.2" y="1577.0" width="22.1" height="22.0" fill="rgb(192, 255, 88)"/><rect x="357.7" y="1577.0" width="22.1" height="22.0" fill="rgb(192, 255, 88)"/><rect x="379.2" y="1577.0" width="22.1" height="22.0" fill="rgb(192, 255, 88)"/><rect x="400.7" y="1577.0" width="22.1" height="22.0" fill="rgb(140, 252, 150)"/><rect x="422.2" y="1577.0" width="22.1" height="22.0" fill="rgb(140, 252, 150)"/><rect x="443.7" y="1577.0" width="22.1" height="22.0" fill="rgb(140, 252, 150)"/><rect x="465.2" y="1577.0" width="22.1" height="22.0" fill="rgb(140, 252, 150)"/><rect x="121.2" y="1598.4" width="22.1" height="22.0" fill="rgb(0, 222, 252)"/><rect x="142.7" y="1598.4" width="22.1" height="22.0" fill="rgb(0, 222, 252)"/><rect x="164.2" y="1598.4" width="22.1" height="22.0" fill="rgb(0, 222, 252)"/><rect x="185.7" y="1598.4" width="22.1" height="22.0" fill="rgb(0, 244, 228)"/><rect x="207.2" y="1598.4" width="22.1" height="22.0" fill="rgb(0, 244, 228)"/><rect x="228.7" y="1598.4" width="22.1" height="22.0" fill="rgb(60, 248, 188)"/><rect x="250.2" y="1598.4" width="22.1" height="22.0" fill="rgb(192, 255, 88)"/><rect x="271.7" y="1598.4" width="22.1" height="22.0" fill="rgb(192, 255, 88)"/><rect x="293.2" y="1598.4" width="22.1" height="22.0" fill="rgb(192, 255, 88)"/><rect x="314.7" y="1598.4" width="22.1" height="22.0" fill="rgb(60, 248, 188)"/><rect x="336.2" y="1598.4" width="22.1" height="22.0" fill="rgb(60, 248, 188)"/><rect x="357.7" y="1598.4" width="22.1" height="22.0" fill="rgb(60, 248, 188)"/><rect x="379.2" y="1598.4" width="22.1" height="22.0" fill="rgb(60, 248, 188)"/><rect x="400.7" y="1598.4" width="22.1" height="22.0" fill="rgb(140, 252, 150)"/><rect x="422.2" y="1598.4" width="22.1" height="22.0" fill="rgb(140, 252, 150)"/><rect x="443.7" y="1598.4" width="22.1" height="22.0" fill="rgb(140, 252, 150)"/><rect x="465.2" y="1598.4" width="22.1" height="22.0" fill="rgb(140, 252, 150)"/><rect x="121.2" y="1619.8" width="22.1" height="22.0" fill="rgb(0, 244, 228)"/><rect x="142.7" y="1619.8" width="22.1" height="22.0" fill="rgb(0, 222, 252)"/><rect x="164.2" y="1619.8" width="22.1" height="22.0" fill="rgb(0, 244, 228)"/><rect x="185.7" y="1619.8" width="22.1" height="22.0" fill="rgb(0, 244, 228)"/><rect x="207.2" y="1619.8" width="22.1" height="22.0" fill="rgb(0, 222, 252)"/><rect x="228.7" y="1619.8" width="22.1" height="22.0" fill="rgb(0, 244, 228)"/><rect x="250.2" y="1619.8" width="22.1" height="22.0" fill="rgb(0, 244, 228)"/><rect x="271.7" y="1619.8" width="22.1" height="22.0" fill="rgb(60, 248, 188)"/><rect x="293.2" y="1619.8" width="22.1" height="22.0" fill="rgb(192, 255, 88)"/><rect x="314.7" y="1619.8" width="22.1" height="22.0" fill="rgb(192, 255, 88)"/><rect x="336.2" y="1619.8" width="22.1" height="22.0" fill="rgb(60, 248, 188)"/><rect x="357.7" y="1619.8" width="22.1" height="22.0" fill="rgb(192, 255, 88)"/><rect x="379.2" y="1619.8" width="22.1" height="22.0" fill="rgb(60, 248, 188)"/><rect x="400.7" y="1619.8" width="22.1" height="22.0" fill="rgb(140, 252, 150)"/><rect x="422.2" y="1619.8" width="22.1" height="22.0" fill="rgb(140, 252, 150)"/><rect x="443.7" y="1619.8" width="22.1" height="22.0" fill="rgb(140, 252, 150)"/><rect x="465.2" y="1619.8" width="22.1" height="22.0" fill="rgb(140, 252, 150)"/><rect x="121.2" y="1641.2" width="22.1" height="22.0" fill="rgb(0, 222, 252)"/><rect x="142.7" y="1641.2" width="22.1" height="22.0" fill="rgb(0, 222, 252)"/><rect x="164.2" y="1641.2" width="22.1" height="22.0" fill="rgb(0, 222, 252)"/><rect x="185.7" y="1641.2" width="22.1" height="22.0" fill="rgb(0, 244, 228)"/><rect x="207.2" y="1641.2" width="22.1" height="22.0" fill="rgb(0, 222, 252)"/><rect x="228.7" y="1641.2" width="22.1" height="22.0" fill="rgb(0, 222, 252)"/><rect x="250.2" y="1641.2" width="22.1" height="22.0" fill="rgb(0, 222, 252)"/><rect x="271.7" y="1641.2" width="22.1" height="22.0" fill="rgb(0, 244, 228)"/><rect x="293.2" y="1641.2" width="22.1" height="22.0" fill="rgb(60, 248, 188)"/><rect x="314.7" y="1641.2" width="22.1" height="22.0" fill="rgb(60, 248, 188)"/><rect x="336.2" y="1641.2" width="22.1" height="22.0" fill="rgb(60, 248, 188)"/><rect x="357.7" y="1641.2" width="22.1" height="22.0" fill="rgb(60, 248, 188)"/><rect x="379.2" y="1641.2" width="22.1" height="22.0" fill="rgb(60, 248, 188)"/><rect x="400.7" y="1641.2" width="22.1" height="22.0" fill="rgb(140, 252, 150)"/><rect x="422.2" y="1641.2" width="22.1" height="22.0" fill="rgb(140, 252, 150)"/><rect x="443.7" y="1641.2" width="22.1" height="22.0" fill="rgb(140, 252, 150)"/><rect x="465.2" y="1641.2" width="22.1" height="22.0" fill="rgb(60, 248, 188)"/><rect x="121.2" y="1662.7" width="22.1" height="22.0" fill="rgb(0, 222, 252)"/><rect x="142.7" y="1662.7" width="22.1" height="22.0" fill="rgb(0, 222, 252)"/><rect x="164.2" y="1662.7" width="22.1" height="22.0" fill="rgb(0, 222, 252)"/><rect x="185.7" y="1662.7" width="22.1" height="22.0" fill="rgb(0, 222, 252)"/><rect x="207.2" y="1662.7" width="22.1" height="22.0" fill="rgb(0, 222, 252)"/><rect x="228.7" y="1662.7" width="22.1" height="22.0" fill="rgb(0, 222, 252)"/><rect x="250.2" y="1662.7" width="22.1" height="22.0" fill="rgb(0, 178, 255)"/><rect x="271.7" y="1662.7" width="22.1" height="22.0" fill="rgb(0, 222, 252)"/><rect x="293.2" y="1662.7" width="22.1" height="22.0" fill="rgb(0, 244, 228)"/><rect x="314.7" y="1662.7" width="22.1" height="22.0" fill="rgb(60, 248, 188)"/><rect x="336.2" y="1662.7" width="22.1" height="22.0" fill="rgb(60, 248, 188)"/><rect x="357.7" y="1662.7" width="22.1" height="22.0" fill="rgb(60, 248, 188)"/><rect x="379.2" y="1662.7" width="22.1" height="22.0" fill="rgb(60, 248, 188)"/><rect x="400.7" y="1662.7" width="22.1" height="22.0" fill="rgb(60, 248, 188)"/><rect x="422.2" y="1662.7" width="22.1" height="22.0" fill="rgb(140, 252, 150)"/><rect x="443.7" y="1662.7" width="22.1" height="22.0" fill="rgb(140, 252, 150)"/><rect x="465.2" y="1662.7" width="22.1" height="22.0" fill="rgb(60, 248, 188)"/><rect x="121.2" y="1684.1" width="22.1" height="22.0" fill="rgb(0, 178, 255)"/><rect x="142.7" y="1684.1" width="22.1" height="22.0" fill="rgb(0, 178, 255)"/><rect x="164.2" y="1684.1" width="22.1" height="22.0" fill="rgb(0, 222, 252)"/><rect x="185.7" y="1684.1" width="22.1" height="22.0" fill="rgb(0, 222, 252)"/><rect x="207.2" y="1684.1" width="22.1" height="22.0" fill="rgb(0, 222, 252)"/><rect x="228.7" y="1684.1" width="22.1" height="22.0" fill="rgb(0, 222, 252)"/><rect x="250.2" y="1684.1" width="22.1" height="22.0" fill="rgb(0, 132, 255)"/><rect x="271.7" y="1684.1" width="22.1" height="22.0" fill="rgb(0, 132, 255)"/><rect x="293.2" y="1684.1" width="22.1" height="22.0" fill="rgb(0, 178, 255)"/><rect x="314.7" y="1684.1" width="22.1" height="22.0" fill="rgb(0, 222, 252)"/><rect x="336.2" y="1684.1" width="22.1" height="22.0" fill="rgb(0, 222, 252)"/><rect x="357.7" y="1684.1" width="22.1" height="22.0" fill="rgb(0, 244, 228)"/><rect x="379.2" y="1684.1" width="22.1" height="22.0" fill="rgb(0, 244, 228)"/><rect x="400.7" y="1684.1" width="22.1" height="22.0" fill="rgb(0, 244, 228)"/><rect x="422.2" y="1684.1" width="22.1" height="22.0" fill="rgb(60, 248, 188)"/><rect x="443.7" y="1684.1" width="22.1" height="22.0" fill="rgb(60, 248, 188)"/><rect x="465.2" y="1684.1" width="22.1" height="22.0" fill="rgb(60, 248, 188)"/><rect x="121.2" y="1705.5" width="22.1" height="22.0" fill="rgb(0, 222, 252)"/><rect x="142.7" y="1705.5" width="22.1" height="22.0" fill="rgb(0, 222, 252)"/><rect x="164.2" y="1705.5" width="22.1" height="22.0" fill="rgb(0, 222, 252)"/><rect x="185.7" y="1705.5" width="22.1" height="22.0" fill="rgb(0, 222, 252)"/><rect x="207.2" y="1705.5" width="22.1" height="22.0" fill="rgb(0, 222, 252)"/><rect x="228.7" y="1705.5" width="22.1" height="22.0" fill="rgb(0, 222, 252)"/><rect x="250.2" y="1705.5" width="22.1" height="22.0" fill="rgb(0, 178, 255)"/><rect x="271.7" y="1705.5" width="22.1" height="22.0" fill="rgb(0, 132, 255)"/><rect x="293.2" y="1705.5" width="22.1" height="22.0" fill="rgb(0, 132, 255)"/><rect x="314.7" y="1705.5" width="22.1" height="22.0" fill="rgb(0, 132, 255)"/><rect x="336.2" y="1705.5" width="22.1" height="22.0" fill="rgb(0, 132, 255)"/><rect x="357.7" y="1705.5" width="22.1" height="22.0" fill="rgb(0, 178, 255)"/><rect x="379.2" y="1705.5" width="22.1" height="22.0" fill="rgb(0, 244, 228)"/><rect x="400.7" y="1705.5" width="22.1" height="22.0" fill="rgb(0, 244, 228)"/><rect x="422.2" y="1705.5" width="22.1" height="22.0" fill="rgb(0, 244, 228)"/><rect x="443.7" y="1705.5" width="22.1" height="22.0" fill="rgb(0, 244, 228)"/><rect x="465.2" y="1705.5" width="22.1" height="22.0" fill="rgb(0, 244, 228)"/><rect x="121.2" y="1726.9" width="22.1" height="22.0" fill="rgb(0, 178, 255)"/><rect x="142.7" y="1726.9" width="22.1" height="22.0" fill="rgb(0, 222, 252)"/><rect x="164.2" y="1726.9" width="22.1" height="22.0" fill="rgb(0, 222, 252)"/><rect x="185.7" y="1726.9" width="22.1" height="22.0" fill="rgb(0, 222, 252)"/><rect x="207.2" y="1726.9" width="22.1" height="22.0" fill="rgb(0, 222, 252)"/><rect x="228.7" y="1726.9" width="22.1" height="22.0" fill="rgb(0, 222, 252)"/><rect x="250.2" y="1726.9" width="22.1" height="22.0" fill="rgb(0, 222, 252)"/><rect x="271.7" y="1726.9" width="22.1" height="22.0" fill="rgb(0, 178, 255)"/><rect x="293.2" y="1726.9" width="22.1" height="22.0" fill="rgb(0, 178, 255)"/><rect x="314.7" y="1726.9" width="22.1" height="22.0" fill="rgb(0, 132, 255)"/><rect x="336.2" y="1726.9" width="22.1" height="22.0" fill="rgb(0, 132, 255)"/><rect x="357.7" y="1726.9" width="22.1" height="22.0" fill="rgb(0, 178, 255)"/><rect x="379.2" y="1726.9" width="22.1" height="22.0" fill="rgb(0, 222, 252)"/><rect x="400.7" y="1726.9" width="22.1" height="22.0" fill="rgb(0, 244, 228)"/><rect x="422.2" y="1726.9" width="22.1" height="22.0" fill="rgb(0, 244, 228)"/><rect x="443.7" y="1726.9" width="22.1" height="22.0" fill="rgb(0, 244, 228)"/><rect x="465.2" y="1726.9" width="22.1" height="22.0" fill="rgb(0, 244, 228)"/><rect x="121.2" y="1748.3" width="22.1" height="22.0" fill="rgb(0, 222, 252)"/><rect x="142.7" y="1748.3" width="22.1" height="22.0" fill="rgb(0, 222, 252)"/><rect x="164.2" y="1748.3" width="22.1" height="22.0" fill="rgb(0, 178, 255)"/><rect x="185.7" y="1748.3" width="22.1" height="22.0" fill="rgb(0, 222, 252)"/><rect x="207.2" y="1748.3" width="22.1" height="22.0" fill="rgb(0, 222, 252)"/><rect x="228.7" y="1748.3" width="22.1" height="22.0" fill="rgb(0, 222, 252)"/><rect x="250.2" y="1748.3" width="22.1" height="22.0" fill="rgb(0, 222, 252)"/><rect x="271.7" y="1748.3" width="22.1" height="22.0" fill="rgb(0, 222, 252)"/><rect x="293.2" y="1748.3" width="22.1" height="22.0" fill="rgb(0, 222, 252)"/><rect x="314.7" y="1748.3" width="22.1" height="22.0" fill="rgb(0, 178, 255)"/><rect x="336.2" y="1748.3" width="22.1" height="22.0" fill="rgb(0, 132, 255)"/><rect x="357.7" y="1748.3" width="22.1" height="22.0" fill="rgb(0, 178, 255)"/><rect x="379.2" y="1748.3" width="22.1" height="22.0" fill="rgb(0, 132, 255)"/><rect x="400.7" y="1748.3" width="22.1" height="22.0" fill="rgb(0, 178, 255)"/><rect x="422.2" y="1748.3" width="22.1" height="22.0" fill="rgb(0, 222, 252)"/><rect x="443.7" y="1748.3" width="22.1" height="22.0" fill="rgb(0, 244, 228)"/><rect x="465.2" y="1748.3" width="22.1" height="22.0" fill="rgb(0, 244, 228)"/></g>
<g stroke="rgba(50,60,30,0.10)" stroke-width="1"><line x1="142.70" y1="1281.6" x2="142.70" y2="1756.6"/><line x1="185.70" y1="1281.6" x2="185.70" y2="1756.6"/><line x1="228.70" y1="1281.6" x2="228.70" y2="1756.6"/><line x1="271.70" y1="1281.6" x2="271.70" y2="1756.6"/><line x1="314.70" y1="1281.6" x2="314.70" y2="1756.6"/><line x1="357.70" y1="1281.6" x2="357.70" y2="1756.6"/><line x1="400.70" y1="1281.6" x2="400.70" y2="1756.6"/><line x1="443.70" y1="1281.6" x2="443.70" y2="1756.6"/><line x1="133.0" y1="1298.60" x2="484.6" y2="1298.60"/><line x1="133.0" y1="1341.43" x2="484.6" y2="1341.43"/><line x1="133.0" y1="1384.26" x2="484.6" y2="1384.26"/><line x1="133.0" y1="1427.09" x2="484.6" y2="1427.09"/><line x1="133.0" y1="1469.92" x2="484.6" y2="1469.92"/><line x1="133.0" y1="1512.75" x2="484.6" y2="1512.75"/><line x1="133.0" y1="1555.58" x2="484.6" y2="1555.58"/><line x1="133.0" y1="1598.41" x2="484.6" y2="1598.41"/><line x1="133.0" y1="1641.24" x2="484.6" y2="1641.24"/><line x1="133.0" y1="1684.07" x2="484.6" y2="1684.07"/><line x1="133.0" y1="1726.90" x2="484.6" y2="1726.90"/></g>
<rect x="249.5" y="1505" width="85.3" height="84.9" fill="none" stroke="#fffff4" stroke-width="2.5"/>
<text x="285.3" y="1336" textLength="197.2" lengthAdjust="spacingAndGlyphs" font-family='"Liberation Sans", sans-serif' font-size="16.5" fill="#101000">(HJ-1B/IRS derived LST)</text>
<path d="M167.7,1679 L157.5,1713 L167.7,1698.4 Z" fill="#000"/><path d="M167.7,1679 L177.89999999999998,1713 L167.7,1698.4 Z" fill="none" stroke="#000" stroke-width="1.1" stroke-linejoin="miter"/><text x="167.7" y="1673.7" text-anchor="middle" font-family='"Liberation Sans", sans-serif' font-size="13.5">N</text><rect x="190.6" y="1706.0" width="57.599999999999994" height="3.7000000000000455" fill="none" stroke="#000" stroke-width="0.8"/><rect x="190.6" y="1706.0" width="28.799999999999983" height="3.7000000000000455" fill="#000"/><g font-family='"Liberation Sans", sans-serif' font-weight="bold" font-size="8.5" text-anchor="middle" fill="#111"><text x="191.6" y="1701.6">0</text><text x="219.39999999999998" y="1701.6">10</text><text x="248.2" y="1701.6">20</text><text x="219.39999999999998" y="1719.6">Kilometers</text></g>
</g>
<rect x="133.0" y="1281.6" width="351.60" height="475.00" fill="none" stroke="#3a3a20" stroke-width="1"/>
<g stroke="#222" stroke-width="1.1"><line x1="142.70" y1="1277.10" x2="142.70" y2="1281.60"/><line x1="142.70" y1="1756.60" x2="142.70" y2="1761.10"/><line x1="185.70" y1="1277.10" x2="185.70" y2="1281.60"/><line x1="185.70" y1="1756.60" x2="185.70" y2="1761.10"/><line x1="228.70" y1="1277.10" x2="228.70" y2="1281.60"/><line x1="228.70" y1="1756.60" x2="228.70" y2="1761.10"/><line x1="271.70" y1="1277.10" x2="271.70" y2="1281.60"/><line x1="271.70" y1="1756.60" x2="271.70" y2="1761.10"/><line x1="314.70" y1="1277.10" x2="314.70" y2="1281.60"/><line x1="314.70" y1="1756.60" x2="314.70" y2="1761.10"/><line x1="357.70" y1="1277.10" x2="357.70" y2="1281.60"/><line x1="357.70" y1="1756.60" x2="357.70" y2="1761.10"/><line x1="400.70" y1="1277.10" x2="400.70" y2="1281.60"/><line x1="400.70" y1="1756.60" x2="400.70" y2="1761.10"/><line x1="443.70" y1="1277.10" x2="443.70" y2="1281.60"/><line x1="443.70" y1="1756.60" x2="443.70" y2="1761.10"/><line x1="128.50" y1="1298.60" x2="133.00" y2="1298.60"/><line x1="484.60" y1="1298.60" x2="489.10" y2="1298.60"/><line x1="128.50" y1="1341.43" x2="133.00" y2="1341.43"/><line x1="484.60" y1="1341.43" x2="489.10" y2="1341.43"/><line x1="128.50" y1="1384.26" x2="133.00" y2="1384.26"/><line x1="484.60" y1="1384.26" x2="489.10" y2="1384.26"/><line x1="128.50" y1="1427.09" x2="133.00" y2="1427.09"/><line x1="484.60" y1="1427.09" x2="489.10" y2="1427.09"/><line x1="128.50" y1="1469.92" x2="133.00" y2="1469.92"/><line x1="484.60" y1="1469.92" x2="489.10" y2="1469.92"/><line x1="128.50" y1="1512.75" x2="133.00" y2="1512.75"/><line x1="484.60" y1="1512.75" x2="489.10" y2="1512.75"/><line x1="128.50" y1="1555.58" x2="133.00" y2="1555.58"/><line x1="484.60" y1="1555.58" x2="489.10" y2="1555.58"/><line x1="128.50" y1="1598.41" x2="133.00" y2="1598.41"/><line x1="484.60" y1="1598.41" x2="489.10" y2="1598.41"/><line x1="128.50" y1="1641.24" x2="133.00" y2="1641.24"/><line x1="484.60" y1="1641.24" x2="489.10" y2="1641.24"/><line x1="128.50" y1="1684.07" x2="133.00" y2="1684.07"/><line x1="484.60" y1="1684.07" x2="489.10" y2="1684.07"/><line x1="128.50" y1="1726.90" x2="133.00" y2="1726.90"/><line x1="484.60" y1="1726.90" x2="489.10" y2="1726.90"/></g><g font-family='"Liberation Sans", sans-serif' font-weight="bold" font-size="17.5" text-anchor="middle" fill="#111"><text x="142.70" y="1273.30">570000</text><text x="142.70" y="1778.72">570000</text><text x="228.70" y="1273.30">600000</text><text x="228.70" y="1778.72">600000</text><text x="314.70" y="1273.30">630000</text><text x="314.70" y="1778.72">630000</text><text x="400.70" y="1273.30">660000</text><text x="400.70" y="1778.72">660000</text><text transform="translate(506.63,1298.60) rotate(-90)">4390000</text><text transform="translate(124.50,1341.43) rotate(-90)">4375000</text><text transform="translate(506.63,1384.26) rotate(-90)">4360000</text><text transform="translate(124.50,1427.09) rotate(-90)">4345000</text><text transform="translate(506.63,1469.92) rotate(-90)">4330000</text><text transform="translate(124.50,1512.75) rotate(-90)">4315000</text><text transform="translate(506.63,1555.58) rotate(-90)">4300000</text><text transform="translate(124.50,1598.41) rotate(-90)">4285000</text><text transform="translate(506.63,1641.24) rotate(-90)">4270000</text><text transform="translate(124.50,1684.07) rotate(-90)">4255000</text><text transform="translate(506.63,1726.90) rotate(-90)">4240000</text></g>
<clipPath id="clip_m5"><rect x="541.4" y="1281.0" width="351.35" height="474.20"/></clipPath>
<g clip-path="url(#clip_m5)">
<rect x="541.4" y="1281.0" width="351.35" height="474.20000000000005" fill="#80f0a0"/>
<g filter="url(#blur_m5)"><rect x="530.4" y="1276.6" width="22.0" height="22.0" fill="rgb(226, 255, 40)"/><rect x="551.8" y="1276.6" width="22.0" height="22.0" fill="rgb(226, 255, 40)"/><rect x="573.1" y="1276.6" width="22.0" height="22.0" fill="rgb(226, 255, 40)"/><rect x="594.5" y="1276.6" width="22.0" height="22.0" fill="rgb(226, 255, 40)"/><rect x="615.8" y="1276.6" width="22.0" height="22.0" fill="rgb(226, 255, 40)"/><rect x="637.2" y="1276.6" width="22.0" height="22.0" fill="rgb(226, 255, 40)"/><rect x="658.5" y="1276.6" width="22.0" height="22.0" fill="rgb(226, 255, 40)"/><rect x="679.9" y="1276.6" width="22.0" height="22.0" fill="rgb(226, 255, 40)"/><rect x="701.2" y="1276.6" width="22.0" height="22.0" fill="rgb(226, 255, 40)"/><rect x="722.6" y="1276.6" width="22.0" height="22.0" fill="rgb(192, 255, 88)"/><rect x="743.9" y="1276.6" width="22.0" height="22.0" fill="rgb(226, 255, 40)"/><rect x="765.3" y="1276.6" width="22.0" height="22.0" fill="rgb(226, 255, 40)"/><rect x="786.6" y="1276.6" width="22.0" height="22.0" fill="rgb(192, 255, 88)"/><rect x="808.0" y="1276.6" width="22.0" height="22.0" fill="rgb(226, 255, 40)"/><rect x="829.3" y="1276.6" width="22.0" height="22.0" fill="rgb(226, 255, 40)"/><rect x="850.7" y="1276.6" width="22.0" height="22.0" fill="rgb(192, 255, 88)"/><rect x="872.0" y="1276.6" width="22.0" height="22.0" fill="rgb(192, 255, 88)"/><rect x="530.4" y="1298.0" width="22.0" height="22.0" fill="rgb(255, 248, 0)"/><rect x="551.8" y="1298.0" width="22.0" height="22.0" fill="rgb(255, 248, 0)"/><rect x="573.1" y="1298.0" width="22.0" height="22.0" fill="rgb(255, 248, 0)"/><rect x="594.5" y="1298.0" width="22.0" height="22.0" fill="rgb(255, 248, 0)"/><rect x="615.8" y="1298.0" width="22.0" height="22.0" fill="rgb(255, 248, 0)"/><rect x="637.2" y="1298.0" width="22.0" height="22.0" fill="rgb(226, 255, 40)"/><rect x="658.5" y="1298.0" width="22.0" height="22.0" fill="rgb(192, 255, 88)"/><rect x="679.9" y="1298.0" width="22.0" height="22.0" fill="rgb(192, 255, 88)"/><rect x="701.2" y="1298.0" width="22.0" height="22.0" fill="rgb(192, 255, 88)"/><rect x="722.6" y="1298.0" width="22.0" height="22.0" fill="rgb(192, 255, 88)"/><rect x="743.9" y="1298.0" width="22.0" height="22.0" fill="rgb(192, 255, 88)"/><rect x="765.3" y="1298.0" width="22.0" height="22.0" fill="rgb(192, 255, 88)"/><rect x="786.6" y="1298.0" width="22.0" height="22.0" fill="rgb(192, 255, 88)"/><rect x="808.0" y="1298.0" width="22.0" height="22.0" fill="rgb(192, 255, 88)"/><rect x="829.3" y="1298.0" width="22.0" height="22.0" fill="rgb(140, 252, 150)"/><rect x="850.7" y="1298.0" width="22.0" height="22.0" fill="rgb(140, 252, 150)"/><rect x="872.0" y="1298.0" width="22.0" height="22.0" fill="rgb(140, 252, 150)"/><rect x="530.4" y="1319.4" width="22.0" height="22.0" fill="rgb(255, 248, 0)"/><rect x="551.8" y="1319.4" width="22.0" height="22.0" fill="rgb(255, 248, 0)"/><rect x="573.1" y="1319.4" width="22.0" height="22.0" fill="rgb(255, 248, 0)"/><rect x="594.5" y="1319.4" width="22.0" height="22.0" fill="rgb(255, 248, 0)"/><rect x="615.8" y="1319.4" width="22.0" height="22.0" fill="rgb(226, 255, 40)"/><rect x="637.2" y="1319.4" width="22.0" height="22.0" fill="rgb(192, 255, 88)"/><rect x="658.5" y="1319.4" width="22.0" height="22.0" fill="rgb(192, 255, 88)"/><rect x="679.9" y="1319.4" width="22.0" height="22.0" fill="rgb(192, 255, 88)"/><rect x="701.2" y="1319.4" width="22.0" height="22.0" fill="rgb(192, 255, 88)"/><rect x="722.6" y="1319.4" width="22.0" height="22.0" fill="rgb(192, 255, 88)"/><rect x="743.9" y="1319.4" width="22.0" height="22.0" fill="rgb(192, 255, 88)"/><rect x="765.3" y="1319.4" width="22.0" height="22.0" fill="rgb(192, 255, 88)"/><rect x="786.6" y="1319.4" width="22.0" height="22.0" fill="rgb(192, 255, 88)"/><rect x="808.0" y="1319.4" width="22.0" height="22.0" fill="rgb(192, 255, 88)"/><rect x="829.3" y="1319.4" width="22.0" height="22.0" fill="rgb(140, 252, 150)"/><rect x="850.7" y="1319.4" width="22.0" height="22.0" fill="rgb(140, 252, 150)"/><rect x="872.0" y="1319.4" width="22.0" height="22.0" fill="rgb(140, 252, 150)"/><rect x="530.4" y="1340.8" width="22.0" height="22.0" fill="rgb(255, 248, 0)"/><rect x="551.8" y="1340.8" width="22.0" height="22.0" fill="rgb(255, 248, 0)"/><rect x="573.1" y="1340.8" width="22.0" height="22.0" fill="rgb(255, 248, 0)"/><rect x="594.5" y="1340.8" width="22.0" height="22.0" fill="rgb(255, 248, 0)"/><rect x="615.8" y="1340.8" width="22.0" height="22.0" fill="rgb(226, 255, 40)"/><rect x="637.2" y="1340.8" width="22.0" height="22.0" fill="rgb(226, 255, 40)"/><rect x="658.5" y="1340.8" width="22.0" height="22.0" fill="rgb(192, 255, 88)"/><rect x="679.9" y="1340.8" width="22.0" height="22.0" fill="rgb(192, 255, 88)"/><rect x="701.2" y="1340.8" width="22.0" height="22.0" fill="rgb(192, 255, 88)"/><rect x="722.6" y="1340.8" width="22.0" height="22.0" fill="rgb(226, 255, 40)"/><rect x="743.9" y="1340.8" width="22.0" height="22.0" fill="rgb(226, 255, 40)"/><rect x="765.3" y="1340.8" width="22.0" height="22.0" fill="rgb(192, 255, 88)"/><rect x="786.6" y="1340.8" width="22.0" height="22.0" fill="rgb(192, 255, 88)"/><rect x="808.0" y="1340.8" width="22.0" height="22.0" fill="rgb(192, 255, 88)"/><rect x="829.3" y="1340.8" width="22.0" height="22.0" fill="rgb(192, 255, 88)"/><rect x="850.7" y="1340.8" width="22.0" height="22.0" fill="rgb(140, 252, 150)"/><rect x="872.0" y="1340.8" width="22.0" height="22.0" fill="rgb(140, 252, 150)"/><rect x="530.4" y="1362.2" width="22.0" height="22.0" fill="rgb(226, 255, 40)"/><rect x="551.8" y="1362.2" width="22.0" height="22.0" fill="rgb(255, 248, 0)"/><rect x="573.1" y="1362.2" width="22.0" height="22.0" fill="rgb(255, 248, 0)"/><rect x="594.5" y="1362.2" width="22.0" height="22.0" fill="rgb(255, 248, 0)"/><rect x="615.8" y="1362.2" width="22.0" height="22.0" fill="rgb(255, 248, 0)"/><rect x="637.2" y="1362.2" width="22.0" height="22.0" fill="rgb(255, 248, 0)"/><rect x="658.5" y="1362.2" width="22.0" height="22.0" fill="rgb(226, 255, 40)"/><rect x="679.9" y="1362.2" width="22.0" height="22.0" fill="rgb(226, 255, 40)"/><rect x="701.2" y="1362.2" width="22.0" height="22.0" fill="rgb(192, 255, 88)"/><rect x="722.6" y="1362.2" width="22.0" height="22.0" fill="rgb(226, 255, 40)"/><rect x="743.9" y="1362.2" width="22.0" height="22.0" fill="rgb(192, 255, 88)"/><rect x="765.3" y="1362.2" width="22.0" height="22.0" fill="rgb(192, 255, 88)"/><rect x="786.6" y="1362.2" width="22.0" height="22.0" fill="rgb(192, 255, 88)"/><rect x="808.0" y="1362.2" width="22.0" height="22.0" fill="rgb(192, 255, 88)"/><rect x="829.3" y="1362.2" width="22.0" height="22.0" fill="rgb(192, 255, 88)"/><rect x="850.7" y="1362.2" width="22.0" height="22.0" fill="rgb(140, 252, 150)"/><rect x="872.0" y="1362.2" width="22.0" height="22.0" fill="rgb(140, 252, 150)"/><rect x="530.4" y="1383.6" width="22.0" height="22.0" fill="rgb(192, 255, 88)"/><rect x="551.8" y="1383.6" width="22.0" height="22.0" fill="rgb(60, 248, 188)"/><rect x="573.1" y="1383.6" width="22.0" height="22.0" fill="rgb(192, 255, 88)"/><rect x="594.5" y="1383.6" width="22.0" height="22.0" fill="rgb(60, 248, 188)"/><rect x="615.8" y="1383.6" width="22.0" height="22.0" fill="rgb(60, 248, 188)"/><rect x="637.2" y="1383.6" width="22.0" height="22.0" fill="rgb(60, 248, 188)"/><rect x="658.5" y="1383.6" width="22.0" height="22.0" fill="rgb(192, 255, 88)"/><rect x="679.9" y="1383.6" width="22.0" height="22.0" fill="rgb(226, 255, 40)"/><rect x="701.2" y="1383.6" width="22.0" height="22.0" fill="rgb(226, 255, 40)"/><rect x="722.6" y="1383.6" width="22.0" height="22.0" fill="rgb(192, 255, 88)"/><rect x="743.9" y="1383.6" width="22.0" height="22.0" fill="rgb(192, 255, 88)"/><rect x="765.3" y="1383.6" width="22.0" height="22.0" fill="rgb(192, 255, 88)"/><rect x="786.6" y="1383.6" width="22.0" height="22.0" fill="rgb(192, 255, 88)"/><rect x="808.0" y="1383.6" width="22.0" height="22.0" fill="rgb(192, 255, 88)"/><rect x="829.3" y="1383.6" width="22.0" height="22.0" fill="rgb(192, 255, 88)"/><rect x="850.7" y="1383.6" width="22.0" height="22.0" fill="rgb(140, 252, 150)"/><rect x="872.0" y="1383.6" width="22.0" height="22.0" fill="rgb(140, 252, 150)"/><rect x="530.4" y="1405.0" width="22.0" height="22.0" fill="rgb(192, 255, 88)"/><rect x="551.8" y="1405.0" width="22.0" height="22.0" fill="rgb(192, 255, 88)"/><rect x="573.1" y="1405.0" width="22.0" height="22.0" fill="rgb(226, 255, 40)"/><rect x="594.5" y="1405.0" width="22.0" height="22.0" fill="rgb(192, 255, 88)"/><rect x="615.8" y="1405.0" width="22.0" height="22.0" fill="rgb(192, 255, 88)"/><rect x="637.2" y="1405.0" width="22.0" height="22.0" fill="rgb(60, 248, 188)"/><rect x="658.5" y="1405.0" width="22.0" height="22.0" fill="rgb(60, 248, 188)"/><rect x="679.9" y="1405.0" width="22.0" height="22.0" fill="rgb(226, 255, 40)"/><rect x="701.2" y="1405.0" width="22.0" height="22.0" fill="rgb(226, 255, 40)"/><rect x="722.6" y="1405.0" width="22.0" height="22.0" fill="rgb(192, 255, 88)"/><rect x="743.9" y="1405.0" width="22.0" height="22.0" fill="rgb(192, 255, 88)"/><rect x="765.3" y="1405.0" width="22.0" height="22.0" fill="rgb(192, 255, 88)"/><rect x="786.6" y="1405.0" width="22.0" height="22.0" fill="rgb(192, 255, 88)"/><rect x="808.0" y="1405.0" width="22.0" height="22.0" fill="rgb(192, 255, 88)"/><rect x="829.3" y="1405.0" width="22.0" height="22.0" fill="rgb(192, 255, 88)"/><rect x="850.7" y="1405.0" width="22.0" height="22.0" fill="rgb(140, 252, 150)"/><rect x="872.0" y="1405.0" width="22.0" height="22.0" fill="rgb(192, 255, 88)"/><rect x="530.4" y="1426.4" width="22.0" height="22.0" fill="rgb(192, 255, 88)"/><rect x="551.8" y="1426.4" width="22.0" height="22.0" fill="rgb(192, 255, 88)"/><rect x="573.1" y="1426.4" width="22.0" height="22.0" fill="rgb(192, 255, 88)"/><rect x="594.5" y="1426.4" width="22.0" height="22.0" fill="rgb(192, 255, 88)"/><rect x="615.8" y="1426.4" width="22.0" height="22.0" fill="rgb(192, 255, 88)"/><rect x="637.2" y="1426.4" width="22.0" height="22.0" fill="rgb(60, 248, 188)"/><rect x="658.5" y="1426.4" width="22.0" height="22.0" fill="rgb(60, 248, 188)"/><rect x="679.9" y="1426.4" width="22.0" height="22.0" fill="rgb(226, 255, 40)"/><rect x="701.2" y="1426.4" width="22.0" height="22.0" fill="rgb(255, 248, 0)"/><rect x="722.6" y="1426.4" width="22.0" height="22.0" fill="rgb(226, 255, 40)"/><rect x="743.9" y="1426.4" width="22.0" height="22.0" fill="rgb(192, 255, 88)"/><rect x="765.3" y="1426.4" width="22.0" height="22.0" fill="rgb(192, 255, 88)"/><rect x="786.6" y="1426.4" width="22.0" height="22.0" fill="rgb(192, 255, 88)"/><rect x="808.0" y="1426.4" width="22.0" height="22.0" fill="rgb(192, 255, 88)"/><rect x="829.3" y="1426.4" width="22.0" height="22.0" fill="rgb(140, 252, 150)"/><rect x="850.7" y="1426.4" width="22.0" height="22.0" fill="rgb(140, 252, 150)"/><rect x="872.0" y="1426.4" width="22.0" height="22.0" fill="rgb(140, 252, 150)"/><rect x="530.4" y="1447.8" width="22.0" height="22.0" fill="rgb(192, 255, 88)"/><rect x="551.8" y="1447.8" width="22.0" height="22.0" fill="rgb(192, 255, 88)"/><rect x="573.1" y="1447.8" width="22.0" height="22.0" fill="rgb(226, 255, 40)"/><rect x="594.5" y="1447.8" width="22.0" height="22.0" fill="rgb(226, 255, 40)"/><rect x="615.8" y="1447.8" width="22.0" height="22.0" fill="rgb(192, 255, 88)"/><rect x="637.2" y="1447.8" width="22.0" height="22.0" fill="rgb(60, 248, 188)"/><rect x="658.5" y="1447.8" width="22.0" height="22.0" fill="rgb(60, 248, 188)"/><rect x="679.9" y="1447.8" width="22.0" height="22.0" fill="rgb(60, 248, 188)"/><rect x="701.2" y="1447.8" width="22.0" height="22.0" fill="rgb(255, 248, 0)"/><rect x="722.6" y="1447.8" width="22.0" height="22.0" fill="rgb(255, 248, 0)"/><rect x="743.9" y="1447.8" width="22.0" height="22.0" fill="rgb(192, 255, 88)"/><rect x="765.3" y="1447.8" width="22.0" height="22.0" fill="rgb(192, 255, 88)"/><rect x="786.6" y="1447.8" width="22.0" height="22.0" fill="rgb(192, 255, 88)"/><rect x="808.0" y="1447.8" width="22.0" height="22.0" fill="rgb(192, 255, 88)"/><rect x="829.3" y="1447.8" width="22.0" height="22.0" fill="rgb(60, 248, 188)"/><rect x="850.7" y="1447.8" width="22.0" height="22.0" fill="rgb(192, 255, 88)"/><rect x="872.0" y="1447.8" width="22.0" height="22.0" fill="rgb(192, 255, 88)"/><rect x="530.4" y="1469.2" width="22.0" height="22.0" fill="rgb(226, 255, 40)"/><rect x="551.8" y="1469.2" width="22.0" height="22.0" fill="rgb(226, 255, 40)"/><rect x="573.1" y="1469.2" width="22.0" height="22.0" fill="rgb(226, 255, 40)"/><rect x="594.5" y="1469.2" width="22.0" height="22.0" fill="rgb(226, 255, 40)"/><rect x="615.8" y="1469.2" width="22.0" height="22.0" fill="rgb(192, 255, 88)"/><rect x="637.2" y="1469.2" width="22.0" height="22.0" fill="rgb(60, 248, 188)"/><rect x="658.5" y="1469.2" width="22.0" height="22.0" fill="rgb(60, 248, 188)"/><rect x="679.9" y="1469.2" width="22.0" height="22.0" fill="rgb(60, 248, 188)"/><rect x="701.2" y="1469.2" width="22.0" height="22.0" fill="rgb(192, 255, 88)"/><rect x="722.6" y="1469.2" width="22.0" height="22.0" fill="rgb(192, 255, 88)"/><rect x="743.9" y="1469.2" width="22.0" height="22.0" fill="rgb(192, 255, 88)"/><rect x="765.3" y="1469.2" width="22.0" height="22.0" fill="rgb(60, 248, 188)"/><rect x="786.6" y="1469.2" width="22.0" height="22.0" fill="rgb(0, 244, 228)"/><rect x="808.0" y="1469.2" width="22.0" height="22.0" fill="rgb(60, 248, 188)"/><rect x="829.3" y="1469.2" width="22.0" height="22.0" fill="rgb(60, 248, 188)"/><rect x="850.7" y="1469.2" width="22.0" height="22.0" fill="rgb(192, 255, 88)"/><rect x="872.0" y="1469.2" width="22.0" height="22.0" fill="rgb(192, 255, 88)"/><rect x="530.4" y="1490.6" width="22.0" height="22.0" fill="rgb(255, 248, 0)"/><rect x="551.8" y="1490.6" width="22.0" height="22.0" fill="rgb(226, 255, 40)"/><rect x="573.1" y="1490.6" width="22.0" height="22.0" fill="rgb(226, 255, 40)"/><rect x="594.5" y="1490.6" width="22.0" height="22.0" fill="rgb(226, 255, 40)"/><rect x="615.8" y="1490.6" width="22.0" height="22.0" fill="rgb(192, 255, 88)"/><rect x="637.2" y="1490.6" width="22.0" height="22.0" fill="rgb(192, 255, 88)"/><rect x="658.5" y="1490.6" width="22.0" height="22.0" fill="rgb(60, 248, 188)"/><rect x="679.9" y="1490.6" width="22.0" height="22.0" fill="rgb(60, 248, 188)"/><rect x="701.2" y="1490.6" width="22.0" height="22.0" fill="rgb(60, 248, 188)"/><rect x="722.6" y="1490.6" width="22.0" height="22.0" fill="rgb(192, 255, 88)"/><rect x="743.9" y="1490.6" width="22.0" height="22.0" fill="rgb(192, 255, 88)"/><rect x="765.3" y="1490.6" width="22.0" height="22.0" fill="rgb(192, 255, 88)"/><rect x="786.6" y="1490.6" width="22.0" height="22.0" fill="rgb(60, 248, 188)"/><rect x="808.0" y="1490.6" width="22.0" height="22.0" fill="rgb(60, 248, 188)"/><rect x="829.3" y="1490.6" width="22.0" height="22.0" fill="rgb(60, 248, 188)"/><rect x="850.7" y="1490.6" width="22.0" height="22.0" fill="rgb(60, 248, 188)"/><rect x="872.0" y="1490.6" width="22.0" height="22.0" fill="rgb(192, 255, 88)"/><rect x="530.4" y="1512.0" width="22.0" height="22.0" fill="rgb(226, 255, 40)"/><rect x="551.8" y="1512.0" width="22.0" height="22.0" fill="rgb(226, 255, 40)"/><rect x="573.1" y="1512.0" width="22.0" height="22.0" fill="rgb(192, 255, 88)"/><rect x="594.5" y="1512.0" width="22.0" height="22.0" fill="rgb(226, 255, 40)"/><rect x="615.8" y="1512.0" width="22.0" height="22.0" fill="rgb(226, 255, 40)"/><rect x="637.2" y="1512.0" width="22.0" height="22.0" fill="rgb(60, 248, 188)"/><rect x="658.5" y="1512.0" width="22.0" height="22.0" fill="rgb(192, 255, 88)"/><rect x="679.9" y="1512.0" width="22.0" height="22.0" fill="rgb(192, 255, 88)"/><rect x="701.2" y="1512.0" width="22.0" height="22.0" fill="rgb(60, 248, 188)"/><rect x="722.6" y="1512.0" width="22.0" height="22.0" fill="rgb(60, 248, 188)"/><rect x="743.9" y="1512.0" width="22.0" height="22.0" fill="rgb(192, 255, 88)"/><rect x="765.3" y="1512.0" width="22.0" height="22.0" fill="rgb(192, 255, 88)"/><rect x="786.6" y="1512.0" width="22.0" height="22.0" fill="rgb(192, 255, 88)"/><rect x="808.0" y="1512.0" width="22.0" height="22.0" fill="rgb(60, 248, 188)"/><rect x="829.3" y="1512.0" width="22.0" height="22.0" fill="rgb(60, 248, 188)"/><rect x="850.7" y="1512.0" width="22.0" height="22.0" fill="rgb(192, 255, 88)"/><rect x="872.0" y="1512.0" width="22.0" height="22.0" fill="rgb(192, 255, 88)"/><rect x="530.4" y="1533.4" width="22.0" height="22.0" fill="rgb(192, 255, 88)"/><rect x="551.8" y="1533.4" width="22.0" height="22.0" fill="rgb(192, 255, 88)"/><rect x="573.1" y="1533.4" width="22.0" height="22.0" fill="rgb(192, 255, 88)"/><rect x="594.5" y="1533.4" width="22.0" height="22.0" fill="rgb(192, 255, 88)"/><rect x="615.8" y="1533.4" width="22.0" height="22.0" fill="rgb(192, 255, 88)"/><rect x="637.2" y="1533.4" width="22.0" height="22.0" fill="rgb(192, 255, 88)"/><rect x="658.5" y="1533.4" width="22.0" height="22.0" fill="rgb(192, 255, 88)"/><rect x="679.9" y="1533.4" width="22.0" height="22.0" fill="rgb(60, 248, 188)"/><rect x="701.2" y="1533.4" width="22.0" height="22.0" fill="rgb(60, 248, 188)"/><rect x="722.6" y="1533.4" width="22.0" height="22.0" fill="rgb(192, 255, 88)"/><rect x="743.9" y="1533.4" width="22.0" height="22.0" fill="rgb(192, 255, 88)"/><rect x="765.3" y="1533.4" width="22.0" height="22.0" fill="rgb(192, 255, 88)"/><rect x="786.6" y="1533.4" width="22.0" height="22.0" fill="rgb(192, 255, 88)"/><rect x="808.0" y="1533.4" width="22.0" height="22.0" fill="rgb(192, 255, 88)"/><rect x="829.3" y="1533.4" width="22.0" height="22.0" fill="rgb(192, 255, 88)"/><rect x="850.7" y="1533.4" width="22.0" height="22.0" fill="rgb(60, 248, 188)"/><rect x="872.0" y="1533.4" width="22.0" height="22.0" fill="rgb(60, 248, 188)"/><rect x="530.4" y="1554.8" width="22.0" height="22.0" fill="rgb(60, 248, 188)"/><rect x="551.8" y="1554.8" width="22.0" height="22.0" fill="rgb(60, 248, 188)"/><rect x="573.1" y="1554.8" width="22.0" height="22.0" fill="rgb(60, 248, 188)"/><rect x="594.5" y="1554.8" width="22.0" height="22.0" fill="rgb(192, 255, 88)"/><rect x="615.8" y="1554.8" width="22.0" height="22.0" fill="rgb(192, 255, 88)"/><rect x="637.2" y="1554.8" width="22.0" height="22.0" fill="rgb(192, 255, 88)"/><rect x="658.5" y="1554.8" width="22.0" height="22.0" fill="rgb(60, 248, 188)"/><rect x="679.9" y="1554.8" width="22.0" height="22.0" fill="rgb(60, 248, 188)"/><rect x="701.2" y="1554.8" width="22.0" height="22.0" fill="rgb(60, 248, 188)"/><rect x="722.6" y="1554.8" width="22.0" height="22.0" fill="rgb(192, 255, 88)"/><rect x="743.9" y="1554.8" width="22.0" height="22.0" fill="rgb(192, 255, 88)"/><rect x="765.3" y="1554.8" width="22.0" height="22.0" fill="rgb(192, 255, 88)"/><rect x="786.6" y="1554.8" width="22.0" height="22.0" fill="rgb(192, 255, 88)"/><rect x="808.0" y="1554.8" width="22.0" height="22.0" fill="rgb(192, 255, 88)"/><rect x="829.3" y="1554.8" width="22.0" height="22.0" fill="rgb(192, 255, 88)"/><rect x="850.7" y="1554.8" width="22.0" height="22.0" fill="rgb(192, 255, 88)"/><rect x="872.0" y="1554.8" width="22.0" height="22.0" fill="rgb(192, 255, 88)"/><rect x="530.4" y="1576.2" width="22.0" height="22.0" fill="rgb(0, 222, 252)"/><rect x="551.8" y="1576.2" width="22.0" height="22.0" fill="rgb(60, 248, 188)"/><rect x="573.1" y="1576.2" width="22.0" height="22.0" fill="rgb(60, 248, 188)"/><rect x="594.5" y="1576.2" width="22.0" height="22.0" fill="rgb(192, 255, 88)"/><rect x="615.8" y="1576.2" width="22.0" height="22.0" fill="rgb(192, 255, 88)"/><rect x="637.2" y="1576.2" width="22.0" height="22.0" fill="rgb(192, 255, 88)"/><rect x="658.5" y="1576.2" width="22.0" height="22.0" fill="rgb(192, 255, 88)"/><rect x="679.9" y="1576.2" width="22.0" height="22.0" fill="rgb(192, 255, 88)"/><rect x="701.2" y="1576.2" width="22.0" height="22.0" fill="rgb(192, 255, 88)"/><rect x="722.6" y="1576.2" width="22.0" height="22.0" fill="rgb(192, 255, 88)"/><rect x="743.9" y="1576.2" width="22.0" height="22.0" fill="rgb(192, 255, 88)"/><rect x="765.3" y="1576.2" width="22.0" height="22.0" fill="rgb(192, 255, 88)"/><rect x="786.6" y="1576.2" width="22.0" height="22.0" fill="rgb(192, 255, 88)"/><rect x="808.0" y="1576.2" width="22.0" height="22.0" fill="rgb(192, 255, 88)"/><rect x="829.3" y="1576.2" width="22.0" height="22.0" fill="rgb(192, 255, 88)"/><rect x="850.7" y="1576.2" width="22.0" height="22.0" fill="rgb(192, 255, 88)"/><rect x="872.0" y="1576.2" width="22.0" height="22.0" fill="rgb(192, 255, 88)"/><rect x="530.4" y="1597.6" width="22.0" height="22.0" fill="rgb(0, 222, 252)"/><rect x="551.8" y="1597.6" width="22.0" height="22.0" fill="rgb(60, 248, 188)"/><rect x="573.1" y="1597.6" width="22.0" height="22.0" fill="rgb(60, 248, 188)"/><rect x="594.5" y="1597.6" width="22.0" height="22.0" fill="rgb(60, 248, 188)"/><rect x="615.8" y="1597.6" width="22.0" height="22.0" fill="rgb(60, 248, 188)"/><rect x="637.2" y="1597.6" width="22.0" height="22.0" fill="rgb(192, 255, 88)"/><rect x="658.5" y="1597.6" width="22.0" height="22.0" fill="rgb(60, 248, 188)"/><rect x="679.9" y="1597.6" width="22.0" height="22.0" fill="rgb(60, 248, 188)"/><rect x="701.2" y="1597.6" width="22.0" height="22.0" fill="rgb(192, 255, 88)"/><rect x="722.6" y="1597.6" width="22.0" height="22.0" fill="rgb(192, 255, 88)"/><rect x="743.9" y="1597.6" width="22.0" height="22.0" fill="rgb(192, 255, 88)"/><rect x="765.3" y="1597.6" width="22.0" height="22.0" fill="rgb(60, 248, 188)"/><rect x="786.6" y="1597.6" width="22.0" height="22.0" fill="rgb(192, 255, 88)"/><rect x="808.0" y="1597.6" width="22.0" height="22.0" fill="rgb(192, 255, 88)"/><rect x="829.3" y="1597.6" width="22.0" height="22.0" fill="rgb(60, 248, 188)"/><rect x="850.7" y="1597.6" width="22.0" height="22.0" fill="rgb(60, 248, 188)"/><rect x="872.0" y="1597.6" width="22.0" height="22.0" fill="rgb(192, 255, 88)"/><rect x="530.4" y="1619.0" width="22.0" height="22.0" fill="rgb(0, 244, 228)"/><rect x="551.8" y="1619.0" width="22.0" height="22.0" fill="rgb(60, 248, 188)"/><rect x="573.1" y="1619.0" width="22.0" height="22.0" fill="rgb(60, 248, 188)"/><rect x="594.5" y="1619.0" width="22.0" height="22.0" fill="rgb(60, 248, 188)"/><rect x="615.8" y="1619.0" width="22.0" height="22.0" fill="rgb(60, 248, 188)"/><rect x="637.2" y="1619.0" width="22.0" height="22.0" fill="rgb(60, 248, 188)"/><rect x="658.5" y="1619.0" width="22.0" height="22.0" fill="rgb(60, 248, 188)"/><rect x="679.9" y="1619.0" width="22.0" height="22.0" fill="rgb(60, 248, 188)"/><rect x="701.2" y="1619.0" width="22.0" height="22.0" fill="rgb(60, 248, 188)"/><rect x="722.6" y="1619.0" width="22.0" height="22.0" fill="rgb(60, 248, 188)"/><rect x="743.9" y="1619.0" width="22.0" height="22.0" fill="rgb(60, 248, 188)"/><rect x="765.3" y="1619.0" width="22.0" height="22.0" fill="rgb(192, 255, 88)"/><rect x="786.6" y="1619.0" width="22.0" height="22.0" fill="rgb(192, 255, 88)"/><rect x="808.0" y="1619.0" width="22.0" height="22.0" fill="rgb(192, 255, 88)"/><rect x="829.3" y="1619.0" width="22.0" height="22.0" fill="rgb(60, 248, 188)"/><rect x="850.7" y="1619.0" width="22.0" height="22.0" fill="rgb(60, 248, 188)"/><rect x="872.0" y="1619.0" width="22.0" height="22.0" fill="rgb(60, 248, 188)"/><rect x="530.4" y="1640.4" width="22.0" height="22.0" fill="rgb(0, 244, 228)"/><rect x="551.8" y="1640.4" width="22.0" height="22.0" fill="rgb(0, 244, 228)"/><rect x="573.1" y="1640.4" width="22.0" height="22.0" fill="rgb(60, 248, 188)"/><rect x="594.5" y="1640.4" width="22.0" height="22.0" fill="rgb(0, 222, 252)"/><rect x="615.8" y="1640.4" width="22.0" height="22.0" fill="rgb(0, 222, 252)"/><rect x="637.2" y="1640.4" width="22.0" height="22.0" fill="rgb(0, 244, 228)"/><rect x="658.5" y="1640.4" width="22.0" height="22.0" fill="rgb(0, 244, 228)"/><rect x="679.9" y="1640.4" width="22.0" height="22.0" fill="rgb(60, 248, 188)"/><rect x="701.2" y="1640.4" width="22.0" height="22.0" fill="rgb(192, 255, 88)"/><rect x="722.6" y="1640.4" width="22.0" height="22.0" fill="rgb(192, 255, 88)"/><rect x="743.9" y="1640.4" width="22.0" height="22.0" fill="rgb(60, 248, 188)"/><rect x="765.3" y="1640.4" width="22.0" height="22.0" fill="rgb(60, 248, 188)"/><rect x="786.6" y="1640.4" width="22.0" height="22.0" fill="rgb(60, 248, 188)"/><rect x="808.0" y="1640.4" width="22.0" height="22.0" fill="rgb(60, 248, 188)"/><rect x="829.3" y="1640.4" width="22.0" height="22.0" fill="rgb(192, 255, 88)"/><rect x="850.7" y="1640.4" width="22.0" height="22.0" fill="rgb(192, 255, 88)"/><rect x="872.0" y="1640.4" width="22.0" height="22.0" fill="rgb(60, 248, 188)"/><rect x="530.4" y="1661.8" width="22.0" height="22.0" fill="rgb(0, 244, 228)"/><rect x="551.8" y="1661.8" width="22.0" height="22.0" fill="rgb(0, 244, 228)"/><rect x="573.1" y="1661.8" width="22.0" height="22.0" fill="rgb(0, 244, 228)"/><rect x="594.5" y="1661.8" width="22.0" height="22.0" fill="rgb(0, 244, 228)"/><rect x="615.8" y="1661.8" width="22.0" height="22.0" fill="rgb(0, 244, 228)"/><rect x="637.2" y="1661.8" width="22.0" height="22.0" fill="rgb(0, 244, 228)"/><rect x="658.5" y="1661.8" width="22.0" height="22.0" fill="rgb(0, 222, 252)"/><rect x="679.9" y="1661.8" width="22.0" height="22.0" fill="rgb(0, 244, 228)"/><rect x="701.2" y="1661.8" width="22.0" height="22.0" fill="rgb(60, 248, 188)"/><rect x="722.6" y="1661.8" width="22.0" height="22.0" fill="rgb(60, 248, 188)"/><rect x="743.9" y="1661.8" width="22.0" height="22.0" fill="rgb(60, 248, 188)"/><rect x="765.3" y="1661.8" width="22.0" height="22.0" fill="rgb(60, 248, 188)"/><rect x="786.6" y="1661.8" width="22.0" height="22.0" fill="rgb(60, 248, 188)"/><rect x="808.0" y="1661.8" width="22.0" height="22.0" fill="rgb(60, 248, 188)"/><rect x="829.3" y="1661.8" width="22.0" height="22.0" fill="rgb(60, 248, 188)"/><rect x="850.7" y="1661.8" width="22.0" height="22.0" fill="rgb(192, 255, 88)"/><rect x="872.0" y="1661.8" width="22.0" height="22.0" fill="rgb(192, 255, 88)"/><rect x="530.4" y="1683.2" width="22.0" height="22.0" fill="rgb(0, 222, 252)"/><rect x="551.8" y="1683.2" width="22.0" height="22.0" fill="rgb(0, 222, 252)"/><rect x="573.1" y="1683.2" width="22.0" height="22.0" fill="rgb(0, 244, 228)"/><rect x="594.5" y="1683.2" width="22.0" height="22.0" fill="rgb(0, 244, 228)"/><rect x="615.8" y="1683.2" width="22.0" height="22.0" fill="rgb(0, 244, 228)"/><rect x="637.2" y="1683.2" width="22.0" height="22.0" fill="rgb(0, 222, 252)"/><rect x="658.5" y="1683.2" width="22.0" height="22.0" fill="rgb(0, 178, 255)"/><rect x="679.9" y="1683.2" width="22.0" height="22.0" fill="rgb(0, 178, 255)"/><rect x="701.2" y="1683.2" width="22.0" height="22.0" fill="rgb(0, 222, 252)"/><rect x="722.6" y="1683.2" width="22.0" height="22.0" fill="rgb(0, 222, 252)"/><rect x="743.9" y="1683.2" width="22.0" height="22.0" fill="rgb(0, 244, 228)"/><rect x="765.3" y="1683.2" width="22.0" height="22.0" fill="rgb(0, 244, 228)"/><rect x="786.6" y="1683.2" width="22.0" height="22.0" fill="rgb(60, 248, 188)"/><rect x="808.0" y="1683.2" width="22.0" height="22.0" fill="rgb(60, 248, 188)"/><rect x="829.3" y="1683.2" width="22.0" height="22.0" fill="rgb(60, 248, 188)"/><rect x="850.7" y="1683.2" width="22.0" height="22.0" fill="rgb(60, 248, 188)"/><rect x="872.0" y="1683.2" width="22.0" height="22.0" fill="rgb(192, 255, 88)"/><rect x="530.4" y="1704.6" width="22.0" height="22.0" fill="rgb(0, 244, 228)"/><rect x="551.8" y="1704.6" width="22.0" height="22.0" fill="rgb(0, 244, 228)"/><rect x="573.1" y="1704.6" width="22.0" height="22.0" fill="rgb(0, 222, 252)"/><rect x="594.5" y="1704.6" width="22.0" height="22.0" fill="rgb(0, 222, 252)"/><rect x="615.8" y="1704.6" width="22.0" height="22.0" fill="rgb(0, 244, 228)"/><rect x="637.2" y="1704.6" width="22.0" height="22.0" fill="rgb(0, 222, 252)"/><rect x="658.5" y="1704.6" width="22.0" height="22.0" fill="rgb(0, 178, 255)"/><rect x="679.9" y="1704.6" width="22.0" height="22.0" fill="rgb(0, 132, 255)"/><rect x="701.2" y="1704.6" width="22.0" height="22.0" fill="rgb(0, 178, 255)"/><rect x="722.6" y="1704.6" width="22.0" height="22.0" fill="rgb(0, 222, 252)"/><rect x="743.9" y="1704.6" width="22.0" height="22.0" fill="rgb(0, 178, 255)"/><rect x="765.3" y="1704.6" width="22.0" height="22.0" fill="rgb(0, 244, 228)"/><rect x="786.6" y="1704.6" width="22.0" height="22.0" fill="rgb(0, 244, 228)"/><rect x="808.0" y="1704.6" width="22.0" height="22.0" fill="rgb(0, 244, 228)"/><rect x="829.3" y="1704.6" width="22.0" height="22.0" fill="rgb(0, 244, 228)"/><rect x="850.7" y="1704.6" width="22.0" height="22.0" fill="rgb(0, 244, 228)"/><rect x="872.0" y="1704.6" width="22.0" height="22.0" fill="rgb(60, 248, 188)"/><rect x="530.4" y="1726.0" width="22.0" height="22.0" fill="rgb(0, 244, 228)"/><rect x="551.8" y="1726.0" width="22.0" height="22.0" fill="rgb(0, 244, 228)"/><rect x="573.1" y="1726.0" width="22.0" height="22.0" fill="rgb(0, 244, 228)"/><rect x="594.5" y="1726.0" width="22.0" height="22.0" fill="rgb(0, 244, 228)"/><rect x="615.8" y="1726.0" width="22.0" height="22.0" fill="rgb(0, 244, 228)"/><rect x="637.2" y="1726.0" width="22.0" height="22.0" fill="rgb(0, 244, 228)"/><rect x="658.5" y="1726.0" width="22.0" height="22.0" fill="rgb(0, 222, 252)"/><rect x="679.9" y="1726.0" width="22.0" height="22.0" fill="rgb(0, 178, 255)"/><rect x="701.2" y="1726.0" width="22.0" height="22.0" fill="rgb(0, 178, 255)"/><rect x="722.6" y="1726.0" width="22.0" height="22.0" fill="rgb(0, 132, 255)"/><rect x="743.9" y="1726.0" width="22.0" height="22.0" fill="rgb(0, 178, 255)"/><rect x="765.3" y="1726.0" width="22.0" height="22.0" fill="rgb(0, 222, 252)"/><rect x="786.6" y="1726.0" width="22.0" height="22.0" fill="rgb(0, 244, 228)"/><rect x="808.0" y="1726.0" width="22.0" height="22.0" fill="rgb(192, 255, 88)"/><rect x="829.3" y="1726.0" width="22.0" height="22.0" fill="rgb(0, 244, 228)"/><rect x="850.7" y="1726.0" width="22.0" height="22.0" fill="rgb(0, 244, 228)"/><rect x="872.0" y="1726.0" width="22.0" height="22.0" fill="rgb(0, 244, 228)"/><rect x="530.4" y="1747.4" width="22.0" height="22.0" fill="rgb(0, 244, 228)"/><rect x="551.8" y="1747.4" width="22.0" height="22.0" fill="rgb(0, 244, 228)"/><rect x="573.1" y="1747.4" width="22.0" height="22.0" fill="rgb(0, 244, 228)"/><rect x="594.5" y="1747.4" width="22.0" height="22.0" fill="rgb(0, 244, 228)"/><rect x="615.8" y="1747.4" width="22.0" height="22.0" fill="rgb(0, 244, 228)"/><rect x="637.2" y="1747.4" width="22.0" height="22.0" fill="rgb(0, 244, 228)"/><rect x="658.5" y="1747.4" width="22.0" height="22.0" fill="rgb(0, 244, 228)"/><rect x="679.9" y="1747.4" width="22.0" height="22.0" fill="rgb(0, 244, 228)"/><rect x="701.2" y="1747.4" width="22.0" height="22.0" fill="rgb(0, 222, 252)"/><rect x="722.6" y="1747.4" width="22.0" height="22.0" fill="rgb(0, 222, 252)"/><rect x="743.9" y="1747.4" width="22.0" height="22.0" fill="rgb(192, 255, 88)"/><rect x="765.3" y="1747.4" width="22.0" height="22.0" fill="rgb(0, 222, 252)"/><rect x="786.6" y="1747.4" width="22.0" height="22.0" fill="rgb(0, 178, 255)"/><rect x="808.0" y="1747.4" width="22.0" height="22.0" fill="rgb(192, 255, 88)"/><rect x="829.3" y="1747.4" width="22.0" height="22.0" fill="rgb(0, 244, 228)"/><rect x="850.7" y="1747.4" width="22.0" height="22.0" fill="rgb(0, 244, 228)"/><rect x="872.0" y="1747.4" width="22.0" height="22.0" fill="rgb(0, 244, 228)"/></g>
<polygon points="764.8,1521.1 776.0,1519.3 779.8,1538.0 794.8,1545.5 809.8,1547.4 822.9,1538.0 836.0,1539.9 832.3,1549.3 817.3,1553.0 806.0,1560.5 794.8,1554.9 779.8,1553.0 768.5,1545.5 762.9,1536.1" fill="#fff"/>
<polygon points="854.8,1521.1 866.0,1515.5 886.6,1513.6 888.5,1530.4 875.4,1532.4 862.3,1526.8" fill="#fff"/>
<polygon points="806.0,1556.8 822.9,1553.0 845.4,1551.1 847.3,1560.5 832.3,1568.0 813.5,1568.0" fill="#fff"/>
<polygon points="854.8,1569.9 866.0,1568.0 881.0,1575.5 892.8,1577.4 892.8,1590.5 877.3,1590.5 866.0,1586.8 856.6,1579.3" fill="#fff"/>
<polygon points="787.3,1598.1 806.0,1596.1 832.3,1598.1 832.3,1603.6 822.9,1607.4 821.0,1620.0 802.3,1620.0 798.5,1607.4 787.3,1605.5" fill="#fff"/>
<polygon points="873.5,1457.0 885.0,1455.5 892.8,1456.0 892.8,1468.6 876.0,1468.0" fill="#fff"/>
<polygon points="886.6,1496.0 892.8,1494.9 892.8,1512.7 887.0,1512.0" fill="#fff"/>
<polygon points="761.0,1619.0 781.6,1619.0 785.4,1626.5 783.5,1643.4 772.3,1641.5 764.8,1630.3" fill="#fff"/>
<polygon points="791.0,1630.3 802.3,1619.0 824.8,1619.0 822.9,1628.4 809.8,1630.3 807.9,1641.5 802.3,1637.8" fill="#fff"/>
<polygon points="712.3,1649.0 723.5,1641.5 742.3,1641.5 746.0,1652.8 729.1,1654.6 714.1,1652.8" fill="#fff"/>
<polygon points="701.0,1643.4 712.3,1643.4 712.3,1649.0 701.0,1649.0" fill="#fff"/>
<polygon points="721.6,1697.8 725.4,1707.1 744.1,1707.1 747.9,1716.5 753.5,1720.3 746.0,1725.9 742.3,1716.5 723.5,1716.5 712.3,1714.6" fill="#fff"/>
<polygon points="764.8,1714.6 779.8,1716.0 778.0,1725.9 766.0,1724.0" fill="#fff"/>
<polygon points="815.4,1725.9 824.8,1724.0 836.0,1729.6 836.0,1737.0 821.0,1738.9 815.4,1735.3" fill="#fff"/>
<polygon points="821.0,1712.8 824.8,1712.8 824.8,1725.9 821.0,1725.9" fill="#fff"/>
<polygon points="704.8,1739.0 721.6,1739.0 720.0,1746.5 706.0,1746.5" fill="#fff"/>
<polygon points="762.9,1748.4 774.1,1748.4 774.1,1755.2 762.9,1755.2" fill="#fff"/>
<polygon points="806.0,1750.3 821.0,1750.3 821.0,1755.2 806.0,1755.2" fill="#fff"/>
<polygon points="544.6,1377.0 556.0,1376.0 562.3,1381.0 556.0,1390.0 546.0,1389.0" fill="#fff"/>
<polygon points="589.0,1388.0 600.0,1386.6 608.5,1388.0 604.0,1397.3 591.0,1396.0" fill="#fff"/>
<polygon points="541.4,1404.4 565.9,1404.4 565.0,1409.8 541.4,1409.8" fill="#fff"/>
<polygon points="565.9,1408.0 580.1,1408.0 578.0,1413.3 567.0,1413.3" fill="#fff"/>
<polygon points="589.0,1418.6 605.0,1418.6 603.0,1427.5 591.0,1427.5" fill="#fff"/>
<polygon points="594.3,1420.4 606.8,1418.6 619.2,1422.2 633.4,1420.4 645.9,1422.2 644.1,1429.3 633.4,1431.1 629.9,1447.8 615.7,1447.8 608.5,1440.0 599.7,1431.1" fill="#fff"/>
<polygon points="645.9,1438.2 651.2,1438.2 651.2,1447.8 645.9,1447.8" fill="#fff"/>
<polygon points="587.2,1469.3 601.4,1469.3 601.4,1476.4 587.2,1476.4" fill="#fff"/>
<polygon points="573.0,1540.4 580.1,1540.4 580.1,1549.3 573.0,1549.3" fill="#fff"/>
<polygon points="585.4,1551.1 601.4,1551.1 599.0,1558.2 587.0,1558.2" fill="#fff"/>
<polygon points="576.5,1499.5 590.8,1498.7 590.0,1504.9 577.0,1504.9" fill="#fff"/>
<polygon points="557.0,1649.2 562.3,1649.2 562.3,1658.1 557.0,1658.1" fill="#fff"/>
<polygon points="654.8,1670.0 667.0,1668.8 677.9,1671.0 676.0,1675.9 656.0,1675.9" fill="#fff"/>
<polygon points="692.1,1681.2 704.5,1681.2 704.5,1690.1 692.1,1690.1" fill="#fff"/>
<polygon points="637.0,1723.9 658.3,1724.0 658.3,1731.0 640.0,1731.0" fill="#fff"/>
<polygon points="711.6,1709.6 722.7,1709.6 722.7,1716.8 711.6,1716.8" fill="#fff"/>
<polygon points="558.0,1486.0 566.0,1485.0 565.0,1489.0 558.0,1490.0" fill="#fff"/>
<polygon points="604.0,1490.0 612.0,1489.0 611.0,1493.0 603.0,1494.0" fill="#fff"/>
<polygon points="585.0,1460.0 595.0,1459.0 594.0,1463.0 585.0,1464.0" fill="#fff"/>
<polygon points="612.0,1472.0 620.0,1471.0 619.0,1475.0 611.0,1476.0" fill="#fff"/>
<polygon points="560.0,1534.0 570.0,1533.0 569.0,1537.0 560.0,1538.0" fill="#fff"/>
<polygon points="620.0,1555.0 630.0,1554.0 629.0,1558.0 620.0,1559.0" fill="#fff"/>
<polygon points="680.0,1507.0 688.0,1506.0 688.0,1510.0 680.0,1511.0" fill="#fff"/>
<polygon points="700.0,1523.0 706.0,1522.0 706.0,1526.0 700.0,1527.0" fill="#fff"/>
<polygon points="560.0,1608.0 572.0,1607.0 571.0,1611.0 560.0,1612.0" fill="#fff"/>
<polygon points="640.0,1612.0 650.0,1611.0 649.0,1614.0 640.0,1615.0" fill="#fff"/>
<g stroke="rgba(50,60,30,0.10)" stroke-width="1"><line x1="551.80" y1="1281.0" x2="551.80" y2="1755.2"/><line x1="594.50" y1="1281.0" x2="594.50" y2="1755.2"/><line x1="637.20" y1="1281.0" x2="637.20" y2="1755.2"/><line x1="679.90" y1="1281.0" x2="679.90" y2="1755.2"/><line x1="722.60" y1="1281.0" x2="722.60" y2="1755.2"/><line x1="765.30" y1="1281.0" x2="765.30" y2="1755.2"/><line x1="808.00" y1="1281.0" x2="808.00" y2="1755.2"/><line x1="850.70" y1="1281.0" x2="850.70" y2="1755.2"/><line x1="541.4" y1="1298.00" x2="892.75" y2="1298.00"/><line x1="541.4" y1="1340.80" x2="892.75" y2="1340.80"/><line x1="541.4" y1="1383.60" x2="892.75" y2="1383.60"/><line x1="541.4" y1="1426.40" x2="892.75" y2="1426.40"/><line x1="541.4" y1="1469.20" x2="892.75" y2="1469.20"/><line x1="541.4" y1="1512.00" x2="892.75" y2="1512.00"/><line x1="541.4" y1="1554.80" x2="892.75" y2="1554.80"/><line x1="541.4" y1="1597.60" x2="892.75" y2="1597.60"/><line x1="541.4" y1="1640.40" x2="892.75" y2="1640.40"/><line x1="541.4" y1="1683.20" x2="892.75" y2="1683.20"/><line x1="541.4" y1="1726.00" x2="892.75" y2="1726.00"/></g>
<rect x="657.4" y="1504.5" width="85.4" height="85" fill="none" stroke="#fffff4" stroke-width="2.5"/>
<text x="719.1" y="1336.8" textLength="169.3" lengthAdjust="spacingAndGlyphs" font-family='"Liberation Sans", sans-serif' font-size="16.5" fill="#101000">(MODIS derived LST)</text>
<path d="M576.5,1679 L566.3,1712.2 L576.5,1698 Z" fill="#000"/><path d="M576.5,1679 L586.7,1712.2 L576.5,1698 Z" fill="none" stroke="#000" stroke-width="1.1" stroke-linejoin="miter"/><text x="576.5" y="1673.7" text-anchor="middle" font-family='"Liberation Sans", sans-serif' font-size="13.5">N</text><rect x="599.6" y="1704.4" width="56.64999999999998" height="3.8999999999998636" fill="none" stroke="#000" stroke-width="0.8"/><rect x="599.6" y="1704.4" width="28.324999999999932" height="3.8999999999998636" fill="#000"/><g font-family='"Liberation Sans", sans-serif' font-weight="bold" font-size="8.5" text-anchor="middle" fill="#111"><text x="600.6" y="1700.5">0</text><text x="627.925" y="1700.5">10</text><text x="656.25" y="1700.5">20</text><text x="627.925" y="1718.7">Kilometers</text></g>
</g>
<rect x="541.4" y="1281.0" width="351.35" height="474.20" fill="none" stroke="#3a3a20" stroke-width="1"/>
<g stroke="#222" stroke-width="1.1"><line x1="551.80" y1="1276.50" x2="551.80" y2="1281.00"/><line x1="551.80" y1="1755.20" x2="551.80" y2="1759.70"/><line x1="594.50" y1="1276.50" x2="594.50" y2="1281.00"/><line x1="594.50" y1="1755.20" x2="594.50" y2="1759.70"/><line x1="637.20" y1="1276.50" x2="637.20" y2="1281.00"/><line x1="637.20" y1="1755.20" x2="637.20" y2="1759.70"/><line x1="679.90" y1="1276.50" x2="679.90" y2="1281.00"/><line x1="679.90" y1="1755.20" x2="679.90" y2="1759.70"/><line x1="722.60" y1="1276.50" x2="722.60" y2="1281.00"/><line x1="722.60" y1="1755.20" x2="722.60" y2="1759.70"/><line x1="765.30" y1="1276.50" x2="765.30" y2="1281.00"/><line x1="765.30" y1="1755.20" x2="765.30" y2="1759.70"/><line x1="808.00" y1="1276.50" x2="808.00" y2="1281.00"/><line x1="808.00" y1="1755.20" x2="808.00" y2="1759.70"/><line x1="850.70" y1="1276.50" x2="850.70" y2="1281.00"/><line x1="850.70" y1="1755.20" x2="850.70" y2="1759.70"/><line x1="536.90" y1="1298.00" x2="541.40" y2="1298.00"/><line x1="892.75" y1="1298.00" x2="897.25" y2="1298.00"/><line x1="536.90" y1="1340.80" x2="541.40" y2="1340.80"/><line x1="892.75" y1="1340.80" x2="897.25" y2="1340.80"/><line x1="536.90" y1="1383.60" x2="541.40" y2="1383.60"/><line x1="892.75" y1="1383.60" x2="897.25" y2="1383.60"/><line x1="536.90" y1="1426.40" x2="541.40" y2="1426.40"/><line x1="892.75" y1="1426.40" x2="897.25" y2="1426.40"/><line x1="536.90" y1="1469.20" x2="541.40" y2="1469.20"/><line x1="892.75" y1="1469.20" x2="897.25" y2="1469.20"/><line x1="536.90" y1="1512.00" x2="541.40" y2="1512.00"/><line x1="892.75" y1="1512.00" x2="897.25" y2="1512.00"/><line x1="536.90" y1="1554.80" x2="541.40" y2="1554.80"/><line x1="892.75" y1="1554.80" x2="897.25" y2="1554.80"/><line x1="536.90" y1="1597.60" x2="541.40" y2="1597.60"/><line x1="892.75" y1="1597.60" x2="897.25" y2="1597.60"/><line x1="536.90" y1="1640.40" x2="541.40" y2="1640.40"/><line x1="892.75" y1="1640.40" x2="897.25" y2="1640.40"/><line x1="536.90" y1="1683.20" x2="541.40" y2="1683.20"/><line x1="892.75" y1="1683.20" x2="897.25" y2="1683.20"/><line x1="536.90" y1="1726.00" x2="541.40" y2="1726.00"/><line x1="892.75" y1="1726.00" x2="897.25" y2="1726.00"/></g><g font-family='"Liberation Sans", sans-serif' font-weight="bold" font-size="17.5" text-anchor="middle" fill="#111"><text x="551.80" y="1272.70">570000</text><text x="551.80" y="1778.83">570000</text><text x="637.20" y="1272.70">600000</text><text x="637.20" y="1778.83">600000</text><text x="722.60" y="1272.70">630000</text><text x="722.60" y="1778.83">630000</text><text x="808.00" y="1272.70">660000</text><text x="808.00" y="1778.83">660000</text><text transform="translate(913.57,1298.00) rotate(-90)">4390000</text><text transform="translate(532.90,1340.80) rotate(-90)">4375000</text><text transform="translate(913.57,1383.60) rotate(-90)">4360000</text><text transform="translate(532.90,1426.40) rotate(-90)">4345000</text><text transform="translate(913.57,1469.20) rotate(-90)">4330000</text><text transform="translate(532.90,1512.00) rotate(-90)">4315000</text><text transform="translate(913.57,1554.80) rotate(-90)">4300000</text><text transform="translate(532.90,1597.60) rotate(-90)">4285000</text><text transform="translate(913.57,1640.40) rotate(-90)">4270000</text><text transform="translate(532.90,1683.20) rotate(-90)">4255000</text><text transform="translate(913.57,1726.00) rotate(-90)">4240000</text></g>
<linearGradient id="hg1" x1="0" y1="0" x2="1" y2="0">
<stop offset="0" stop-color="rgb(255,0,0)"/>
<stop offset="0.063" stop-color="rgb(255,80,0)"/>
<stop offset="0.125" stop-color="rgb(255,120,0)"/>
<stop offset="0.188" stop-color="rgb(255,155,0)"/>
<stop offset="0.251" stop-color="rgb(255,195,0)"/>
<stop offset="0.301" stop-color="rgb(255,215,0)"/>
<stop offset="0.339" stop-color="rgb(245,232,10)"/>
<stop offset="0.389" stop-color="rgb(225,245,40)"/>
<stop offset="0.427" stop-color="rgb(205,250,60)"/>
<stop offset="0.477" stop-color="rgb(170,252,100)"/>
<stop offset="0.502" stop-color="rgb(150,255,125)"/>
<stop offset="0.552" stop-color="rgb(112,255,150)"/>
<stop offset="0.557" stop-color="rgb(0,255,170)"/>
<stop offset="0.602" stop-color="rgb(0,245,200)"/>
<stop offset="0.652" stop-color="rgb(0,230,220)"/>
<stop offset="0.702" stop-color="rgb(0,210,235)"/>
<stop offset="0.753" stop-color="rgb(0,185,250)"/>
<stop offset="0.811" stop-color="rgb(0,130,255)"/>
<stop offset="0.874" stop-color="rgb(0,105,255)"/>
<stop offset="0.912" stop-color="rgb(20,70,255)"/>
<stop offset="0.962" stop-color="rgb(20,40,250)"/>
<stop offset="1.0" stop-color="rgb(0,0,240)"/>
</linearGradient>
<rect x="77" y="558.2" width="797.30" height="22.80" fill="url(#hg1)"/>
<g font-family='"Liberation Sans", sans-serif' font-weight="bold" font-style="italic" font-size="17.5" text-anchor="middle" fill="#111"><text x="76.70" y="601.20">335</text><text x="133.47" y="601.20">330</text><text x="190.24" y="601.20">325</text><text x="247.01" y="601.20">320</text><text x="303.78" y="601.20">315</text><text x="360.55" y="601.20">310</text><text x="417.32" y="601.20">305</text><text x="474.09" y="601.20">300</text><text x="530.86" y="601.20">295</text><text x="587.63" y="601.20">290</text><text x="644.40" y="601.20">285</text><text x="701.17" y="601.20">280</text><text x="757.94" y="601.20">275</text><text x="814.71" y="601.20">270</text><text x="871.48" y="601.20">265</text></g>
<text x="881.6" y="579.5" textLength="86.2" lengthAdjust="spacingAndGlyphs" font-family='"Liberation Sans", sans-serif' font-weight="bold" font-size="25.5" fill="#111">LST (K)</text>
<linearGradient id="hg2" x1="0" y1="0" x2="1" y2="0">
<stop offset="0" stop-color="rgb(255,0,0)"/>
<stop offset="0.063" stop-color="rgb(255,80,0)"/>
<stop offset="0.125" stop-color="rgb(255,120,0)"/>
<stop offset="0.188" stop-color="rgb(255,155,0)"/>
<stop offset="0.251" stop-color="rgb(255,195,0)"/>
<stop offset="0.301" stop-color="rgb(255,215,0)"/>
<stop offset="0.339" stop-color="rgb(245,232,10)"/>
<stop offset="0.389" stop-color="rgb(225,245,40)"/>
<stop offset="0.427" stop-color="rgb(205,250,60)"/>
<stop offset="0.477" stop-color="rgb(170,252,100)"/>
<stop offset="0.502" stop-color="rgb(150,255,125)"/>
<stop offset="0.552" stop-color="rgb(112,255,150)"/>
<stop offset="0.557" stop-color="rgb(0,255,170)"/>
<stop offset="0.602" stop-color="rgb(0,245,200)"/>
<stop offset="0.652" stop-color="rgb(0,230,220)"/>
<stop offset="0.702" stop-color="rgb(0,210,235)"/>
<stop offset="0.753" stop-color="rgb(0,185,250)"/>
<stop offset="0.811" stop-color="rgb(0,130,255)"/>
<stop offset="0.874" stop-color="rgb(0,105,255)"/>
<stop offset="0.912" stop-color="rgb(20,70,255)"/>
<stop offset="0.962" stop-color="rgb(20,40,250)"/>
<stop offset="1.0" stop-color="rgb(0,0,240)"/>
</linearGradient>
<rect x="85.2" y="1833.1" width="783.00" height="22.00" fill="url(#hg2)"/>
<g font-family='"Liberation Sans", sans-serif' font-weight="bold" font-style="italic" font-size="17.5" text-anchor="middle" fill="#111"><text x="85.15" y="1874.90">335</text><text x="140.85" y="1874.90">330</text><text x="196.55" y="1874.90">325</text><text x="252.25" y="1874.90">320</text><text x="307.95" y="1874.90">315</text><text x="363.65" y="1874.90">310</text><text x="419.35" y="1874.90">305</text><text x="475.05" y="1874.90">300</text><text x="530.75" y="1874.90">295</text><text x="586.45" y="1874.90">290</text><text x="642.15" y="1874.90">285</text><text x="697.85" y="1874.90">280</text><text x="753.55" y="1874.90">275</text><text x="809.25" y="1874.90">270</text><text x="864.95" y="1874.90">265</text></g>
<text x="874.0" y="1854.2" textLength="86.5" lengthAdjust="spacingAndGlyphs" font-family='"Liberation Sans", sans-serif' font-weight="bold" font-size="25.5" fill="#111">LST (K)</text>
<linearGradient id="vg" x1="0" y1="0" x2="0" y2="1">
<stop offset="0" stop-color="rgb(255,25,0)"/>
<stop offset="0.07" stop-color="rgb(255,60,0)"/>
<stop offset="0.15" stop-color="rgb(255,100,0)"/>
<stop offset="0.22" stop-color="rgb(255,150,0)"/>
<stop offset="0.27" stop-color="rgb(255,190,0)"/>
<stop offset="0.33" stop-color="rgb(250,225,0)"/>
<stop offset="0.42" stop-color="rgb(225,240,30)"/>
<stop offset="0.5" stop-color="rgb(170,245,110)"/>
<stop offset="0.56" stop-color="rgb(80,245,160)"/>
<stop offset="0.59" stop-color="rgb(0,240,172)"/>
<stop offset="0.68" stop-color="rgb(0,225,222)"/>
<stop offset="0.735" stop-color="rgb(0,212,250)"/>
<stop offset="0.79" stop-color="rgb(20,170,255)"/>
<stop offset="0.88" stop-color="rgb(30,110,255)"/>
<stop offset="1.0" stop-color="rgb(40,35,250)"/>
</linearGradient>
<rect x="950.5" y="746.4" width="25.10" height="378.20" fill="url(#vg)"/>
<text x="945.4" y="734.9" font-family='"Liberation Sans", sans-serif' font-weight="bold" font-size="12" fill="#111">LST_DIFF (K)</text>
<g font-family='"Liberation Sans", sans-serif' font-weight="bold" font-size="13" fill="#111"><text x="980.4" y="753.5">7</text><text x="982.8" y="861.7">3</text><text x="980.2" y="971">-1</text><text x="978.7" y="1126.5">-7</text></g>
<line x1="79.7" y1="1049.3" x2="534.5" y2="1049.3" stroke="#bcbcbc" stroke-width="1"/>
<clipPath id="cpr"><path d="M97.00,1049.30 C107.50,1049.25 148.50,1049.17 160.00,1049.00 C171.50,1048.83 162.78,1049.03 166.00,1048.30 C169.22,1047.57 175.87,1046.68 179.30,1044.60 C182.73,1042.52 184.40,1040.93 186.60,1035.80 C188.80,1030.67 190.78,1023.57 192.50,1013.80 C194.22,1004.03 195.32,993.07 196.90,977.20 C198.48,961.33 200.42,938.13 202.00,918.60 C203.58,899.07 205.27,875.38 206.40,860.00 C207.53,844.62 207.95,838.43 208.80,826.30 C209.65,814.17 210.55,800.25 211.50,787.20 C212.45,774.15 213.52,761.03 214.50,748.00 C215.48,734.97 216.38,718.67 217.40,709.00 C218.42,699.33 219.30,694.55 220.60,690.00 C221.90,685.45 223.78,681.78 225.20,681.70 C226.62,681.62 227.97,683.32 229.10,689.50 C230.23,695.68 231.02,709.05 232.00,718.80 C232.98,728.55 234.20,738.23 235.00,748.00 C235.80,757.77 236.00,765.98 236.80,777.40 C237.60,788.82 238.63,802.73 239.80,816.50 C240.97,830.27 241.92,845.42 243.80,860.00 C245.68,874.58 248.67,891.80 251.10,904.00 C253.53,916.20 255.72,925.88 258.40,933.20 C261.08,940.52 264.27,944.23 267.20,947.90 C270.13,951.57 273.43,953.73 276.00,955.20 C278.57,956.67 280.17,956.33 282.60,956.70 C285.03,957.07 287.70,958.13 290.60,957.40 C293.50,956.67 296.22,954.08 300.00,952.30 C303.78,950.52 308.48,945.92 313.30,946.70 C318.12,947.48 324.45,952.60 328.90,957.00 C333.35,961.40 336.07,967.55 340.00,973.10 C343.93,978.65 348.20,985.73 352.50,990.30 C356.80,994.87 361.38,999.98 365.80,1000.50 C370.22,1001.02 375.10,994.97 379.00,993.40 C382.90,991.83 386.32,992.67 389.20,991.10 C392.08,989.53 394.08,985.68 396.30,984.00 C398.52,982.32 400.17,980.47 402.50,981.00 C404.83,981.53 407.95,982.53 410.30,987.20 C412.65,991.87 414.77,1002.48 416.60,1009.00 C418.43,1015.52 419.48,1020.82 421.30,1026.30 C423.12,1031.78 424.90,1038.18 427.50,1041.90 C430.10,1045.62 434.48,1047.37 436.90,1048.60 C439.32,1049.83 441.15,1049.18 442.00,1049.30 Z"/></clipPath>
<path d="M97.00,1049.30 C107.50,1049.25 148.50,1049.17 160.00,1049.00 C171.50,1048.83 162.78,1049.03 166.00,1048.30 C169.22,1047.57 175.87,1046.68 179.30,1044.60 C182.73,1042.52 184.40,1040.93 186.60,1035.80 C188.80,1030.67 190.78,1023.57 192.50,1013.80 C194.22,1004.03 195.32,993.07 196.90,977.20 C198.48,961.33 200.42,938.13 202.00,918.60 C203.58,899.07 205.27,875.38 206.40,860.00 C207.53,844.62 207.95,838.43 208.80,826.30 C209.65,814.17 210.55,800.25 211.50,787.20 C212.45,774.15 213.52,761.03 214.50,748.00 C215.48,734.97 216.38,718.67 217.40,709.00 C218.42,699.33 219.30,694.55 220.60,690.00 C221.90,685.45 223.78,681.78 225.20,681.70 C226.62,681.62 227.97,683.32 229.10,689.50 C230.23,695.68 231.02,709.05 232.00,718.80 C232.98,728.55 234.20,738.23 235.00,748.00 C235.80,757.77 236.00,765.98 236.80,777.40 C237.60,788.82 238.63,802.73 239.80,816.50 C240.97,830.27 241.92,845.42 243.80,860.00 C245.68,874.58 248.67,891.80 251.10,904.00 C253.53,916.20 255.72,925.88 258.40,933.20 C261.08,940.52 264.27,944.23 267.20,947.90 C270.13,951.57 273.43,953.73 276.00,955.20 C278.57,956.67 280.17,956.33 282.60,956.70 C285.03,957.07 287.70,958.13 290.60,957.40 C293.50,956.67 296.22,954.08 300.00,952.30 C303.78,950.52 308.48,945.92 313.30,946.70 C318.12,947.48 324.45,952.60 328.90,957.00 C333.35,961.40 336.07,967.55 340.00,973.10 C343.93,978.65 348.20,985.73 352.50,990.30 C356.80,994.87 361.38,999.98 365.80,1000.50 C370.22,1001.02 375.10,994.97 379.00,993.40 C382.90,991.83 386.32,992.67 389.20,991.10 C392.08,989.53 394.08,985.68 396.30,984.00 C398.52,982.32 400.17,980.47 402.50,981.00 C404.83,981.53 407.95,982.53 410.30,987.20 C412.65,991.87 414.77,1002.48 416.60,1009.00 C418.43,1015.52 419.48,1020.82 421.30,1026.30 C423.12,1031.78 424.90,1038.18 427.50,1041.90 C430.10,1045.62 434.48,1047.37 436.90,1048.60 C439.32,1049.83 441.15,1049.18 442.00,1049.30 Z" fill="#ffb3b3"/>
<path d="M110.00,1049.30 C118.33,1049.25 148.45,1049.55 160.00,1049.00 C171.55,1048.45 174.13,1048.20 179.30,1046.00 C184.47,1043.80 187.58,1040.43 191.00,1035.80 C194.42,1031.17 197.35,1025.53 199.80,1018.20 C202.25,1010.87 203.87,1003.52 205.70,991.80 C207.53,980.08 209.03,962.55 210.80,947.90 C212.57,933.25 214.63,918.55 216.30,903.90 C217.97,889.25 219.43,871.32 220.80,860.00 C222.17,848.68 223.07,844.88 224.50,836.00 C225.93,827.12 227.73,815.82 229.40,806.70 C231.07,797.58 232.70,787.00 234.50,781.30 C236.30,775.60 238.33,772.82 240.20,772.50 C242.07,772.18 243.48,773.70 245.70,779.40 C247.92,785.10 251.22,797.27 253.50,806.70 C255.78,816.13 257.85,827.12 259.40,836.00 C260.95,844.88 261.27,849.90 262.80,860.00 C264.33,870.10 266.65,885.62 268.60,896.60 C270.55,907.58 272.30,916.13 274.50,925.90 C276.70,935.67 279.60,948.12 281.80,955.20 C284.00,962.28 285.50,964.50 287.70,968.40 C289.90,972.30 293.12,976.68 295.00,978.60 C296.88,980.52 295.95,981.50 299.00,979.90 C302.05,978.30 308.32,972.82 313.30,969.00 C318.28,965.18 324.45,959.83 328.90,957.00 C333.35,954.17 335.55,953.48 340.00,952.00 C344.45,950.52 351.43,948.48 355.60,948.10 C359.77,947.72 361.87,947.88 365.00,949.70 C368.13,951.52 371.53,955.10 374.40,959.00 C377.27,962.90 379.73,967.75 382.20,973.10 C384.67,978.45 386.85,984.85 389.20,991.10 C391.55,997.35 393.57,1005.00 396.30,1010.60 C399.03,1016.20 402.65,1021.88 405.60,1024.70 C408.55,1027.52 411.38,1027.23 414.00,1027.50 C416.62,1027.77 418.53,1028.07 421.30,1026.30 C424.07,1024.53 426.43,1020.17 430.60,1016.90 C434.77,1013.63 441.60,1006.70 446.30,1006.70 C451.00,1006.70 454.38,1012.60 458.80,1016.90 C463.22,1021.20 468.12,1027.95 472.80,1032.50 C477.48,1037.05 482.73,1041.47 486.90,1044.20 C491.07,1046.93 492.62,1048.05 497.80,1048.90 C502.98,1049.75 514.63,1049.23 518.00,1049.30 Z" fill="#b4b4ff"/>
<path d="M110.00,1049.30 C118.33,1049.25 148.45,1049.55 160.00,1049.00 C171.55,1048.45 174.13,1048.20 179.30,1046.00 C184.47,1043.80 187.58,1040.43 191.00,1035.80 C194.42,1031.17 197.35,1025.53 199.80,1018.20 C202.25,1010.87 203.87,1003.52 205.70,991.80 C207.53,980.08 209.03,962.55 210.80,947.90 C212.57,933.25 214.63,918.55 216.30,903.90 C217.97,889.25 219.43,871.32 220.80,860.00 C222.17,848.68 223.07,844.88 224.50,836.00 C225.93,827.12 227.73,815.82 229.40,806.70 C231.07,797.58 232.70,787.00 234.50,781.30 C236.30,775.60 238.33,772.82 240.20,772.50 C242.07,772.18 243.48,773.70 245.70,779.40 C247.92,785.10 251.22,797.27 253.50,806.70 C255.78,816.13 257.85,827.12 259.40,836.00 C260.95,844.88 261.27,849.90 262.80,860.00 C264.33,870.10 266.65,885.62 268.60,896.60 C270.55,907.58 272.30,916.13 274.50,925.90 C276.70,935.67 279.60,948.12 281.80,955.20 C284.00,962.28 285.50,964.50 287.70,968.40 C289.90,972.30 293.12,976.68 295.00,978.60 C296.88,980.52 295.95,981.50 299.00,979.90 C302.05,978.30 308.32,972.82 313.30,969.00 C318.28,965.18 324.45,959.83 328.90,957.00 C333.35,954.17 335.55,953.48 340.00,952.00 C344.45,950.52 351.43,948.48 355.60,948.10 C359.77,947.72 361.87,947.88 365.00,949.70 C368.13,951.52 371.53,955.10 374.40,959.00 C377.27,962.90 379.73,967.75 382.20,973.10 C384.67,978.45 386.85,984.85 389.20,991.10 C391.55,997.35 393.57,1005.00 396.30,1010.60 C399.03,1016.20 402.65,1021.88 405.60,1024.70 C408.55,1027.52 411.38,1027.23 414.00,1027.50 C416.62,1027.77 418.53,1028.07 421.30,1026.30 C424.07,1024.53 426.43,1020.17 430.60,1016.90 C434.77,1013.63 441.60,1006.70 446.30,1006.70 C451.00,1006.70 454.38,1012.60 458.80,1016.90 C463.22,1021.20 468.12,1027.95 472.80,1032.50 C477.48,1037.05 482.73,1041.47 486.90,1044.20 C491.07,1046.93 492.62,1048.05 497.80,1048.90 C502.98,1049.75 514.63,1049.23 518.00,1049.30 Z" fill="#c47ccc" clip-path="url(#cpr)"/>
<path d="M97.00,1049.30 C107.50,1049.25 148.50,1049.17 160.00,1049.00 C171.50,1048.83 162.78,1049.03 166.00,1048.30 C169.22,1047.57 175.87,1046.68 179.30,1044.60 C182.73,1042.52 184.40,1040.93 186.60,1035.80 C188.80,1030.67 190.78,1023.57 192.50,1013.80 C194.22,1004.03 195.32,993.07 196.90,977.20 C198.48,961.33 200.42,938.13 202.00,918.60 C203.58,899.07 205.27,875.38 206.40,860.00 C207.53,844.62 207.95,838.43 208.80,826.30 C209.65,814.17 210.55,800.25 211.50,787.20 C212.45,774.15 213.52,761.03 214.50,748.00 C215.48,734.97 216.38,718.67 217.40,709.00 C218.42,699.33 219.30,694.55 220.60,690.00 C221.90,685.45 223.78,681.78 225.20,681.70 C226.62,681.62 227.97,683.32 229.10,689.50 C230.23,695.68 231.02,709.05 232.00,718.80 C232.98,728.55 234.20,738.23 235.00,748.00 C235.80,757.77 236.00,765.98 236.80,777.40 C237.60,788.82 238.63,802.73 239.80,816.50 C240.97,830.27 241.92,845.42 243.80,860.00 C245.68,874.58 248.67,891.80 251.10,904.00 C253.53,916.20 255.72,925.88 258.40,933.20 C261.08,940.52 264.27,944.23 267.20,947.90 C270.13,951.57 273.43,953.73 276.00,955.20 C278.57,956.67 280.17,956.33 282.60,956.70 C285.03,957.07 287.70,958.13 290.60,957.40 C293.50,956.67 296.22,954.08 300.00,952.30 C303.78,950.52 308.48,945.92 313.30,946.70 C318.12,947.48 324.45,952.60 328.90,957.00 C333.35,961.40 336.07,967.55 340.00,973.10 C343.93,978.65 348.20,985.73 352.50,990.30 C356.80,994.87 361.38,999.98 365.80,1000.50 C370.22,1001.02 375.10,994.97 379.00,993.40 C382.90,991.83 386.32,992.67 389.20,991.10 C392.08,989.53 394.08,985.68 396.30,984.00 C398.52,982.32 400.17,980.47 402.50,981.00 C404.83,981.53 407.95,982.53 410.30,987.20 C412.65,991.87 414.77,1002.48 416.60,1009.00 C418.43,1015.52 419.48,1020.82 421.30,1026.30 C423.12,1031.78 424.90,1038.18 427.50,1041.90 C430.10,1045.62 434.48,1047.37 436.90,1048.60 C439.32,1049.83 441.15,1049.18 442.00,1049.30 Z" fill="none" stroke="#5a2a40" stroke-width="0.9"/>
<path d="M110.00,1049.30 C118.33,1049.25 148.45,1049.55 160.00,1049.00 C171.55,1048.45 174.13,1048.20 179.30,1046.00 C184.47,1043.80 187.58,1040.43 191.00,1035.80 C194.42,1031.17 197.35,1025.53 199.80,1018.20 C202.25,1010.87 203.87,1003.52 205.70,991.80 C207.53,980.08 209.03,962.55 210.80,947.90 C212.57,933.25 214.63,918.55 216.30,903.90 C217.97,889.25 219.43,871.32 220.80,860.00 C222.17,848.68 223.07,844.88 224.50,836.00 C225.93,827.12 227.73,815.82 229.40,806.70 C231.07,797.58 232.70,787.00 234.50,781.30 C236.30,775.60 238.33,772.82 240.20,772.50 C242.07,772.18 243.48,773.70 245.70,779.40 C247.92,785.10 251.22,797.27 253.50,806.70 C255.78,816.13 257.85,827.12 259.40,836.00 C260.95,844.88 261.27,849.90 262.80,860.00 C264.33,870.10 266.65,885.62 268.60,896.60 C270.55,907.58 272.30,916.13 274.50,925.90 C276.70,935.67 279.60,948.12 281.80,955.20 C284.00,962.28 285.50,964.50 287.70,968.40 C289.90,972.30 293.12,976.68 295.00,978.60 C296.88,980.52 295.95,981.50 299.00,979.90 C302.05,978.30 308.32,972.82 313.30,969.00 C318.28,965.18 324.45,959.83 328.90,957.00 C333.35,954.17 335.55,953.48 340.00,952.00 C344.45,950.52 351.43,948.48 355.60,948.10 C359.77,947.72 361.87,947.88 365.00,949.70 C368.13,951.52 371.53,955.10 374.40,959.00 C377.27,962.90 379.73,967.75 382.20,973.10 C384.67,978.45 386.85,984.85 389.20,991.10 C391.55,997.35 393.57,1005.00 396.30,1010.60 C399.03,1016.20 402.65,1021.88 405.60,1024.70 C408.55,1027.52 411.38,1027.23 414.00,1027.50 C416.62,1027.77 418.53,1028.07 421.30,1026.30 C424.07,1024.53 426.43,1020.17 430.60,1016.90 C434.77,1013.63 441.60,1006.70 446.30,1006.70 C451.00,1006.70 454.38,1012.60 458.80,1016.90 C463.22,1021.20 468.12,1027.95 472.80,1032.50 C477.48,1037.05 482.73,1041.47 486.90,1044.20 C491.07,1046.93 492.62,1048.05 497.80,1048.90 C502.98,1049.75 514.63,1049.23 518.00,1049.30 Z" fill="none" stroke="#3a2a5a" stroke-width="0.9"/>
<rect x="79.7" y="667.0" width="454.80" height="396.80" fill="none" stroke="#6a6a6a" stroke-width="1.3"/>
<g stroke="#555" stroke-width="1.2"><line x1="160.60" y1="1063.8" x2="160.60" y2="1073.8"/><line x1="276.20" y1="1063.8" x2="276.20" y2="1073.8"/><line x1="391.80" y1="1063.8" x2="391.80" y2="1073.8"/><line x1="507.40" y1="1063.8" x2="507.40" y2="1073.8"/><line x1="70.3" y1="1049.30" x2="79.7" y2="1049.30"/><line x1="70.3" y1="931.03" x2="79.7" y2="931.03"/><line x1="70.3" y1="812.76" x2="79.7" y2="812.76"/><line x1="70.3" y1="694.49" x2="79.7" y2="694.49"/></g>
<g font-family='"Liberation Sans", sans-serif' font-size="16.8" fill="#333"><text x="146.00" y="1099.4" textLength="26.1" lengthAdjust="spacingAndGlyphs">300</text><text x="261.60" y="1099.4" textLength="26.1" lengthAdjust="spacingAndGlyphs">310</text><text x="377.20" y="1099.4" textLength="26.1" lengthAdjust="spacingAndGlyphs">320</text><text x="492.80" y="1099.4" textLength="26.1" lengthAdjust="spacingAndGlyphs">330</text><text transform="translate(58,1064.65) rotate(-90)" textLength="30.7" lengthAdjust="spacingAndGlyphs">0.00</text><text transform="translate(58,946.38) rotate(-90)" textLength="30.7" lengthAdjust="spacingAndGlyphs">0.05</text><text transform="translate(58,828.11) rotate(-90)" textLength="30.7" lengthAdjust="spacingAndGlyphs">0.10</text><text transform="translate(58,709.84) rotate(-90)" textLength="30.7" lengthAdjust="spacingAndGlyphs">0.15</text></g>
<text x="307" y="1137.8" text-anchor="middle" font-family='"Liberation Sans", sans-serif' font-size="20.5" fill="#222">LST (K)</text>
<text transform="translate(19,864.5) rotate(-90)" text-anchor="middle" font-family='"Liberation Sans", sans-serif' font-size="20.8" fill="#222">Density</text>
<rect x="334.7" y="681.6" width="11.5" height="9.5" fill="#ffaaaa"/>
<rect x="334.7" y="701.1" width="11.5" height="9.5" fill="#aaaaff"/>
<g font-family='"Liberation Sans", sans-serif' font-size="16" fill="#222"><text x="359.3" y="692.2">MODIS derived LST</text><text x="359.3" y="712.1">HJ-1B/IRS derived LST</text></g>
<text x="512" y="1208.8" text-anchor="middle" font-family='"Liberation Serif", serif' font-size="35" fill="#111">(<tspan font-weight="bold">b</tspan>) 19 June 2012</text>
</svg></body></html>
